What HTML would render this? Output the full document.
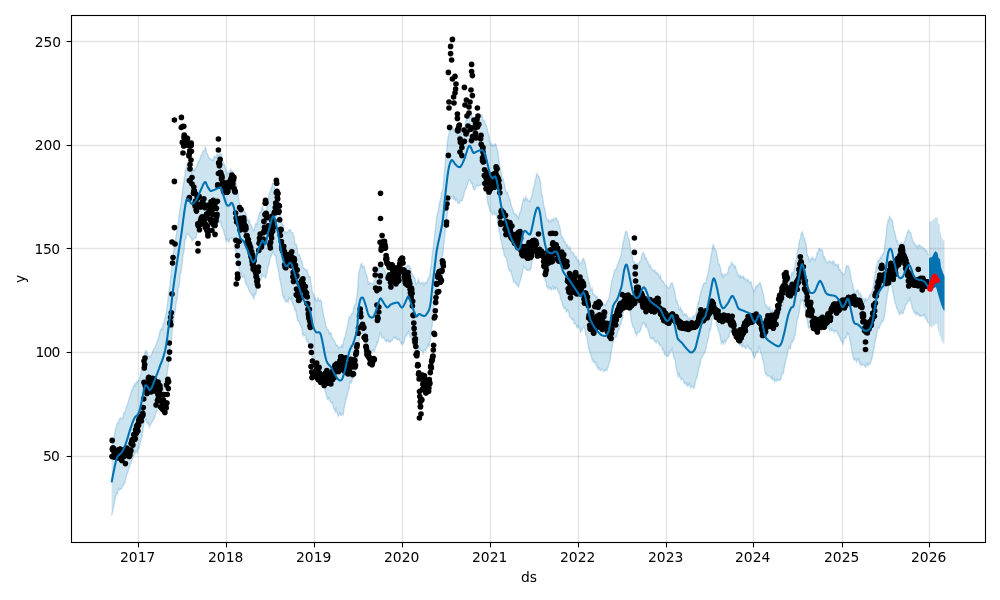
<!DOCTYPE html>
<html><head><meta charset="utf-8"><title>forecast</title>
<style>
html,body{margin:0;padding:0;background:#fff;}
svg{display:block;}
text{font-family:"DejaVu Sans","Liberation Sans",sans-serif;font-size:13.89px;fill:#000;}
</style></head><body>
<svg width="1000" height="600" viewBox="0 0 1000 600">
<rect width="1000" height="600" fill="#fff"/>
<defs><clipPath id="c"><rect x="71.5" y="15.5" width="914.0" height="527.0"/></clipPath></defs>
<g clip-path="url(#c)">
<g stroke="#808080" stroke-opacity="0.2" stroke-width="1.39"><line x1="138.5" x2="138.5" y1="15.5" y2="542.5"/><line x1="226.5" x2="226.5" y1="15.5" y2="542.5"/><line x1="314.5" x2="314.5" y1="15.5" y2="542.5"/><line x1="402.5" x2="402.5" y1="15.5" y2="542.5"/><line x1="490.5" x2="490.5" y1="15.5" y2="542.5"/><line x1="578.5" x2="578.5" y1="15.5" y2="542.5"/><line x1="666.5" x2="666.5" y1="15.5" y2="542.5"/><line x1="753.5" x2="753.5" y1="15.5" y2="542.5"/><line x1="842.5" x2="842.5" y1="15.5" y2="542.5"/><line x1="929.5" x2="929.5" y1="15.5" y2="542.5"/><line x1="71.5" x2="985.5" y1="456.5" y2="456.5"/><line x1="71.5" x2="985.5" y1="352.5" y2="352.5"/><line x1="71.5" x2="985.5" y1="248.5" y2="248.5"/><line x1="71.5" x2="985.5" y1="145.5" y2="145.5"/><line x1="71.5" x2="985.5" y1="41.5" y2="41.5"/></g>
<polygon points="111.6,449.9 112.1,446.3 112.6,443.6 113.1,440.7 113.6,438.6 114.1,437.9 114.6,434.8 115.1,430.9 115.6,429.3 116.1,428.1 116.6,425.8 117.1,423.6 117.6,422.5 118.1,423.1 118.6,421.4 119.1,420.2 119.6,419.1 120.1,418.2 120.6,418.1 121.1,418.3 121.6,418.4 122.1,418.1 122.6,418.4 123.1,417.3 123.6,414 124.1,412.4 124.6,413.1 125.1,412.4 125.6,409.9 126.1,407.9 126.6,406.7 127.1,404.7 127.6,404.5 128.1,402.6 128.6,400 129.1,399.5 129.6,397.5 130.1,395.2 130.6,394.3 131.1,393 131.6,390.6 132.1,389.3 132.6,389.9 133.1,387.5 133.6,385.7 134.1,386 134.6,383.7 135.1,384.7 135.6,385.4 136.1,382.5 136.6,381.7 137.1,382.7 137.6,381.9 138.1,381.2 138.6,380.5 139.1,379.6 139.6,379.7 140.1,376.8 140.6,374.2 141.1,372 141.6,369.6 142.1,366.6 142.6,363.4 143.1,361.4 143.6,359.6 144.1,358.1 144.6,354.4 145.1,351.5 145.6,352.3 146.1,351.4 146.6,350.7 147.1,352.5 147.6,354.5 148.1,356 148.6,355.9 149.1,355.8 149.6,356.6 150.1,357.5 150.6,356.7 151.1,354.4 151.6,354.5 152.1,353.5 152.6,351.8 153.1,350.2 153.6,349 154.1,348.5 154.6,348.1 155.1,347.6 155.6,345.4 156.1,344.5 156.6,342.8 157.1,341.6 157.6,340.5 158.1,339.1 158.6,336.8 159.1,335.2 159.6,333.5 160.1,330.2 160.6,329.9 161.1,329.4 161.6,328.5 162.1,329.4 162.6,327.6 163.1,324 163.6,323.1 164.1,322.2 164.6,320.2 165.1,317.4 165.6,315.8 166.1,313.8 166.6,309.7 167.1,305.9 167.6,302.8 168.1,298.2 168.6,294.1 169.1,290.2 169.6,286.8 170.1,283.5 170.6,278.6 171.1,273.8 171.6,269.4 172.1,263.5 172.6,257.7 173.1,255.8 173.6,251.6 174.1,248.3 174.6,245.3 175.1,241.8 175.6,239.1 176.1,236 176.6,233.3 177.1,227.9 177.6,225.5 178.1,224.4 178.6,220.3 179.1,215.5 179.6,211.9 180.1,208 180.6,205.6 181.1,202.7 181.6,198.2 182.1,194.3 182.6,189.9 183.1,185.7 183.6,183.3 184.1,180.6 184.6,176.8 185.1,174.2 185.6,170.1 186.1,167.6 186.6,166 187.1,165.6 187.6,165.8 188.1,165.7 188.6,165.4 189.1,165.9 189.6,169 190.1,169.9 190.6,169 191.1,170.3 191.6,173 192.1,172 192.6,170.6 193.1,170.6 193.6,169.1 194.1,169.5 194.6,170.6 195.1,169.4 195.6,168.2 196.1,167.7 196.6,166.8 197.1,165.3 197.6,163.7 198.1,161.5 198.6,162.1 199.1,161.5 199.6,159.4 200.1,158.7 200.6,156.9 201.1,155.1 201.6,155 202.1,154 202.6,152.2 203.1,151.1 203.6,151.2 204.1,150.8 204.6,149.7 205.1,148.4 205.6,147.4 206.1,149.7 206.6,152.9 207.1,153.5 207.6,154.1 208.1,155.8 208.6,156.9 209.1,158.1 209.6,158 210.1,159.2 210.6,159.2 211.1,158.9 211.6,160 212.1,159.8 212.6,160.6 213.1,160.9 213.6,158.5 214.1,155.6 214.6,157.1 215.1,157.3 215.6,156.5 216.1,157.7 216.6,156 217.1,153.6 217.6,154.8 218.1,156.1 218.6,155.3 219.1,155.1 219.6,154.6 220.1,153.3 220.6,153.8 221.1,154.6 221.6,154.6 222.1,157.5 222.6,160.8 223.1,162 223.6,162.9 224.1,163.8 224.6,165.4 225.1,166.9 225.6,169.1 226.1,170.3 226.6,171.5 227.1,173.2 227.6,174.7 228.1,173 228.6,172.1 229.1,173.1 229.6,172 230.1,170.4 230.6,169.4 231.1,170.6 231.6,170.7 232.1,170.7 232.6,171.3 233.1,173.2 233.6,175.2 234.1,174.6 234.6,176 235.1,178.5 235.6,178.8 236.1,182.1 236.6,188.3 237.1,191.2 237.6,191.7 238.1,193.6 238.6,198.2 239.1,201.9 239.6,203.3 240.1,204.7 240.6,205.8 241.1,207.5 241.6,208.4 242.1,208.3 242.6,207.4 243.1,208.1 243.6,209.3 244.1,210.7 244.6,211.7 245.1,211.5 245.6,213.6 246.1,213.6 246.6,216.4 247.1,219.6 247.6,219 248.1,219.7 248.6,221.7 249.1,220 249.6,220.8 250.1,223.8 250.6,224.6 251.1,225.1 251.6,225.9 252.1,227.7 252.6,229.5 253.1,230.3 253.6,229.5 254.1,230.1 254.6,228.4 255.1,225.9 255.6,223.5 256.1,223.8 256.6,224.3 257.1,222.1 257.6,220.1 258.1,218.1 258.6,216.3 259.1,214.7 259.6,213.1 260.1,212 260.6,212.2 261.1,211.5 261.6,209.3 262.1,207.2 262.6,206.7 263.1,209 263.6,210.8 264.1,210.5 264.6,210.9 265.1,210.6 265.6,210.4 266.1,210.5 266.6,208 267.1,204.2 267.6,201.7 268.1,200 268.6,196.6 269.1,194.1 269.6,193.1 270.1,192.1 270.6,190.1 271.1,187.9 271.6,188.2 272.1,186 272.6,183.1 273.1,182.6 273.6,183.4 274.1,183.2 274.6,184.9 275.1,189.2 275.6,190.7 276.1,191.4 276.6,193.2 277.1,196 277.6,198 278.1,199.3 278.6,203.8 279.1,206.9 279.6,209.5 280.1,214.7 280.6,217.1 281.1,218.8 281.6,222.5 282.1,224.2 282.6,223.9 283.1,224.6 283.6,226.8 284.1,230.7 284.6,233 285.1,232.1 285.6,231.5 286.1,231.8 286.6,232.6 287.1,232.6 287.6,232 288.1,231.9 288.6,230.8 289.1,230 289.6,230 290.1,229.6 290.6,229.9 291.1,231.8 291.6,232.7 292.1,232.8 292.6,232.6 293.1,234.5 293.6,235.9 294.1,236.2 294.6,240.5 295.1,243.9 295.6,244.8 296.1,244.3 296.6,245.6 297.1,248.1 297.6,250.3 298.1,253.9 298.6,255.1 299.1,254.6 299.6,255 300.1,256.8 300.6,258.9 301.1,259.3 301.6,260.6 302.1,262.2 302.6,264.4 303.1,267.3 303.6,268.5 304.1,268.4 304.6,268.6 305.1,269.5 305.6,269.5 306.1,270.1 306.6,270.1 307.1,270 307.6,272.7 308.1,274.6 308.6,275.1 309.1,277.3 309.6,276.7 310.1,276.6 310.6,280.5 311.1,284.1 311.6,287 312.1,290.4 312.6,293.3 313.1,293.3 313.6,293.8 314.1,296.5 314.6,298.7 315.1,297.2 315.6,298.6 316.1,301 316.6,301 317.1,300.2 317.6,298.6 318.1,297.8 318.6,300 319.1,301 319.6,300.5 320.1,300.5 320.6,300 321.1,301.1 321.6,302.6 322.1,307.2 322.6,309.1 323.1,311.8 323.6,315.6 324.1,317 324.6,319.1 325.1,321.9 325.6,324.4 326.1,326.5 326.6,327.6 327.1,329.1 327.6,329.9 328.1,329.7 328.6,330.9 329.1,333.5 329.6,332.9 330.1,332.2 330.6,333.2 331.1,333.1 331.6,335.5 332.1,336.7 332.6,338.2 333.1,338.9 333.6,339.4 334.1,340.7 334.6,340.9 335.1,342.3 335.6,343.7 336.1,344.8 336.6,345.7 337.1,345 337.6,345.4 338.1,346.7 338.6,348.1 339.1,347.8 339.6,347.1 340.1,346.5 340.6,346.9 341.1,347.2 341.6,344.9 342.1,345 342.6,346.4 343.1,343.9 343.6,340.5 344.1,339.4 344.6,337.5 345.1,336.2 345.6,334.2 346.1,331.3 346.6,330.2 347.1,327.6 347.6,325.2 348.1,322.7 348.6,319.3 349.1,317.1 349.6,317.9 350.1,318 350.6,315.5 351.1,314.8 351.6,313.9 352.1,313.2 352.6,313.5 353.1,312.2 353.6,308 354.1,306.7 354.6,305.1 355.1,304.5 355.6,304.5 356.1,301.1 356.6,297.1 357.1,294.5 357.6,290.8 358.1,281.1 358.6,274.3 359.1,271.9 359.6,269.9 360.1,267.8 360.6,265.3 361.1,264.1 361.6,263.4 362.1,265.7 362.6,267.5 363.1,266.3 363.6,266 364.1,266.2 364.6,268 365.1,270.8 365.6,272.3 366.1,273.9 366.6,274.6 367.1,276.5 367.6,278.9 368.1,281.6 368.6,284.2 369.1,284.2 369.6,282.5 370.1,282.9 370.6,283.2 371.1,282.9 371.6,283.7 372.1,283.5 372.6,283.8 373.1,284.2 373.6,283.3 374.1,282.1 374.6,280.4 375.1,278.6 375.6,277.7 376.1,276.5 376.6,275.4 377.1,274.1 377.6,271.2 378.1,269.6 378.6,268.2 379.1,266.1 379.6,265.8 380.1,263.8 380.6,263.4 381.1,265.4 381.6,265.8 382.1,266.5 382.6,267.3 383.1,267.8 383.6,268.4 384.1,269.5 384.6,270.6 385.1,271.3 385.6,272 386.1,273.7 386.6,274 387.1,273.8 387.6,274.4 388.1,273.1 388.6,272.7 389.1,274 389.6,273.3 390.1,273 390.6,271.8 391.1,270.5 391.6,271.5 392.1,271.8 392.6,271.2 393.1,269.7 393.6,269.9 394.1,271.7 394.6,272.2 395.1,271.4 395.6,269.6 396.1,270.1 396.6,271 397.1,268.2 397.6,268.4 398.1,269.3 398.6,268.5 399.1,269.8 399.6,272.5 400.1,273.6 400.6,273.4 401.1,275.5 401.6,276.7 402.1,275.1 402.6,273.8 403.1,272.1 403.6,270.9 404.1,271.3 404.6,271.2 405.1,270.2 405.6,269.6 406.1,267.9 406.6,265.9 407.1,266.1 407.6,265.4 408.1,265.2 408.6,265.4 409.1,265.5 409.6,267 410.1,268.1 410.6,268 411.1,270.3 411.6,273.2 412.1,274.3 412.6,274.3 413.1,275 413.6,277.3 414.1,277.9 414.6,277.5 415.1,279 415.6,282.7 416.1,284.4 416.6,283.5 417.1,283.2 417.6,283.3 418.1,280.4 418.6,279.2 419.1,281.6 419.6,282.2 420.1,283.5 420.6,284.2 421.1,283.4 421.6,282.8 422.1,283.2 422.6,282.8 423.1,282.2 423.6,283.6 424.1,285.2 424.6,284.2 425.1,282.4 425.6,282.3 426.1,283 426.6,282.3 427.1,282 427.6,280.3 428.1,278.1 428.6,277.7 429.1,277.2 429.6,276.6 430.1,272.4 430.6,268.1 431.1,265.9 431.6,260.8 432.1,254.6 432.6,251.7 433.1,248.9 433.6,244.5 434.1,239.4 434.6,235.8 435.1,231.7 435.6,227.4 436.1,222.7 436.6,217.3 437.1,215.2 437.6,212.9 438.1,210.7 438.6,209 439.1,205.1 439.6,202.7 440.1,200.7 440.6,198.8 441.1,196.3 441.6,192.8 442.1,191.6 442.6,190.7 443.1,187.5 443.6,181.2 444.1,174.4 444.6,170 445.1,165.1 445.6,158.4 446.1,154.3 446.6,151.1 447.1,146 447.6,140.5 448.1,136.7 448.6,135.7 449.1,133.8 449.6,131.2 450.1,130.4 450.6,130.1 451.1,128.4 451.6,127.6 452.1,127.2 452.6,127.1 453.1,127.7 453.6,129.5 454.1,131.3 454.6,130.5 455.1,131 455.6,132.1 456.1,133.4 456.6,132.3 457.1,131.4 457.6,132.9 458.1,135.9 458.6,136.9 459.1,134.7 459.6,134.5 460.1,135.6 460.6,134.5 461.1,132 461.6,132.8 462.1,132.8 462.6,131.4 463.1,129.3 463.6,128.7 464.1,129.4 464.6,127.2 465.1,125.2 465.6,121.7 466.1,120.2 466.6,119.9 467.1,118.1 467.6,117.1 468.1,114.9 468.6,111.9 469.1,111.7 469.6,112.9 470.1,113 470.6,114 471.1,114.8 471.6,114.6 472.1,117 472.6,120.2 473.1,120.9 473.6,122.6 474.1,121.8 474.6,118.8 475.1,118 475.6,117.9 476.1,117.8 476.6,118.4 477.1,117.2 477.6,117.1 478.1,117.4 478.6,117.1 479.1,117.9 479.6,117.3 480.1,117.1 480.6,116.7 481.1,116.2 481.6,115.1 482.1,115.4 482.6,118.5 483.1,120.5 483.6,120.8 484.1,120.9 484.6,120.5 485.1,122.7 485.6,124.5 486.1,125 486.6,126.4 487.1,128.5 487.6,130.8 488.1,133 488.6,134.7 489.1,136.6 489.6,141.3 490.1,143.1 490.6,142.4 491.1,143.7 491.6,145.4 492.1,145.1 492.6,144.7 493.1,146.1 493.6,145.9 494.1,144.3 494.6,144.9 495.1,144.3 495.6,143.8 496.1,145.2 496.6,148.3 497.1,149.5 497.6,150.2 498.1,153.7 498.6,157.7 499.1,161.2 499.6,164.8 500.1,166.7 500.6,169.4 501.1,173.3 501.6,174.3 502.1,177.2 502.6,179 503.1,178.8 503.6,180.9 504.1,182.9 504.6,184.2 505.1,187.3 505.6,189.7 506.1,192.1 506.6,193 507.1,191.8 507.6,192.9 508.1,194.7 508.6,195.8 509.1,198.3 509.6,200 510.1,199.7 510.6,202.2 511.1,205 511.6,206 512.1,207.5 512.6,208.7 513.1,210.1 513.6,211.7 514.1,213.3 514.6,213.6 515.1,214.4 515.6,213.9 516.1,214.1 516.6,215.6 517.1,216.6 517.6,215.8 518.1,216.8 518.6,218.1 519.1,215.2 519.6,212.9 520.1,212.1 520.6,211.5 521.1,209.2 521.6,207 522.1,204.3 522.6,202.2 523.1,200.2 523.6,198.5 524.1,199.1 524.6,200.7 525.1,199 525.6,196.9 526.1,197.8 526.6,199.5 527.1,199.8 527.6,199.3 528.1,200.9 528.6,200.9 529.1,200.6 529.6,201.3 530.1,200.3 530.6,198.8 531.1,198.5 531.6,197.2 532.1,195.3 532.6,191.4 533.1,188.5 533.6,188 534.1,186.2 534.6,183.4 535.1,180.2 535.6,178.7 536.1,177.4 536.6,174.3 537.1,173.5 537.6,175.4 538.1,175.8 538.6,176.1 539.1,176.7 539.6,178.4 540.1,180.6 540.6,182.7 541.1,189 541.6,193.5 542.1,194.7 542.6,197.1 543.1,200.9 543.6,205 544.1,207.4 544.6,207.7 545.1,210.4 545.6,213.8 546.1,216.3 546.6,218.6 547.1,219.4 547.6,220.3 548.1,219.4 548.6,219.8 549.1,222.4 549.6,222.3 550.1,220.8 550.6,220.3 551.1,221.4 551.6,220.6 552.1,219.1 552.6,220 553.1,220.7 553.6,219.4 554.1,218.6 554.6,218.5 555.1,218.1 555.6,218.5 556.1,217.9 556.6,218.4 557.1,220.5 557.6,220.7 558.1,220.8 558.6,223.9 559.1,225 559.6,226.3 560.1,228.3 560.6,230.7 561.1,235.1 561.6,237.4 562.1,236.9 562.6,237.3 563.1,239.1 563.6,239.6 564.1,241.7 564.6,241.3 565.1,241.8 565.6,243.8 566.1,244.6 566.6,245.5 567.1,244.5 567.6,245.1 568.1,247 568.6,247.5 569.1,248.2 569.6,248.6 570.1,247.1 570.6,249.2 571.1,252 571.6,251.9 572.1,251.8 572.6,253.2 573.1,253.6 573.6,253 574.1,254 574.6,256.4 575.1,255.9 575.6,256.8 576.1,258.2 576.6,256.9 577.1,259.3 577.6,261 578.1,259.9 578.6,260.3 579.1,262.8 579.6,264.5 580.1,264.1 580.6,263.4 581.1,263.6 581.6,261.6 582.1,260.6 582.6,260.1 583.1,258.7 583.6,258.3 584.1,259.9 584.6,261.5 585.1,262.6 585.6,264.3 586.1,267.7 586.6,270.3 587.1,272.3 587.6,275.7 588.1,277.9 588.6,281.6 589.1,282.8 589.6,283.8 590.1,285.9 590.6,288.5 591.1,291.3 591.6,289.4 592.1,288.2 592.6,291.2 593.1,293.7 593.6,294.4 594.1,294.3 594.6,294.8 595.1,295.9 595.6,296.1 596.1,297.2 596.6,296 597.1,296.6 597.6,298.1 598.1,298.7 598.6,300.1 599.1,299.2 599.6,300.5 600.1,301 600.6,300.3 601.1,300.4 601.6,301.3 602.1,302.9 602.6,304.2 603.1,303.8 603.6,304.2 604.1,304.6 604.6,304 605.1,304.4 605.6,305.1 606.1,303.7 606.6,302.1 607.1,301.6 607.6,301.3 608.1,299.9 608.6,299 609.1,297.7 609.6,294.9 610.1,292 610.6,288.5 611.1,286 611.6,282 612.1,280.3 612.6,278.3 613.1,276 613.6,274.8 614.1,271.9 614.6,270.3 615.1,270.3 615.6,270 616.1,269 616.6,268.1 617.1,265.9 617.6,264.6 618.1,262.9 618.6,261.7 619.1,261.2 619.6,259 620.1,257.8 620.6,256.9 621.1,254.7 621.6,251.2 622.1,248.8 622.6,245.4 623.1,241.8 623.6,241.3 624.1,238.3 624.6,235.4 625.1,233.4 625.6,231.7 626.1,231.7 626.6,231.3 627.1,232.4 627.6,235.5 628.1,237.2 628.6,238.4 629.1,240.1 629.6,243.1 630.1,246.4 630.6,249.1 631.1,252.1 631.6,255.3 632.1,256 632.6,256.4 633.1,260.7 633.6,261.9 634.1,261.8 634.6,262.8 635.1,262.9 635.6,263.7 636.1,267.1 636.6,268.1 637.1,265 637.6,263 638.1,263.2 638.6,264.5 639.1,263.3 639.6,261.6 640.1,261.8 640.6,261.8 641.1,259.1 641.6,256.4 642.1,254.2 642.6,253.6 643.1,252.3 643.6,253.2 644.1,254.5 644.6,254.8 645.1,257.6 645.6,258.9 646.1,257.7 646.6,258.5 647.1,261.5 647.6,261.8 648.1,262 648.6,264.3 649.1,265.1 649.6,267.2 650.1,267.2 650.6,265.5 651.1,267.7 651.6,268.7 652.1,269.3 652.6,270.2 653.1,270.5 653.6,271.3 654.1,270.2 654.6,269.8 655.1,271.5 655.6,272.1 656.1,273.2 656.6,272.5 657.1,272.1 657.6,273.9 658.1,275.2 658.6,274.3 659.1,276.1 659.6,279 660.1,276.3 660.6,275.1 661.1,279.2 661.6,280.7 662.1,280.2 662.6,280.8 663.1,281.1 663.6,281.9 664.1,282.8 664.6,284.4 665.1,285.3 665.6,285.2 666.1,285.4 666.6,286.4 667.1,286.8 667.6,286.9 668.1,288 668.6,288.3 669.1,287.7 669.6,287.2 670.1,285.7 670.6,284.4 671.1,283.3 671.6,283.3 672.1,282.7 672.6,284.1 673.1,286.5 673.6,286.6 674.1,288.7 674.6,291 675.1,293.9 675.6,296.3 676.1,299.8 676.6,301.8 677.1,301.2 677.6,303.2 678.1,304.5 678.6,305.9 679.1,308.7 679.6,309.7 680.1,308.1 680.6,307.2 681.1,310.2 681.6,311.6 682.1,310.6 682.6,311.6 683.1,314.4 683.6,315.3 684.1,314.1 684.6,313.7 685.1,314.8 685.6,314.8 686.1,314 686.6,315.2 687.1,316 687.6,316.5 688.1,317.8 688.6,319.9 689.1,319.3 689.6,317.6 690.1,318.4 690.6,319.3 691.1,320.3 691.6,319.3 692.1,317.7 692.6,316.5 693.1,315.9 693.6,317 694.1,317.7 694.6,316.2 695.1,314.9 695.6,314.3 696.1,313.2 696.6,310.4 697.1,307.7 697.6,304.7 698.1,302.1 698.6,302.9 699.1,300 699.6,296.3 700.1,295.8 700.6,293.6 701.1,290.9 701.6,289.4 702.1,288 702.6,286.8 703.1,284.5 703.6,283.8 704.1,283.8 704.6,282.8 705.1,283.1 705.6,283.2 706.1,282.1 706.6,279.2 707.1,276.9 707.6,275.7 708.1,273.5 708.6,271.2 709.1,267.7 709.6,263.8 710.1,262.1 710.6,258.6 711.1,255.3 711.6,253.1 712.1,250.2 712.6,246.8 713.1,244.7 713.6,245.3 714.1,247.1 714.6,248.6 715.1,249.2 715.6,249.8 716.1,251.1 716.6,253.2 717.1,255.9 717.6,258.2 718.1,262.2 718.6,264.1 719.1,263.8 719.6,265.2 720.1,267 720.6,268.5 721.1,272.2 721.6,274.7 722.1,273.5 722.6,274.6 723.1,277.1 723.6,276.5 724.1,274.5 724.6,274.1 725.1,274.5 725.6,274.7 726.1,274.8 726.6,274.5 727.1,273.5 727.6,272.9 728.1,271.4 728.6,268.2 729.1,266.7 729.6,266.8 730.1,265.5 730.6,265.1 731.1,264 731.6,262.2 732.1,262.9 732.6,264.4 733.1,264.2 733.6,265.2 734.1,267 734.6,267.7 735.1,265.6 735.6,266.3 736.1,269.2 736.6,270.3 737.1,272.5 737.6,275.1 738.1,275.9 738.6,274.7 739.1,276.7 739.6,277.5 740.1,275.2 740.6,275.7 741.1,277.3 741.6,276.5 742.1,277.1 742.6,277.5 743.1,276.1 743.6,277.1 744.1,278.6 744.6,278.3 745.1,278.3 745.6,278.9 746.1,281 746.6,280.8 747.1,279.7 747.6,280.6 748.1,279.8 748.6,280.9 749.1,282.2 749.6,282.8 750.1,282.6 750.6,281.7 751.1,282 751.6,284.3 752.1,286.8 752.6,288.7 753.1,289.6 753.6,290.3 754.1,291.8 754.6,291.1 755.1,288.6 755.6,286.8 756.1,286.1 756.6,287.3 757.1,286.7 757.6,285.3 758.1,285 758.6,284.3 759.1,284 759.6,282.6 760.1,282.4 760.6,283.9 761.1,285.5 761.6,286.9 762.1,288.3 762.6,292 763.1,293.3 763.6,294.6 764.1,298.1 764.6,300.4 765.1,304 765.6,305.2 766.1,306 766.6,305.4 767.1,306.6 767.6,307.7 768.1,308.1 768.6,309.2 769.1,307.1 769.6,306.8 770.1,309 770.6,310.9 771.1,311.5 771.6,310.8 772.1,309.6 772.6,310.8 773.1,313.5 773.6,312.6 774.1,310.9 774.6,309.6 775.1,310.7 775.6,314.4 776.1,314.7 776.6,314 777.1,313.9 777.6,312 778.1,312.9 778.6,312.5 779.1,311 779.6,312.1 780.1,312.7 780.6,312.4 781.1,310.9 781.6,308.7 782.1,306.2 782.6,305 783.1,303.3 783.6,300.5 784.1,298.1 784.6,296.8 785.1,294 785.6,291.1 786.1,288.8 786.6,287.6 787.1,287 787.6,286.4 788.1,282.8 788.6,279.2 789.1,279.9 789.6,279.1 790.1,276.8 790.6,277.3 791.1,276.1 791.6,272.9 792.1,272.3 792.6,273.4 793.1,274.4 793.6,271.9 794.1,268.5 794.6,267.3 795.1,266 795.6,262 796.1,259.4 796.6,257.9 797.1,253.5 797.6,250.3 798.1,249.4 798.6,246.9 799.1,242.1 799.6,239.7 800.1,239.4 800.6,238.4 801.1,233.6 801.6,233.1 802.1,233.1 802.6,232.1 803.1,235.3 803.6,237 804.1,238.1 804.6,238.4 805.1,241 805.6,243.9 806.1,243.9 806.6,249 807.1,254.1 807.6,255.3 808.1,256 808.6,257.2 809.1,260.5 809.6,261.5 810.1,260.7 810.6,258.9 811.1,259.4 811.6,258.2 812.1,257 812.6,259 813.1,259.2 813.6,258.6 814.1,259.2 814.6,260.2 815.1,260.8 815.6,258.2 816.1,257 816.6,255.2 817.1,252.5 817.6,253.1 818.1,251.4 818.6,249.4 819.1,248.5 819.6,248.4 820.1,250.4 820.6,250 821.1,249.3 821.6,250.1 822.1,250 822.6,250.7 823.1,253.7 823.6,257.6 824.1,258.2 824.6,257.1 825.1,258.5 825.6,260 826.1,260.7 826.6,262.2 827.1,262.4 827.6,263 828.1,262.5 828.6,261.5 829.1,260.8 829.6,261 830.1,261.5 830.6,261.6 831.1,262.3 831.6,262.3 832.1,263.6 832.6,261.7 833.1,260.7 833.6,261 834.1,262.5 834.6,265.1 835.1,265.3 835.6,264 836.1,264.7 836.6,264.5 837.1,265 837.6,266.4 838.1,263.5 838.6,266.9 839.1,270.8 839.6,269 840.1,269.1 840.6,271 841.1,272.4 841.6,272.4 842.1,272.4 842.6,274.2 843.1,274.5 843.6,274.7 844.1,273.9 844.6,274 845.1,272.5 845.6,269.4 846.1,267.2 846.6,264.9 847.1,266.6 847.6,266.3 848.1,265.7 848.6,267.1 849.1,267.9 849.6,269.6 850.1,272.6 850.6,274.7 851.1,278.2 851.6,281.6 852.1,282.8 852.6,283.6 853.1,286.4 853.6,288.9 854.1,290.7 854.6,293.6 855.1,293.8 855.6,292 856.1,291.1 856.6,290.6 857.1,290.1 857.6,290 858.1,291 858.6,292.1 859.1,293.7 859.6,294.1 860.1,293.6 860.6,293.4 861.1,295.3 861.6,297.1 862.1,297.8 862.6,298.5 863.1,298.9 863.6,298.6 864.1,298.4 864.6,301 865.1,299.5 865.6,298.3 866.1,300.7 866.6,300.3 867.1,299.4 867.6,299.8 868.1,298.5 868.6,297.4 869.1,296.6 869.6,295 870.1,294.3 870.6,294 871.1,293.6 871.6,293 872.1,290.2 872.6,289.3 873.1,288.6 873.6,284.5 874.1,280 874.6,276.2 875.1,274.1 875.6,271.5 876.1,266.9 876.6,264.6 877.1,266.4 877.6,262.7 878.1,260.2 878.6,261.3 879.1,259.7 879.6,259.8 880.1,258.2 880.6,256.9 881.1,258.1 881.6,257 882.1,254.6 882.6,254.2 883.1,253.6 883.6,253.9 884.1,251.4 884.6,247.1 885.1,242.8 885.6,238.6 886.1,235.6 886.6,228.8 887.1,225.3 887.6,223.2 888.1,219.9 888.6,220.5 889.1,218.7 889.6,215.6 890.1,217.5 890.6,218.6 891.1,218.9 891.6,220 892.1,219.9 892.6,221.9 893.1,226.1 893.6,229.1 894.1,230.4 894.6,231.6 895.1,233.6 895.6,235.3 896.1,238.7 896.6,241 897.1,240.1 897.6,240.9 898.1,243 898.6,244.8 899.1,244.6 899.6,243.9 900.1,244.2 900.6,243.6 901.1,242.5 901.6,244.3 902.1,244.9 902.6,243.9 903.1,244.4 903.6,243.6 904.1,241.7 904.6,241.3 905.1,240.6 905.6,237.5 906.1,236.4 906.6,236 907.1,233.4 907.6,231.9 908.1,231.7 908.6,230 909.1,230.2 909.6,232 910.1,232.8 910.6,232.8 911.1,234.2 911.6,236.8 912.1,238.7 912.6,239.5 913.1,241.6 913.6,242.8 914.1,242.8 914.6,245.4 915.1,245.4 915.6,244.5 916.1,246.1 916.6,246.8 917.1,245.7 917.6,246.2 918.1,247.7 918.6,245.9 919.1,244.6 919.6,245.6 920.1,245.5 920.6,245.8 921.1,246.1 921.6,247.4 922.1,247.4 922.6,247.3 923.1,248.6 923.6,248.4 924.1,248.3 924.6,250.6 925.1,251 925.6,249.8 926.1,250.1 926.6,250.6 927.1,251.7 927.6,254.1 928.1,254.6 928.6,254.7 928.6,323.3 928.1,322.9 927.6,321.6 927.1,320.6 926.6,319.6 926.1,318.5 925.6,318.6 925.1,317 924.6,314.8 924.1,315.6 923.6,315.9 923.1,315.2 922.6,315.6 922.1,316.1 921.6,315.9 921.1,315.8 920.6,316.3 920.1,315.5 919.6,315.1 919.1,316.1 918.6,315.3 918.1,313.9 917.6,314.2 917.1,312.8 916.6,312.5 916.1,314.9 915.6,314.3 915.1,312.2 914.6,312.8 914.1,312.5 913.6,310.3 913.1,309.6 912.6,309.2 912.1,307.3 911.6,304.7 911.1,302.5 910.6,300.8 910.1,298 909.6,298.7 909.1,301.3 908.6,301.1 908.1,300.7 907.6,301.9 907.1,303.6 906.6,304.2 906.1,304.2 905.6,305.1 905.1,307.5 904.6,309.9 904.1,309.9 903.6,309.8 903.1,313.5 902.6,313.8 902.1,312.8 901.6,312.8 901.1,311.9 900.6,312.8 900.1,314.6 899.6,314.6 899.1,313.9 898.6,312.3 898.1,310.7 897.6,309.8 897.1,308.3 896.6,308.6 896.1,306.1 895.6,303.5 895.1,303.3 894.6,301.7 894.1,297.5 893.6,295.1 893.1,294.1 892.6,290 892.1,287.5 891.6,286.1 891.1,283.7 890.6,280.1 890.1,281.1 889.6,284.4 889.1,285.3 888.6,288.6 888.1,291.7 887.6,293.4 887.1,296.6 886.6,299.7 886.1,303.5 885.6,308.3 885.1,312.8 884.6,315.7 884.1,317.5 883.6,320.5 883.1,321.3 882.6,321.3 882.1,322.1 881.6,321.4 881.1,323.2 880.6,324.8 880.1,325.3 879.6,327.1 879.1,328.5 878.6,328.5 878.1,327.6 877.6,329.1 877.1,331.3 876.6,335.3 876.1,337.6 875.6,338.8 875.1,342.6 874.6,345.3 874.1,348 873.6,350.7 873.1,351.2 872.6,355.4 872.1,358.6 871.6,358.9 871.1,361.6 870.6,362.1 870.1,363.8 869.6,364.4 869.1,363.7 868.6,365.3 868.1,365.8 867.6,365.3 867.1,363.2 866.6,363.4 866.1,367.1 865.6,367.3 865.1,366.3 864.6,365.8 864.1,364.3 863.6,364.5 863.1,365.1 862.6,365.1 862.1,365.4 861.6,365.5 861.1,363.3 860.6,362.8 860.1,364.7 859.6,363 859.1,359.9 858.6,360.5 858.1,360.7 857.6,357.9 857.1,359.8 856.6,361.9 856.1,360.7 855.6,359.6 855.1,358.9 854.6,360.1 854.1,359.9 853.6,358.9 853.1,356.8 852.6,355.1 852.1,352.1 851.6,349.5 851.1,345.9 850.6,343.3 850.1,342.1 849.6,338.4 849.1,336 848.6,333.9 848.1,333.4 847.6,334.8 847.1,333.5 846.6,335.3 846.1,338.3 845.6,337.8 845.1,338.1 844.6,338.5 844.1,339.4 843.6,341.3 843.1,344.1 842.6,343.5 842.1,341.7 841.6,340.9 841.1,340.9 840.6,340.2 840.1,338.5 839.6,336.8 839.1,335.9 838.6,336 838.1,333.8 837.6,333 837.1,333.1 836.6,330.7 836.1,330.7 835.6,331.1 835.1,330.8 834.6,331.5 834.1,332.4 833.6,331.4 833.1,330.8 832.6,330.3 832.1,329.6 831.6,330.7 831.1,330.3 830.6,328.5 830.1,329.9 829.6,331 829.1,328.7 828.6,326.3 828.1,327.3 827.6,327.9 827.1,328.2 826.6,328.4 826.1,326.3 825.6,325.1 825.1,325.3 824.6,325.6 824.1,322.8 823.6,319.9 823.1,319.4 822.6,318.8 822.1,318.3 821.6,317.8 821.1,315.3 820.6,314.8 820.1,316.5 819.6,317.6 819.1,317.9 818.6,316.9 818.1,315.9 817.6,318.9 817.1,320.6 816.6,321.2 816.1,324.4 815.6,326.1 815.1,325.8 814.6,325.5 814.1,325.5 813.6,325.2 813.1,326.2 812.6,326.4 812.1,327.1 811.6,327.6 811.1,328.1 810.6,329.4 810.1,328.5 809.6,327.2 809.1,327 808.6,327.9 808.1,325.6 807.6,322.3 807.1,319.4 806.6,317.4 806.1,315.9 805.6,311.8 805.1,307.9 804.6,307.5 804.1,307.4 803.6,303.3 803.1,300 802.6,299.9 802.1,301.2 801.6,301 801.1,300.2 800.6,303.1 800.1,306.3 799.6,309.1 799.1,312.7 798.6,315.3 798.1,318 797.6,319.3 797.1,320.6 796.6,324.2 796.1,327.2 795.6,331.3 795.1,335.7 794.6,336.4 794.1,338.1 793.6,340.3 793.1,339.8 792.6,342 792.1,342.6 791.6,341.6 791.1,343.6 790.6,347.7 790.1,349.4 789.6,347 789.1,346.6 788.6,348.4 788.1,350.5 787.6,352.7 787.1,355.7 786.6,357.1 786.1,359.3 785.6,361.4 785.1,363.7 784.6,366.5 784.1,368.5 783.6,372.3 783.1,373.6 782.6,372.9 782.1,373.7 781.6,376.1 781.1,378.8 780.6,380.1 780.1,380.4 779.6,380 779.1,380 778.6,380.2 778.1,380.1 777.6,380.8 777.1,380 776.6,379.3 776.1,381.2 775.6,380.6 775.1,380.2 774.6,381.7 774.1,379.7 773.6,377.7 773.1,379.9 772.6,379.6 772.1,376.7 771.6,378 771.1,378.9 770.6,377.6 770.1,377.5 769.6,376.5 769.1,375.6 768.6,375.7 768.1,375.7 767.6,376.2 767.1,375.2 766.6,373.8 766.1,374.6 765.6,374.3 765.1,372 764.6,370.3 764.1,366 763.6,362.7 763.1,361.4 762.6,359.6 762.1,357 761.6,354.1 761.1,353.1 760.6,353 760.1,350.3 759.6,347.7 759.1,346.9 758.6,349.1 758.1,351.8 757.6,351.8 757.1,352.5 756.6,352 756.1,352.7 755.6,354.9 755.1,356.2 754.6,358 754.1,357.4 753.6,355.5 753.1,355.5 752.6,353.1 752.1,351.7 751.6,351 751.1,349 750.6,349.8 750.1,349.5 749.6,348.1 749.1,348.4 748.6,347.2 748.1,346.5 747.6,345.4 747.1,346.1 746.6,347.5 746.1,348.7 745.6,348.4 745.1,346.9 744.6,347.1 744.1,347.4 743.6,345.3 743.1,344 742.6,346.5 742.1,347.1 741.6,345.4 741.1,344.2 740.6,344.5 740.1,344.8 739.6,345.3 739.1,343.6 738.6,341.4 738.1,342.9 737.6,342.7 737.1,341.9 736.6,341.6 736.1,338.2 735.6,336.5 735.1,336.5 734.6,334.5 734.1,331.3 733.6,330.4 733.1,330.5 732.6,329.6 732.1,330.8 731.6,330.5 731.1,328.4 730.6,329.6 730.1,332.2 729.6,333.5 729.1,336.3 728.6,337.6 728.1,337.9 727.6,339 727.1,339.1 726.6,339.3 726.1,340.8 725.6,342.6 725.1,340.7 724.6,340.4 724.1,342.4 723.6,344 723.1,343.1 722.6,341.7 722.1,343.2 721.6,344 721.1,342.3 720.6,340 720.1,336.9 719.6,333.5 719.1,332.6 718.6,332.1 718.1,329.8 717.6,327.6 717.1,326.9 716.6,322.7 716.1,317.9 715.6,316.7 715.1,316.2 714.6,314.1 714.1,314.4 713.6,315.5 713.1,314.7 712.6,315 712.1,318.3 711.6,323 711.1,326 710.6,329.1 710.1,330.7 709.6,329.8 709.1,333.4 708.6,338.2 708.1,339.3 707.6,341.4 707.1,343.2 706.6,344.6 706.1,348.1 705.6,349.6 705.1,351.1 704.6,353.5 704.1,353.6 703.6,354.3 703.1,355.3 702.6,356.2 702.1,356.6 701.6,358.1 701.1,359.7 700.6,360.7 700.1,364.2 699.6,365.9 699.1,366.8 698.6,370 698.1,372.3 697.6,374.4 697.1,377.2 696.6,378.4 696.1,379.4 695.6,381.3 695.1,383.2 694.6,386.2 694.1,388.1 693.6,388.3 693.1,386.1 692.6,385.6 692.1,386.7 691.6,387.2 691.1,387 690.6,388.1 690.1,386.6 689.6,384.1 689.1,385.6 688.6,385.6 688.1,384.3 687.6,386.3 687.1,386.1 686.6,383.4 686.1,384.1 685.6,383.7 685.1,382.8 684.6,383.9 684.1,383.1 683.6,381.5 683.1,380 682.6,379.1 682.1,378.4 681.6,378.7 681.1,380 680.6,377.5 680.1,377.6 679.6,376.7 679.1,374.2 678.6,375.7 678.1,376.8 677.6,374.3 677.1,371.6 676.6,370 676.1,367.5 675.6,364.5 675.1,360.2 674.6,358.4 674.1,358.2 673.6,356.8 673.1,354.1 672.6,350.7 672.1,348.6 671.6,349.4 671.1,351.6 670.6,351.3 670.1,351 669.6,353.6 669.1,354.7 668.6,355.5 668.1,356.6 667.6,356.4 667.1,355.7 666.6,355.9 666.1,354.8 665.6,354.7 665.1,355.3 664.6,354 664.1,352.7 663.6,350 663.1,349.2 662.6,350.2 662.1,348.9 661.6,346.7 661.1,345.6 660.6,344.9 660.1,344.6 659.6,345.6 659.1,344.1 658.6,342.9 658.1,342 657.6,341.4 657.1,341.1 656.6,341.7 656.1,342.8 655.6,341.9 655.1,341.2 654.6,341.5 654.1,340.1 653.6,338.1 653.1,339.2 652.6,338.8 652.1,338.1 651.6,338.9 651.1,339 650.6,338.4 650.1,337.8 649.6,336.1 649.1,334.3 648.6,331.9 648.1,330.5 647.6,328.6 647.1,328 646.6,327.4 646.1,325.2 645.6,326.5 645.1,325.5 644.6,323.2 644.1,323.6 643.6,322.5 643.1,322.7 642.6,324.2 642.1,324.9 641.6,326.1 641.1,328.2 640.6,330.4 640.1,330.5 639.6,331.5 639.1,332.5 638.6,332 638.1,332.3 637.6,333.1 637.1,334.6 636.6,335.6 636.1,333.4 635.6,333.3 635.1,333 634.6,329.9 634.1,328.4 633.6,327.6 633.1,327.3 632.6,325.5 632.1,323.8 631.6,322.4 631.1,318.8 630.6,314.8 630.1,312.2 629.6,309.5 629.1,308.1 628.6,308.2 628.1,305.9 627.6,302.2 627.1,300.2 626.6,299.2 626.1,299.4 625.6,300.6 625.1,302.3 624.6,303.1 624.1,304.9 623.6,309.2 623.1,313.6 622.6,317.9 622.1,319.6 621.6,320.9 621.1,323.2 620.6,324.7 620.1,325.3 619.6,327.7 619.1,329.4 618.6,330.2 618.1,330.8 617.6,331.7 617.1,334.5 616.6,336.6 616.1,337 615.6,336.3 615.1,337.2 614.6,338.3 614.1,338.8 613.6,340.8 613.1,342.7 612.6,344.1 612.1,347.5 611.6,350.6 611.1,353.3 610.6,357.2 610.1,359.8 609.6,361.9 609.1,363.3 608.6,365.4 608.1,367.3 607.6,368.4 607.1,369.9 606.6,370.7 606.1,370.6 605.6,369.7 605.1,370.5 604.6,370.7 604.1,371.2 603.6,371.5 603.1,370.6 602.6,369.6 602.1,369 601.6,369.7 601.1,369.6 600.6,370.5 600.1,370.4 599.6,369.3 599.1,367.6 598.6,367.6 598.1,369.3 597.6,367.9 597.1,366.1 596.6,365.7 596.1,365.5 595.6,363.6 595.1,362 594.6,361.7 594.1,362.7 593.6,362.3 593.1,360.1 592.6,360.8 592.1,360.3 591.6,357.1 591.1,355.9 590.6,355 590.1,352.6 589.6,350.7 589.1,350.2 588.6,347.8 588.1,344.7 587.6,341.6 587.1,338.3 586.6,335.6 586.1,335.5 585.6,333.7 585.1,330.2 584.6,328.3 584.1,326.5 583.6,327 583.1,327.6 582.6,327.9 582.1,330.2 581.6,329.7 581.1,330.3 580.6,333.1 580.1,330.5 579.6,327.5 579.1,327.7 578.6,326.3 578.1,325.4 577.6,326.9 577.1,327.8 576.6,327.1 576.1,325.1 575.6,324.3 575.1,323.5 574.6,323.9 574.1,323.5 573.6,319.7 573.1,319.1 572.6,320.3 572.1,319.5 571.6,319.1 571.1,318.7 570.6,317.3 570.1,316.7 569.6,316.8 569.1,314.8 568.6,311.6 568.1,310.2 567.6,309.7 567.1,311.3 566.6,312.3 566.1,311.5 565.6,309.3 565.1,307.5 564.6,308.3 564.1,308.4 563.6,306.7 563.1,306.3 562.6,304.9 562.1,301.9 561.6,301.1 561.1,300 560.6,298.7 560.1,296.1 559.6,293.9 559.1,292.6 558.6,292.7 558.1,291.9 557.6,289.8 557.1,288.4 556.6,288.2 556.1,287.4 555.6,288.3 555.1,289.2 554.6,287.8 554.1,289.2 553.6,289.4 553.1,287 552.6,286.4 552.1,288.7 551.6,289.9 551.1,288.8 550.6,288.7 550.1,287.7 549.6,287.9 549.1,289.1 548.6,287.9 548.1,286.2 547.6,286.3 547.1,287.7 546.6,286.1 546.1,281.7 545.6,281.5 545.1,280.2 544.6,275.3 544.1,273.5 543.6,272.6 543.1,270 542.6,266.1 542.1,263.1 541.6,258.9 541.1,253.8 540.6,249.1 540.1,245.7 539.6,245.9 539.1,245.5 538.6,244.1 538.1,244.1 537.6,241.9 537.1,242 536.6,243.9 536.1,246 535.6,248.6 535.1,249.3 534.6,251 534.1,252.9 533.6,256.1 533.1,257.9 532.6,259.3 532.1,260.8 531.6,264.6 531.1,268.5 530.6,269 530.1,269.8 529.6,269.7 529.1,270.6 528.6,269.5 528.1,269.5 527.6,270.4 527.1,270.5 526.6,270.2 526.1,268.8 525.6,268.6 525.1,267.6 524.6,267.7 524.1,266.9 523.6,266.1 523.1,269.3 522.6,271.5 522.1,274.2 521.6,275.8 521.1,278 520.6,280.1 520.1,281.2 519.6,282.6 519.1,284.6 518.6,287.1 518.1,286.4 517.6,285.7 517.1,285.2 516.6,283.1 516.1,282.9 515.6,283.6 515.1,281.9 514.6,281.5 514.1,282.2 513.6,282.1 513.1,279.7 512.6,277.8 512.1,276.4 511.6,274.3 511.1,272.8 510.6,270.7 510.1,271.2 509.6,271.1 509.1,268.9 508.6,268.8 508.1,267 507.6,263.6 507.1,262 506.6,259 506.1,257.1 505.6,257.3 505.1,256.3 504.6,256.1 504.1,255.3 503.6,250.9 503.1,249.4 502.6,248.9 502.1,245.7 501.6,242.9 501.1,240.5 500.6,239.4 500.1,235.3 499.6,232.6 499.1,231.8 498.6,227.3 498.1,224.1 497.6,220.9 497.1,218 496.6,215.6 496.1,213 495.6,213.2 495.1,214.8 494.6,214.5 494.1,211.4 493.6,211.8 493.1,214.3 492.6,214.8 492.1,214.3 491.6,212.7 491.1,211.7 490.6,211.8 490.1,210.9 489.6,209.2 489.1,207.5 488.6,205.8 488.1,204.5 487.6,201.5 487.1,196.8 486.6,194.4 486.1,193.4 485.6,190.9 485.1,190.9 484.6,189.9 484.1,186.5 483.6,186 483.1,185.8 482.6,184.1 482.1,182.9 481.6,183.8 481.1,184.6 480.6,184.9 480.1,185.3 479.6,185.4 479.1,185.3 478.6,185.7 478.1,186.4 477.6,185.9 477.1,185.2 476.6,185.2 476.1,186.2 475.6,187.9 475.1,189.4 474.6,189.9 474.1,189.6 473.6,189 473.1,188.1 472.6,185.6 472.1,183.5 471.6,183.7 471.1,183.5 470.6,181.7 470.1,180.3 469.6,180.3 469.1,179.9 468.6,180.8 468.1,182.6 467.6,184.5 467.1,185.8 466.6,187.2 466.1,188.7 465.6,188.8 465.1,190.4 464.6,192.3 464.1,193.6 463.6,196.7 463.1,197.4 462.6,198.3 462.1,200.6 461.6,200.9 461.1,200.5 460.6,201 460.1,201.3 459.6,202.3 459.1,203.2 458.6,203.2 458.1,203.5 457.6,202.7 457.1,200.4 456.6,198.8 456.1,199.6 455.6,200.7 455.1,200.1 454.6,197.8 454.1,199.4 453.6,199.5 453.1,196.4 452.6,196.6 452.1,197.3 451.6,196.8 451.1,197.3 450.6,198.8 450.1,199.1 449.6,200.1 449.1,201.9 448.6,202.8 448.1,206.2 447.6,211.5 447.1,216.4 446.6,219.2 446.1,222.1 445.6,227 445.1,232.7 444.6,238 444.1,242 443.6,246.5 443.1,252 442.6,255.7 442.1,256.6 441.6,259.1 441.1,263.9 440.6,267.6 440.1,267.6 439.6,269.2 439.1,273.9 438.6,277.5 438.1,279.6 437.6,281.2 437.1,283.8 436.6,286.5 436.1,290.5 435.6,295.5 435.1,299.8 434.6,302.7 434.1,307.4 433.6,312.4 433.1,316 432.6,322.1 432.1,326.6 431.6,327.8 431.1,333.5 430.6,338.5 430.1,341 429.6,343.5 429.1,346.5 428.6,346.2 428.1,344.6 427.6,345.8 427.1,347.8 426.6,348.3 426.1,349.1 425.6,351.1 425.1,349.7 424.6,350 424.1,350.2 423.6,351.4 423.1,353.2 422.6,351.4 422.1,351 421.6,350.7 421.1,350.4 420.6,350.5 420.1,348.8 419.6,349 419.1,348.7 418.6,347.5 418.1,350.6 417.6,351.9 417.1,350.8 416.6,351.9 416.1,351.8 415.6,351 415.1,349 414.6,346.6 414.1,345.3 413.6,344.9 413.1,344.5 412.6,345.1 412.1,342.8 411.6,339.8 411.1,337.7 410.6,336.5 410.1,336.8 409.6,335.7 409.1,333.9 408.6,331.3 408.1,332.4 407.6,332.9 407.1,334.2 406.6,336.1 406.1,335.3 405.6,336.2 405.1,337.5 404.6,340 404.1,341.6 403.6,343.1 403.1,344.1 402.6,342.6 402.1,342.4 401.6,344.3 401.1,343.7 400.6,341.6 400.1,341.4 399.6,340.5 399.1,339.2 398.6,339.6 398.1,339.7 397.6,339.5 397.1,339.9 396.6,338.5 396.1,337.3 395.6,338.5 395.1,338.7 394.6,337.7 394.1,337 393.6,338.1 393.1,339 392.6,339.2 392.1,340.6 391.6,340.4 391.1,340.5 390.6,342.2 390.1,342 389.6,341.1 389.1,342.2 388.6,342 388.1,340.2 387.6,340.7 387.1,340.9 386.6,340.3 386.1,342 385.6,341.2 385.1,339.8 384.6,339.7 384.1,337.8 383.6,337.4 383.1,337.9 382.6,337.6 382.1,338 381.6,337.3 381.1,335.1 380.6,332.8 380.1,332.9 379.6,335 379.1,337.6 378.6,339.5 378.1,342 377.6,343.3 377.1,342.6 376.6,344.8 376.1,346.7 375.6,346.8 375.1,348.7 374.6,350.9 374.1,351.6 373.6,350.7 373.1,350 372.6,350.6 372.1,351.3 371.6,352.7 371.1,352.8 370.6,350.9 370.1,350.2 369.6,352.1 369.1,352.9 368.6,351 368.1,348 367.6,347.9 367.1,345.3 366.6,342.8 366.1,342.7 365.6,340.5 365.1,338.4 364.6,336.6 364.1,336.4 363.6,333.5 363.1,331.1 362.6,333.5 362.1,333.9 361.6,334 361.1,333.2 360.6,332.4 360.1,334.6 359.6,337.6 359.1,341.8 358.6,345.2 358.1,350.7 357.6,357 357.1,363.1 356.6,365.4 356.1,366.6 355.6,370.4 355.1,371.7 354.6,372.7 354.1,374.6 353.6,377.4 353.1,378.7 352.6,378.8 352.1,379.8 351.6,382 351.1,383.2 350.6,382.8 350.1,381.9 349.6,383.7 349.1,388.9 348.6,390.3 348.1,391.7 347.6,394.6 347.1,396.5 346.6,397.6 346.1,399.2 345.6,401.9 345.1,404.1 344.6,405.4 344.1,408.5 343.6,412.3 343.1,414.7 342.6,414 342.1,413.7 341.6,415.6 341.1,415.4 340.6,415.4 340.1,414.1 339.6,413 339.1,414.6 338.6,416.1 338.1,416.2 337.6,414.1 337.1,413.4 336.6,411.7 336.1,409.2 335.6,410.6 335.1,411.9 334.6,409 334.1,409.1 333.6,408.6 333.1,405.7 332.6,404.4 332.1,402.7 331.6,403.1 331.1,402.2 330.6,401.4 330.1,401.9 329.6,399.2 329.1,397.8 328.6,399.3 328.1,398.5 327.6,399 327.1,398.7 326.6,395.2 326.1,394.5 325.6,393 325.1,390.7 324.6,387.8 324.1,384.8 323.6,382.3 323.1,380.3 322.6,377.6 322.1,374.3 321.6,372.8 321.1,371.6 320.6,370.1 320.1,368.4 319.6,369.4 319.1,370.3 318.6,369.6 318.1,369 317.6,367.4 317.1,366.4 316.6,367.6 316.1,368.6 315.6,368.8 315.1,368 314.6,365.9 314.1,365.2 313.6,363.1 313.1,361.7 312.6,360.1 312.1,355.9 311.6,354.5 311.1,352.1 310.6,348.3 310.1,345.6 309.6,344.9 309.1,344.9 308.6,344.5 308.1,343 307.6,340.1 307.1,339.5 306.6,340.8 306.1,338 305.6,335.7 305.1,335.4 304.6,335.5 304.1,335 303.6,334.2 303.1,335.8 302.6,334.1 302.1,330.9 301.6,327.5 301.1,326.1 300.6,325.8 300.1,324.2 299.6,322.9 299.1,321.7 298.6,320.9 298.1,321 297.6,320.8 297.1,318.4 296.6,315.2 296.1,312 295.6,310 295.1,310.7 294.6,309.3 294.1,307.7 293.6,305.2 293.1,303.6 292.6,304.2 292.1,300.6 291.6,298.8 291.1,300.4 290.6,299.3 290.1,298.9 289.6,298.9 289.1,298 288.6,300.6 288.1,302.6 287.6,301.8 287.1,300.5 286.6,300.9 286.1,302.2 285.6,301.6 285.1,301.5 284.6,298.4 284.1,296.8 283.6,298.1 283.1,296.4 282.6,294.9 282.1,292.6 281.6,288.8 281.1,286.1 280.6,283.3 280.1,280.7 279.6,278.3 279.1,275.5 278.6,271.8 278.1,268.8 277.6,267.1 277.1,264.3 276.6,263.1 276.1,260.1 275.6,255.7 275.1,255.4 274.6,255.6 274.1,254.6 273.6,252.7 273.1,251.5 272.6,252.4 272.1,254 271.6,255.7 271.1,255.7 270.6,257.5 270.1,258.6 269.6,261.4 269.1,264.5 268.6,265.2 268.1,266.9 267.6,269.2 267.1,272.5 266.6,274 266.1,276.2 265.6,277.9 265.1,277.6 264.6,276.9 264.1,276.3 263.6,276.3 263.1,276.1 262.6,274.8 262.1,274.7 261.6,277.5 261.1,278.9 260.6,279.6 260.1,280.3 259.6,281 259.1,282.6 258.6,286.5 258.1,287.5 257.6,286.8 257.1,288.8 256.6,290.3 256.1,292.8 255.6,294.4 255.1,293.8 254.6,294.8 254.1,298.2 253.6,298.7 253.1,295.1 252.6,295.7 252.1,296 251.6,294.1 251.1,293.6 250.6,292.6 250.1,292.5 249.6,291.7 249.1,290.6 248.6,289.3 248.1,287.6 247.6,286.3 247.1,285.8 246.6,285.1 246.1,283.8 245.6,283 245.1,280.8 244.6,277.3 244.1,276.3 243.6,276.5 243.1,277.5 242.6,277.3 242.1,276.7 241.6,275.9 241.1,273.6 240.6,272.4 240.1,272.3 239.6,271.1 239.1,268.1 238.6,266.3 238.1,264.3 237.6,261.6 237.1,258.4 236.6,254.8 236.1,252.7 235.6,250.9 235.1,248.4 234.6,244 234.1,241.2 233.6,241.3 233.1,241.2 232.6,239.7 232.1,237.8 231.6,237.8 231.1,238.6 230.6,238.2 230.1,238.1 229.6,240.2 229.1,241.8 228.6,242.3 228.1,240.7 227.6,239.1 227.1,238.8 226.6,240 226.1,241.1 225.6,239.3 225.1,236.3 224.6,234.7 224.1,233.9 223.6,230.7 223.1,229.2 222.6,228.7 222.1,227 221.6,226.4 221.1,224.6 220.6,221.5 220.1,222.2 219.6,222.4 219.1,221.6 218.6,222.5 218.1,223.5 217.6,224.9 217.1,223 216.6,222.9 216.1,224.6 215.6,223.3 215.1,223.4 214.6,224.9 214.1,226.6 213.6,228 213.1,226.4 212.6,225.5 212.1,225.8 211.6,225 211.1,225.1 210.6,226 210.1,224.9 209.6,223.9 209.1,223.1 208.6,222.5 208.1,223 207.6,222 207.1,220.3 206.6,217.9 206.1,215.8 205.6,215.1 205.1,215.1 204.6,216.7 204.1,218.2 203.6,220.2 203.1,220.3 202.6,221.7 202.1,222.1 201.6,222.9 201.1,225.9 200.6,226.2 200.1,225.2 199.6,224.5 199.1,227.2 198.6,230 198.1,231.9 197.6,232.2 197.1,232.6 196.6,235.3 196.1,237.7 195.6,238 195.1,238 194.6,238.6 194.1,238.8 193.6,239 193.1,239.3 192.6,241 192.1,240.8 191.6,239.3 191.1,238.3 190.6,237.8 190.1,237.4 189.6,235.9 189.1,235.2 188.6,234.9 188.1,234.5 187.6,234.4 187.1,233.4 186.6,233.5 186.1,237.9 185.6,239.6 185.1,239.2 184.6,244.4 184.1,250.7 183.6,253 183.1,255.1 182.6,259.2 182.1,264.4 181.6,268 181.1,271.7 180.6,273.6 180.1,275.4 179.6,281.9 179.1,286.2 178.6,287.2 178.1,288.9 177.6,294.5 177.1,299.1 176.6,300.9 176.1,303.1 175.6,307.5 175.1,312.2 174.6,313.1 174.1,317.6 173.6,322.4 173.1,324.4 172.6,327.8 172.1,331.8 171.6,338.4 171.1,343.1 170.6,345.3 170.1,350 169.6,354.9 169.1,360.1 168.6,364 168.1,366.4 167.6,370.4 167.1,374.1 166.6,378.2 166.1,381.2 165.6,383.6 165.1,386 164.6,386.2 164.1,388.1 163.6,391.4 163.1,392.5 162.6,395.3 162.1,396.3 161.6,395.4 161.1,396.7 160.6,399.8 160.1,401.7 159.6,402.6 159.1,403.3 158.6,405.1 158.1,408.1 157.6,408.9 157.1,409.8 156.6,411.6 156.1,412.5 155.6,414.1 155.1,416 154.6,417.4 154.1,418.8 153.6,419.5 153.1,420.1 152.6,421.2 152.1,422.2 151.6,422.4 151.1,424.1 150.6,424.5 150.1,425.6 149.6,426.9 149.1,425.6 148.6,424 148.1,422.8 147.6,423.1 147.1,424 146.6,421.2 146.1,419.3 145.6,419.8 145.1,420.3 144.6,421.8 144.1,422.8 143.6,425.6 143.1,429.7 142.6,433 142.1,436.2 141.6,438.1 141.1,439.8 140.6,442.2 140.1,443.6 139.6,445 139.1,448 138.6,449 138.1,448.5 137.6,451.3 137.1,453.1 136.6,451.6 136.1,450.9 135.6,452.2 135.1,453.4 134.6,452.4 134.1,455 133.6,456.6 133.1,456 132.6,458.5 132.1,460 131.6,460.5 131.1,463.3 130.6,463.3 130.1,464 129.6,467.2 129.1,467.6 128.6,468.7 128.1,471.6 127.6,472.9 127.1,473.8 126.6,475.4 126.1,477.5 125.6,480.1 125.1,481.3 124.6,483.5 124.1,484.4 123.6,484.6 123.1,485.9 122.6,486.2 122.1,486.6 121.6,488.6 121.1,489.2 120.6,488.9 120.1,489.4 119.6,489.7 119.1,490 118.6,488.9 118.1,491.1 117.6,493.5 117.1,492.4 116.6,492.9 116.1,495 115.6,496.5 115.1,498.2 114.6,502.4 114.1,505.3 113.6,505.9 113.1,508.6 112.6,512.2 112.1,513.5 111.6,515.6" fill="#0072B2" fill-opacity="0.2"/>
<polyline points="111.6,449.9 112.1,446.3 112.6,443.6 113.1,440.7 113.6,438.6 114.1,437.9 114.6,434.8 115.1,430.9 115.6,429.3 116.1,428.1 116.6,425.8 117.1,423.6 117.6,422.5 118.1,423.1 118.6,421.4 119.1,420.2 119.6,419.1 120.1,418.2 120.6,418.1 121.1,418.3 121.6,418.4 122.1,418.1 122.6,418.4 123.1,417.3 123.6,414 124.1,412.4 124.6,413.1 125.1,412.4 125.6,409.9 126.1,407.9 126.6,406.7 127.1,404.7 127.6,404.5 128.1,402.6 128.6,400 129.1,399.5 129.6,397.5 130.1,395.2 130.6,394.3 131.1,393 131.6,390.6 132.1,389.3 132.6,389.9 133.1,387.5 133.6,385.7 134.1,386 134.6,383.7 135.1,384.7 135.6,385.4 136.1,382.5 136.6,381.7 137.1,382.7 137.6,381.9 138.1,381.2 138.6,380.5 139.1,379.6 139.6,379.7 140.1,376.8 140.6,374.2 141.1,372 141.6,369.6 142.1,366.6 142.6,363.4 143.1,361.4 143.6,359.6 144.1,358.1 144.6,354.4 145.1,351.5 145.6,352.3 146.1,351.4 146.6,350.7 147.1,352.5 147.6,354.5 148.1,356 148.6,355.9 149.1,355.8 149.6,356.6 150.1,357.5 150.6,356.7 151.1,354.4 151.6,354.5 152.1,353.5 152.6,351.8 153.1,350.2 153.6,349 154.1,348.5 154.6,348.1 155.1,347.6 155.6,345.4 156.1,344.5 156.6,342.8 157.1,341.6 157.6,340.5 158.1,339.1 158.6,336.8 159.1,335.2 159.6,333.5 160.1,330.2 160.6,329.9 161.1,329.4 161.6,328.5 162.1,329.4 162.6,327.6 163.1,324 163.6,323.1 164.1,322.2 164.6,320.2 165.1,317.4 165.6,315.8 166.1,313.8 166.6,309.7 167.1,305.9 167.6,302.8 168.1,298.2 168.6,294.1 169.1,290.2 169.6,286.8 170.1,283.5 170.6,278.6 171.1,273.8 171.6,269.4 172.1,263.5 172.6,257.7 173.1,255.8 173.6,251.6 174.1,248.3 174.6,245.3 175.1,241.8 175.6,239.1 176.1,236 176.6,233.3 177.1,227.9 177.6,225.5 178.1,224.4 178.6,220.3 179.1,215.5 179.6,211.9 180.1,208 180.6,205.6 181.1,202.7 181.6,198.2 182.1,194.3 182.6,189.9 183.1,185.7 183.6,183.3 184.1,180.6 184.6,176.8 185.1,174.2 185.6,170.1 186.1,167.6 186.6,166 187.1,165.6 187.6,165.8 188.1,165.7 188.6,165.4 189.1,165.9 189.6,169 190.1,169.9 190.6,169 191.1,170.3 191.6,173 192.1,172 192.6,170.6 193.1,170.6 193.6,169.1 194.1,169.5 194.6,170.6 195.1,169.4 195.6,168.2 196.1,167.7 196.6,166.8 197.1,165.3 197.6,163.7 198.1,161.5 198.6,162.1 199.1,161.5 199.6,159.4 200.1,158.7 200.6,156.9 201.1,155.1 201.6,155 202.1,154 202.6,152.2 203.1,151.1 203.6,151.2 204.1,150.8 204.6,149.7 205.1,148.4 205.6,147.4 206.1,149.7 206.6,152.9 207.1,153.5 207.6,154.1 208.1,155.8 208.6,156.9 209.1,158.1 209.6,158 210.1,159.2 210.6,159.2 211.1,158.9 211.6,160 212.1,159.8 212.6,160.6 213.1,160.9 213.6,158.5 214.1,155.6 214.6,157.1 215.1,157.3 215.6,156.5 216.1,157.7 216.6,156 217.1,153.6 217.6,154.8 218.1,156.1 218.6,155.3 219.1,155.1 219.6,154.6 220.1,153.3 220.6,153.8 221.1,154.6 221.6,154.6 222.1,157.5 222.6,160.8 223.1,162 223.6,162.9 224.1,163.8 224.6,165.4 225.1,166.9 225.6,169.1 226.1,170.3 226.6,171.5 227.1,173.2 227.6,174.7 228.1,173 228.6,172.1 229.1,173.1 229.6,172 230.1,170.4 230.6,169.4 231.1,170.6 231.6,170.7 232.1,170.7 232.6,171.3 233.1,173.2 233.6,175.2 234.1,174.6 234.6,176 235.1,178.5 235.6,178.8 236.1,182.1 236.6,188.3 237.1,191.2 237.6,191.7 238.1,193.6 238.6,198.2 239.1,201.9 239.6,203.3 240.1,204.7 240.6,205.8 241.1,207.5 241.6,208.4 242.1,208.3 242.6,207.4 243.1,208.1 243.6,209.3 244.1,210.7 244.6,211.7 245.1,211.5 245.6,213.6 246.1,213.6 246.6,216.4 247.1,219.6 247.6,219 248.1,219.7 248.6,221.7 249.1,220 249.6,220.8 250.1,223.8 250.6,224.6 251.1,225.1 251.6,225.9 252.1,227.7 252.6,229.5 253.1,230.3 253.6,229.5 254.1,230.1 254.6,228.4 255.1,225.9 255.6,223.5 256.1,223.8 256.6,224.3 257.1,222.1 257.6,220.1 258.1,218.1 258.6,216.3 259.1,214.7 259.6,213.1 260.1,212 260.6,212.2 261.1,211.5 261.6,209.3 262.1,207.2 262.6,206.7 263.1,209 263.6,210.8 264.1,210.5 264.6,210.9 265.1,210.6 265.6,210.4 266.1,210.5 266.6,208 267.1,204.2 267.6,201.7 268.1,200 268.6,196.6 269.1,194.1 269.6,193.1 270.1,192.1 270.6,190.1 271.1,187.9 271.6,188.2 272.1,186 272.6,183.1 273.1,182.6 273.6,183.4 274.1,183.2 274.6,184.9 275.1,189.2 275.6,190.7 276.1,191.4 276.6,193.2 277.1,196 277.6,198 278.1,199.3 278.6,203.8 279.1,206.9 279.6,209.5 280.1,214.7 280.6,217.1 281.1,218.8 281.6,222.5 282.1,224.2 282.6,223.9 283.1,224.6 283.6,226.8 284.1,230.7 284.6,233 285.1,232.1 285.6,231.5 286.1,231.8 286.6,232.6 287.1,232.6 287.6,232 288.1,231.9 288.6,230.8 289.1,230 289.6,230 290.1,229.6 290.6,229.9 291.1,231.8 291.6,232.7 292.1,232.8 292.6,232.6 293.1,234.5 293.6,235.9 294.1,236.2 294.6,240.5 295.1,243.9 295.6,244.8 296.1,244.3 296.6,245.6 297.1,248.1 297.6,250.3 298.1,253.9 298.6,255.1 299.1,254.6 299.6,255 300.1,256.8 300.6,258.9 301.1,259.3 301.6,260.6 302.1,262.2 302.6,264.4 303.1,267.3 303.6,268.5 304.1,268.4 304.6,268.6 305.1,269.5 305.6,269.5 306.1,270.1 306.6,270.1 307.1,270 307.6,272.7 308.1,274.6 308.6,275.1 309.1,277.3 309.6,276.7 310.1,276.6 310.6,280.5 311.1,284.1 311.6,287 312.1,290.4 312.6,293.3 313.1,293.3 313.6,293.8 314.1,296.5 314.6,298.7 315.1,297.2 315.6,298.6 316.1,301 316.6,301 317.1,300.2 317.6,298.6 318.1,297.8 318.6,300 319.1,301 319.6,300.5 320.1,300.5 320.6,300 321.1,301.1 321.6,302.6 322.1,307.2 322.6,309.1 323.1,311.8 323.6,315.6 324.1,317 324.6,319.1 325.1,321.9 325.6,324.4 326.1,326.5 326.6,327.6 327.1,329.1 327.6,329.9 328.1,329.7 328.6,330.9 329.1,333.5 329.6,332.9 330.1,332.2 330.6,333.2 331.1,333.1 331.6,335.5 332.1,336.7 332.6,338.2 333.1,338.9 333.6,339.4 334.1,340.7 334.6,340.9 335.1,342.3 335.6,343.7 336.1,344.8 336.6,345.7 337.1,345 337.6,345.4 338.1,346.7 338.6,348.1 339.1,347.8 339.6,347.1 340.1,346.5 340.6,346.9 341.1,347.2 341.6,344.9 342.1,345 342.6,346.4 343.1,343.9 343.6,340.5 344.1,339.4 344.6,337.5 345.1,336.2 345.6,334.2 346.1,331.3 346.6,330.2 347.1,327.6 347.6,325.2 348.1,322.7 348.6,319.3 349.1,317.1 349.6,317.9 350.1,318 350.6,315.5 351.1,314.8 351.6,313.9 352.1,313.2 352.6,313.5 353.1,312.2 353.6,308 354.1,306.7 354.6,305.1 355.1,304.5 355.6,304.5 356.1,301.1 356.6,297.1 357.1,294.5 357.6,290.8 358.1,281.1 358.6,274.3 359.1,271.9 359.6,269.9 360.1,267.8 360.6,265.3 361.1,264.1 361.6,263.4 362.1,265.7 362.6,267.5 363.1,266.3 363.6,266 364.1,266.2 364.6,268 365.1,270.8 365.6,272.3 366.1,273.9 366.6,274.6 367.1,276.5 367.6,278.9 368.1,281.6 368.6,284.2 369.1,284.2 369.6,282.5 370.1,282.9 370.6,283.2 371.1,282.9 371.6,283.7 372.1,283.5 372.6,283.8 373.1,284.2 373.6,283.3 374.1,282.1 374.6,280.4 375.1,278.6 375.6,277.7 376.1,276.5 376.6,275.4 377.1,274.1 377.6,271.2 378.1,269.6 378.6,268.2 379.1,266.1 379.6,265.8 380.1,263.8 380.6,263.4 381.1,265.4 381.6,265.8 382.1,266.5 382.6,267.3 383.1,267.8 383.6,268.4 384.1,269.5 384.6,270.6 385.1,271.3 385.6,272 386.1,273.7 386.6,274 387.1,273.8 387.6,274.4 388.1,273.1 388.6,272.7 389.1,274 389.6,273.3 390.1,273 390.6,271.8 391.1,270.5 391.6,271.5 392.1,271.8 392.6,271.2 393.1,269.7 393.6,269.9 394.1,271.7 394.6,272.2 395.1,271.4 395.6,269.6 396.1,270.1 396.6,271 397.1,268.2 397.6,268.4 398.1,269.3 398.6,268.5 399.1,269.8 399.6,272.5 400.1,273.6 400.6,273.4 401.1,275.5 401.6,276.7 402.1,275.1 402.6,273.8 403.1,272.1 403.6,270.9 404.1,271.3 404.6,271.2 405.1,270.2 405.6,269.6 406.1,267.9 406.6,265.9 407.1,266.1 407.6,265.4 408.1,265.2 408.6,265.4 409.1,265.5 409.6,267 410.1,268.1 410.6,268 411.1,270.3 411.6,273.2 412.1,274.3 412.6,274.3 413.1,275 413.6,277.3 414.1,277.9 414.6,277.5 415.1,279 415.6,282.7 416.1,284.4 416.6,283.5 417.1,283.2 417.6,283.3 418.1,280.4 418.6,279.2 419.1,281.6 419.6,282.2 420.1,283.5 420.6,284.2 421.1,283.4 421.6,282.8 422.1,283.2 422.6,282.8 423.1,282.2 423.6,283.6 424.1,285.2 424.6,284.2 425.1,282.4 425.6,282.3 426.1,283 426.6,282.3 427.1,282 427.6,280.3 428.1,278.1 428.6,277.7 429.1,277.2 429.6,276.6 430.1,272.4 430.6,268.1 431.1,265.9 431.6,260.8 432.1,254.6 432.6,251.7 433.1,248.9 433.6,244.5 434.1,239.4 434.6,235.8 435.1,231.7 435.6,227.4 436.1,222.7 436.6,217.3 437.1,215.2 437.6,212.9 438.1,210.7 438.6,209 439.1,205.1 439.6,202.7 440.1,200.7 440.6,198.8 441.1,196.3 441.6,192.8 442.1,191.6 442.6,190.7 443.1,187.5 443.6,181.2 444.1,174.4 444.6,170 445.1,165.1 445.6,158.4 446.1,154.3 446.6,151.1 447.1,146 447.6,140.5 448.1,136.7 448.6,135.7 449.1,133.8 449.6,131.2 450.1,130.4 450.6,130.1 451.1,128.4 451.6,127.6 452.1,127.2 452.6,127.1 453.1,127.7 453.6,129.5 454.1,131.3 454.6,130.5 455.1,131 455.6,132.1 456.1,133.4 456.6,132.3 457.1,131.4 457.6,132.9 458.1,135.9 458.6,136.9 459.1,134.7 459.6,134.5 460.1,135.6 460.6,134.5 461.1,132 461.6,132.8 462.1,132.8 462.6,131.4 463.1,129.3 463.6,128.7 464.1,129.4 464.6,127.2 465.1,125.2 465.6,121.7 466.1,120.2 466.6,119.9 467.1,118.1 467.6,117.1 468.1,114.9 468.6,111.9 469.1,111.7 469.6,112.9 470.1,113 470.6,114 471.1,114.8 471.6,114.6 472.1,117 472.6,120.2 473.1,120.9 473.6,122.6 474.1,121.8 474.6,118.8 475.1,118 475.6,117.9 476.1,117.8 476.6,118.4 477.1,117.2 477.6,117.1 478.1,117.4 478.6,117.1 479.1,117.9 479.6,117.3 480.1,117.1 480.6,116.7 481.1,116.2 481.6,115.1 482.1,115.4 482.6,118.5 483.1,120.5 483.6,120.8 484.1,120.9 484.6,120.5 485.1,122.7 485.6,124.5 486.1,125 486.6,126.4 487.1,128.5 487.6,130.8 488.1,133 488.6,134.7 489.1,136.6 489.6,141.3 490.1,143.1 490.6,142.4 491.1,143.7 491.6,145.4 492.1,145.1 492.6,144.7 493.1,146.1 493.6,145.9 494.1,144.3 494.6,144.9 495.1,144.3 495.6,143.8 496.1,145.2 496.6,148.3 497.1,149.5 497.6,150.2 498.1,153.7 498.6,157.7 499.1,161.2 499.6,164.8 500.1,166.7 500.6,169.4 501.1,173.3 501.6,174.3 502.1,177.2 502.6,179 503.1,178.8 503.6,180.9 504.1,182.9 504.6,184.2 505.1,187.3 505.6,189.7 506.1,192.1 506.6,193 507.1,191.8 507.6,192.9 508.1,194.7 508.6,195.8 509.1,198.3 509.6,200 510.1,199.7 510.6,202.2 511.1,205 511.6,206 512.1,207.5 512.6,208.7 513.1,210.1 513.6,211.7 514.1,213.3 514.6,213.6 515.1,214.4 515.6,213.9 516.1,214.1 516.6,215.6 517.1,216.6 517.6,215.8 518.1,216.8 518.6,218.1 519.1,215.2 519.6,212.9 520.1,212.1 520.6,211.5 521.1,209.2 521.6,207 522.1,204.3 522.6,202.2 523.1,200.2 523.6,198.5 524.1,199.1 524.6,200.7 525.1,199 525.6,196.9 526.1,197.8 526.6,199.5 527.1,199.8 527.6,199.3 528.1,200.9 528.6,200.9 529.1,200.6 529.6,201.3 530.1,200.3 530.6,198.8 531.1,198.5 531.6,197.2 532.1,195.3 532.6,191.4 533.1,188.5 533.6,188 534.1,186.2 534.6,183.4 535.1,180.2 535.6,178.7 536.1,177.4 536.6,174.3 537.1,173.5 537.6,175.4 538.1,175.8 538.6,176.1 539.1,176.7 539.6,178.4 540.1,180.6 540.6,182.7 541.1,189 541.6,193.5 542.1,194.7 542.6,197.1 543.1,200.9 543.6,205 544.1,207.4 544.6,207.7 545.1,210.4 545.6,213.8 546.1,216.3 546.6,218.6 547.1,219.4 547.6,220.3 548.1,219.4 548.6,219.8 549.1,222.4 549.6,222.3 550.1,220.8 550.6,220.3 551.1,221.4 551.6,220.6 552.1,219.1 552.6,220 553.1,220.7 553.6,219.4 554.1,218.6 554.6,218.5 555.1,218.1 555.6,218.5 556.1,217.9 556.6,218.4 557.1,220.5 557.6,220.7 558.1,220.8 558.6,223.9 559.1,225 559.6,226.3 560.1,228.3 560.6,230.7 561.1,235.1 561.6,237.4 562.1,236.9 562.6,237.3 563.1,239.1 563.6,239.6 564.1,241.7 564.6,241.3 565.1,241.8 565.6,243.8 566.1,244.6 566.6,245.5 567.1,244.5 567.6,245.1 568.1,247 568.6,247.5 569.1,248.2 569.6,248.6 570.1,247.1 570.6,249.2 571.1,252 571.6,251.9 572.1,251.8 572.6,253.2 573.1,253.6 573.6,253 574.1,254 574.6,256.4 575.1,255.9 575.6,256.8 576.1,258.2 576.6,256.9 577.1,259.3 577.6,261 578.1,259.9 578.6,260.3 579.1,262.8 579.6,264.5 580.1,264.1 580.6,263.4 581.1,263.6 581.6,261.6 582.1,260.6 582.6,260.1 583.1,258.7 583.6,258.3 584.1,259.9 584.6,261.5 585.1,262.6 585.6,264.3 586.1,267.7 586.6,270.3 587.1,272.3 587.6,275.7 588.1,277.9 588.6,281.6 589.1,282.8 589.6,283.8 590.1,285.9 590.6,288.5 591.1,291.3 591.6,289.4 592.1,288.2 592.6,291.2 593.1,293.7 593.6,294.4 594.1,294.3 594.6,294.8 595.1,295.9 595.6,296.1 596.1,297.2 596.6,296 597.1,296.6 597.6,298.1 598.1,298.7 598.6,300.1 599.1,299.2 599.6,300.5 600.1,301 600.6,300.3 601.1,300.4 601.6,301.3 602.1,302.9 602.6,304.2 603.1,303.8 603.6,304.2 604.1,304.6 604.6,304 605.1,304.4 605.6,305.1 606.1,303.7 606.6,302.1 607.1,301.6 607.6,301.3 608.1,299.9 608.6,299 609.1,297.7 609.6,294.9 610.1,292 610.6,288.5 611.1,286 611.6,282 612.1,280.3 612.6,278.3 613.1,276 613.6,274.8 614.1,271.9 614.6,270.3 615.1,270.3 615.6,270 616.1,269 616.6,268.1 617.1,265.9 617.6,264.6 618.1,262.9 618.6,261.7 619.1,261.2 619.6,259 620.1,257.8 620.6,256.9 621.1,254.7 621.6,251.2 622.1,248.8 622.6,245.4 623.1,241.8 623.6,241.3 624.1,238.3 624.6,235.4 625.1,233.4 625.6,231.7 626.1,231.7 626.6,231.3 627.1,232.4 627.6,235.5 628.1,237.2 628.6,238.4 629.1,240.1 629.6,243.1 630.1,246.4 630.6,249.1 631.1,252.1 631.6,255.3 632.1,256 632.6,256.4 633.1,260.7 633.6,261.9 634.1,261.8 634.6,262.8 635.1,262.9 635.6,263.7 636.1,267.1 636.6,268.1 637.1,265 637.6,263 638.1,263.2 638.6,264.5 639.1,263.3 639.6,261.6 640.1,261.8 640.6,261.8 641.1,259.1 641.6,256.4 642.1,254.2 642.6,253.6 643.1,252.3 643.6,253.2 644.1,254.5 644.6,254.8 645.1,257.6 645.6,258.9 646.1,257.7 646.6,258.5 647.1,261.5 647.6,261.8 648.1,262 648.6,264.3 649.1,265.1 649.6,267.2 650.1,267.2 650.6,265.5 651.1,267.7 651.6,268.7 652.1,269.3 652.6,270.2 653.1,270.5 653.6,271.3 654.1,270.2 654.6,269.8 655.1,271.5 655.6,272.1 656.1,273.2 656.6,272.5 657.1,272.1 657.6,273.9 658.1,275.2 658.6,274.3 659.1,276.1 659.6,279 660.1,276.3 660.6,275.1 661.1,279.2 661.6,280.7 662.1,280.2 662.6,280.8 663.1,281.1 663.6,281.9 664.1,282.8 664.6,284.4 665.1,285.3 665.6,285.2 666.1,285.4 666.6,286.4 667.1,286.8 667.6,286.9 668.1,288 668.6,288.3 669.1,287.7 669.6,287.2 670.1,285.7 670.6,284.4 671.1,283.3 671.6,283.3 672.1,282.7 672.6,284.1 673.1,286.5 673.6,286.6 674.1,288.7 674.6,291 675.1,293.9 675.6,296.3 676.1,299.8 676.6,301.8 677.1,301.2 677.6,303.2 678.1,304.5 678.6,305.9 679.1,308.7 679.6,309.7 680.1,308.1 680.6,307.2 681.1,310.2 681.6,311.6 682.1,310.6 682.6,311.6 683.1,314.4 683.6,315.3 684.1,314.1 684.6,313.7 685.1,314.8 685.6,314.8 686.1,314 686.6,315.2 687.1,316 687.6,316.5 688.1,317.8 688.6,319.9 689.1,319.3 689.6,317.6 690.1,318.4 690.6,319.3 691.1,320.3 691.6,319.3 692.1,317.7 692.6,316.5 693.1,315.9 693.6,317 694.1,317.7 694.6,316.2 695.1,314.9 695.6,314.3 696.1,313.2 696.6,310.4 697.1,307.7 697.6,304.7 698.1,302.1 698.6,302.9 699.1,300 699.6,296.3 700.1,295.8 700.6,293.6 701.1,290.9 701.6,289.4 702.1,288 702.6,286.8 703.1,284.5 703.6,283.8 704.1,283.8 704.6,282.8 705.1,283.1 705.6,283.2 706.1,282.1 706.6,279.2 707.1,276.9 707.6,275.7 708.1,273.5 708.6,271.2 709.1,267.7 709.6,263.8 710.1,262.1 710.6,258.6 711.1,255.3 711.6,253.1 712.1,250.2 712.6,246.8 713.1,244.7 713.6,245.3 714.1,247.1 714.6,248.6 715.1,249.2 715.6,249.8 716.1,251.1 716.6,253.2 717.1,255.9 717.6,258.2 718.1,262.2 718.6,264.1 719.1,263.8 719.6,265.2 720.1,267 720.6,268.5 721.1,272.2 721.6,274.7 722.1,273.5 722.6,274.6 723.1,277.1 723.6,276.5 724.1,274.5 724.6,274.1 725.1,274.5 725.6,274.7 726.1,274.8 726.6,274.5 727.1,273.5 727.6,272.9 728.1,271.4 728.6,268.2 729.1,266.7 729.6,266.8 730.1,265.5 730.6,265.1 731.1,264 731.6,262.2 732.1,262.9 732.6,264.4 733.1,264.2 733.6,265.2 734.1,267 734.6,267.7 735.1,265.6 735.6,266.3 736.1,269.2 736.6,270.3 737.1,272.5 737.6,275.1 738.1,275.9 738.6,274.7 739.1,276.7 739.6,277.5 740.1,275.2 740.6,275.7 741.1,277.3 741.6,276.5 742.1,277.1 742.6,277.5 743.1,276.1 743.6,277.1 744.1,278.6 744.6,278.3 745.1,278.3 745.6,278.9 746.1,281 746.6,280.8 747.1,279.7 747.6,280.6 748.1,279.8 748.6,280.9 749.1,282.2 749.6,282.8 750.1,282.6 750.6,281.7 751.1,282 751.6,284.3 752.1,286.8 752.6,288.7 753.1,289.6 753.6,290.3 754.1,291.8 754.6,291.1 755.1,288.6 755.6,286.8 756.1,286.1 756.6,287.3 757.1,286.7 757.6,285.3 758.1,285 758.6,284.3 759.1,284 759.6,282.6 760.1,282.4 760.6,283.9 761.1,285.5 761.6,286.9 762.1,288.3 762.6,292 763.1,293.3 763.6,294.6 764.1,298.1 764.6,300.4 765.1,304 765.6,305.2 766.1,306 766.6,305.4 767.1,306.6 767.6,307.7 768.1,308.1 768.6,309.2 769.1,307.1 769.6,306.8 770.1,309 770.6,310.9 771.1,311.5 771.6,310.8 772.1,309.6 772.6,310.8 773.1,313.5 773.6,312.6 774.1,310.9 774.6,309.6 775.1,310.7 775.6,314.4 776.1,314.7 776.6,314 777.1,313.9 777.6,312 778.1,312.9 778.6,312.5 779.1,311 779.6,312.1 780.1,312.7 780.6,312.4 781.1,310.9 781.6,308.7 782.1,306.2 782.6,305 783.1,303.3 783.6,300.5 784.1,298.1 784.6,296.8 785.1,294 785.6,291.1 786.1,288.8 786.6,287.6 787.1,287 787.6,286.4 788.1,282.8 788.6,279.2 789.1,279.9 789.6,279.1 790.1,276.8 790.6,277.3 791.1,276.1 791.6,272.9 792.1,272.3 792.6,273.4 793.1,274.4 793.6,271.9 794.1,268.5 794.6,267.3 795.1,266 795.6,262 796.1,259.4 796.6,257.9 797.1,253.5 797.6,250.3 798.1,249.4 798.6,246.9 799.1,242.1 799.6,239.7 800.1,239.4 800.6,238.4 801.1,233.6 801.6,233.1 802.1,233.1 802.6,232.1 803.1,235.3 803.6,237 804.1,238.1 804.6,238.4 805.1,241 805.6,243.9 806.1,243.9 806.6,249 807.1,254.1 807.6,255.3 808.1,256 808.6,257.2 809.1,260.5 809.6,261.5 810.1,260.7 810.6,258.9 811.1,259.4 811.6,258.2 812.1,257 812.6,259 813.1,259.2 813.6,258.6 814.1,259.2 814.6,260.2 815.1,260.8 815.6,258.2 816.1,257 816.6,255.2 817.1,252.5 817.6,253.1 818.1,251.4 818.6,249.4 819.1,248.5 819.6,248.4 820.1,250.4 820.6,250 821.1,249.3 821.6,250.1 822.1,250 822.6,250.7 823.1,253.7 823.6,257.6 824.1,258.2 824.6,257.1 825.1,258.5 825.6,260 826.1,260.7 826.6,262.2 827.1,262.4 827.6,263 828.1,262.5 828.6,261.5 829.1,260.8 829.6,261 830.1,261.5 830.6,261.6 831.1,262.3 831.6,262.3 832.1,263.6 832.6,261.7 833.1,260.7 833.6,261 834.1,262.5 834.6,265.1 835.1,265.3 835.6,264 836.1,264.7 836.6,264.5 837.1,265 837.6,266.4 838.1,263.5 838.6,266.9 839.1,270.8 839.6,269 840.1,269.1 840.6,271 841.1,272.4 841.6,272.4 842.1,272.4 842.6,274.2 843.1,274.5 843.6,274.7 844.1,273.9 844.6,274 845.1,272.5 845.6,269.4 846.1,267.2 846.6,264.9 847.1,266.6 847.6,266.3 848.1,265.7 848.6,267.1 849.1,267.9 849.6,269.6 850.1,272.6 850.6,274.7 851.1,278.2 851.6,281.6 852.1,282.8 852.6,283.6 853.1,286.4 853.6,288.9 854.1,290.7 854.6,293.6 855.1,293.8 855.6,292 856.1,291.1 856.6,290.6 857.1,290.1 857.6,290 858.1,291 858.6,292.1 859.1,293.7 859.6,294.1 860.1,293.6 860.6,293.4 861.1,295.3 861.6,297.1 862.1,297.8 862.6,298.5 863.1,298.9 863.6,298.6 864.1,298.4 864.6,301 865.1,299.5 865.6,298.3 866.1,300.7 866.6,300.3 867.1,299.4 867.6,299.8 868.1,298.5 868.6,297.4 869.1,296.6 869.6,295 870.1,294.3 870.6,294 871.1,293.6 871.6,293 872.1,290.2 872.6,289.3 873.1,288.6 873.6,284.5 874.1,280 874.6,276.2 875.1,274.1 875.6,271.5 876.1,266.9 876.6,264.6 877.1,266.4 877.6,262.7 878.1,260.2 878.6,261.3 879.1,259.7 879.6,259.8 880.1,258.2 880.6,256.9 881.1,258.1 881.6,257 882.1,254.6 882.6,254.2 883.1,253.6 883.6,253.9 884.1,251.4 884.6,247.1 885.1,242.8 885.6,238.6 886.1,235.6 886.6,228.8 887.1,225.3 887.6,223.2 888.1,219.9 888.6,220.5 889.1,218.7 889.6,215.6 890.1,217.5 890.6,218.6 891.1,218.9 891.6,220 892.1,219.9 892.6,221.9 893.1,226.1 893.6,229.1 894.1,230.4 894.6,231.6 895.1,233.6 895.6,235.3 896.1,238.7 896.6,241 897.1,240.1 897.6,240.9 898.1,243 898.6,244.8 899.1,244.6 899.6,243.9 900.1,244.2 900.6,243.6 901.1,242.5 901.6,244.3 902.1,244.9 902.6,243.9 903.1,244.4 903.6,243.6 904.1,241.7 904.6,241.3 905.1,240.6 905.6,237.5 906.1,236.4 906.6,236 907.1,233.4 907.6,231.9 908.1,231.7 908.6,230 909.1,230.2 909.6,232 910.1,232.8 910.6,232.8 911.1,234.2 911.6,236.8 912.1,238.7 912.6,239.5 913.1,241.6 913.6,242.8 914.1,242.8 914.6,245.4 915.1,245.4 915.6,244.5 916.1,246.1 916.6,246.8 917.1,245.7 917.6,246.2 918.1,247.7 918.6,245.9 919.1,244.6 919.6,245.6 920.1,245.5 920.6,245.8 921.1,246.1 921.6,247.4 922.1,247.4 922.6,247.3 923.1,248.6 923.6,248.4 924.1,248.3 924.6,250.6 925.1,251 925.6,249.8 926.1,250.1 926.6,250.6 927.1,251.7 927.6,254.1 928.1,254.6 928.6,254.7" fill="none" stroke="#0072B2" stroke-opacity="0.2" stroke-width="1.39"/>
<polyline points="111.6,515.6 112.1,513.5 112.6,512.2 113.1,508.6 113.6,505.9 114.1,505.3 114.6,502.4 115.1,498.2 115.6,496.5 116.1,495 116.6,492.9 117.1,492.4 117.6,493.5 118.1,491.1 118.6,488.9 119.1,490 119.6,489.7 120.1,489.4 120.6,488.9 121.1,489.2 121.6,488.6 122.1,486.6 122.6,486.2 123.1,485.9 123.6,484.6 124.1,484.4 124.6,483.5 125.1,481.3 125.6,480.1 126.1,477.5 126.6,475.4 127.1,473.8 127.6,472.9 128.1,471.6 128.6,468.7 129.1,467.6 129.6,467.2 130.1,464 130.6,463.3 131.1,463.3 131.6,460.5 132.1,460 132.6,458.5 133.1,456 133.6,456.6 134.1,455 134.6,452.4 135.1,453.4 135.6,452.2 136.1,450.9 136.6,451.6 137.1,453.1 137.6,451.3 138.1,448.5 138.6,449 139.1,448 139.6,445 140.1,443.6 140.6,442.2 141.1,439.8 141.6,438.1 142.1,436.2 142.6,433 143.1,429.7 143.6,425.6 144.1,422.8 144.6,421.8 145.1,420.3 145.6,419.8 146.1,419.3 146.6,421.2 147.1,424 147.6,423.1 148.1,422.8 148.6,424 149.1,425.6 149.6,426.9 150.1,425.6 150.6,424.5 151.1,424.1 151.6,422.4 152.1,422.2 152.6,421.2 153.1,420.1 153.6,419.5 154.1,418.8 154.6,417.4 155.1,416 155.6,414.1 156.1,412.5 156.6,411.6 157.1,409.8 157.6,408.9 158.1,408.1 158.6,405.1 159.1,403.3 159.6,402.6 160.1,401.7 160.6,399.8 161.1,396.7 161.6,395.4 162.1,396.3 162.6,395.3 163.1,392.5 163.6,391.4 164.1,388.1 164.6,386.2 165.1,386 165.6,383.6 166.1,381.2 166.6,378.2 167.1,374.1 167.6,370.4 168.1,366.4 168.6,364 169.1,360.1 169.6,354.9 170.1,350 170.6,345.3 171.1,343.1 171.6,338.4 172.1,331.8 172.6,327.8 173.1,324.4 173.6,322.4 174.1,317.6 174.6,313.1 175.1,312.2 175.6,307.5 176.1,303.1 176.6,300.9 177.1,299.1 177.6,294.5 178.1,288.9 178.6,287.2 179.1,286.2 179.6,281.9 180.1,275.4 180.6,273.6 181.1,271.7 181.6,268 182.1,264.4 182.6,259.2 183.1,255.1 183.6,253 184.1,250.7 184.6,244.4 185.1,239.2 185.6,239.6 186.1,237.9 186.6,233.5 187.1,233.4 187.6,234.4 188.1,234.5 188.6,234.9 189.1,235.2 189.6,235.9 190.1,237.4 190.6,237.8 191.1,238.3 191.6,239.3 192.1,240.8 192.6,241 193.1,239.3 193.6,239 194.1,238.8 194.6,238.6 195.1,238 195.6,238 196.1,237.7 196.6,235.3 197.1,232.6 197.6,232.2 198.1,231.9 198.6,230 199.1,227.2 199.6,224.5 200.1,225.2 200.6,226.2 201.1,225.9 201.6,222.9 202.1,222.1 202.6,221.7 203.1,220.3 203.6,220.2 204.1,218.2 204.6,216.7 205.1,215.1 205.6,215.1 206.1,215.8 206.6,217.9 207.1,220.3 207.6,222 208.1,223 208.6,222.5 209.1,223.1 209.6,223.9 210.1,224.9 210.6,226 211.1,225.1 211.6,225 212.1,225.8 212.6,225.5 213.1,226.4 213.6,228 214.1,226.6 214.6,224.9 215.1,223.4 215.6,223.3 216.1,224.6 216.6,222.9 217.1,223 217.6,224.9 218.1,223.5 218.6,222.5 219.1,221.6 219.6,222.4 220.1,222.2 220.6,221.5 221.1,224.6 221.6,226.4 222.1,227 222.6,228.7 223.1,229.2 223.6,230.7 224.1,233.9 224.6,234.7 225.1,236.3 225.6,239.3 226.1,241.1 226.6,240 227.1,238.8 227.6,239.1 228.1,240.7 228.6,242.3 229.1,241.8 229.6,240.2 230.1,238.1 230.6,238.2 231.1,238.6 231.6,237.8 232.1,237.8 232.6,239.7 233.1,241.2 233.6,241.3 234.1,241.2 234.6,244 235.1,248.4 235.6,250.9 236.1,252.7 236.6,254.8 237.1,258.4 237.6,261.6 238.1,264.3 238.6,266.3 239.1,268.1 239.6,271.1 240.1,272.3 240.6,272.4 241.1,273.6 241.6,275.9 242.1,276.7 242.6,277.3 243.1,277.5 243.6,276.5 244.1,276.3 244.6,277.3 245.1,280.8 245.6,283 246.1,283.8 246.6,285.1 247.1,285.8 247.6,286.3 248.1,287.6 248.6,289.3 249.1,290.6 249.6,291.7 250.1,292.5 250.6,292.6 251.1,293.6 251.6,294.1 252.1,296 252.6,295.7 253.1,295.1 253.6,298.7 254.1,298.2 254.6,294.8 255.1,293.8 255.6,294.4 256.1,292.8 256.6,290.3 257.1,288.8 257.6,286.8 258.1,287.5 258.6,286.5 259.1,282.6 259.6,281 260.1,280.3 260.6,279.6 261.1,278.9 261.6,277.5 262.1,274.7 262.6,274.8 263.1,276.1 263.6,276.3 264.1,276.3 264.6,276.9 265.1,277.6 265.6,277.9 266.1,276.2 266.6,274 267.1,272.5 267.6,269.2 268.1,266.9 268.6,265.2 269.1,264.5 269.6,261.4 270.1,258.6 270.6,257.5 271.1,255.7 271.6,255.7 272.1,254 272.6,252.4 273.1,251.5 273.6,252.7 274.1,254.6 274.6,255.6 275.1,255.4 275.6,255.7 276.1,260.1 276.6,263.1 277.1,264.3 277.6,267.1 278.1,268.8 278.6,271.8 279.1,275.5 279.6,278.3 280.1,280.7 280.6,283.3 281.1,286.1 281.6,288.8 282.1,292.6 282.6,294.9 283.1,296.4 283.6,298.1 284.1,296.8 284.6,298.4 285.1,301.5 285.6,301.6 286.1,302.2 286.6,300.9 287.1,300.5 287.6,301.8 288.1,302.6 288.6,300.6 289.1,298 289.6,298.9 290.1,298.9 290.6,299.3 291.1,300.4 291.6,298.8 292.1,300.6 292.6,304.2 293.1,303.6 293.6,305.2 294.1,307.7 294.6,309.3 295.1,310.7 295.6,310 296.1,312 296.6,315.2 297.1,318.4 297.6,320.8 298.1,321 298.6,320.9 299.1,321.7 299.6,322.9 300.1,324.2 300.6,325.8 301.1,326.1 301.6,327.5 302.1,330.9 302.6,334.1 303.1,335.8 303.6,334.2 304.1,335 304.6,335.5 305.1,335.4 305.6,335.7 306.1,338 306.6,340.8 307.1,339.5 307.6,340.1 308.1,343 308.6,344.5 309.1,344.9 309.6,344.9 310.1,345.6 310.6,348.3 311.1,352.1 311.6,354.5 312.1,355.9 312.6,360.1 313.1,361.7 313.6,363.1 314.1,365.2 314.6,365.9 315.1,368 315.6,368.8 316.1,368.6 316.6,367.6 317.1,366.4 317.6,367.4 318.1,369 318.6,369.6 319.1,370.3 319.6,369.4 320.1,368.4 320.6,370.1 321.1,371.6 321.6,372.8 322.1,374.3 322.6,377.6 323.1,380.3 323.6,382.3 324.1,384.8 324.6,387.8 325.1,390.7 325.6,393 326.1,394.5 326.6,395.2 327.1,398.7 327.6,399 328.1,398.5 328.6,399.3 329.1,397.8 329.6,399.2 330.1,401.9 330.6,401.4 331.1,402.2 331.6,403.1 332.1,402.7 332.6,404.4 333.1,405.7 333.6,408.6 334.1,409.1 334.6,409 335.1,411.9 335.6,410.6 336.1,409.2 336.6,411.7 337.1,413.4 337.6,414.1 338.1,416.2 338.6,416.1 339.1,414.6 339.6,413 340.1,414.1 340.6,415.4 341.1,415.4 341.6,415.6 342.1,413.7 342.6,414 343.1,414.7 343.6,412.3 344.1,408.5 344.6,405.4 345.1,404.1 345.6,401.9 346.1,399.2 346.6,397.6 347.1,396.5 347.6,394.6 348.1,391.7 348.6,390.3 349.1,388.9 349.6,383.7 350.1,381.9 350.6,382.8 351.1,383.2 351.6,382 352.1,379.8 352.6,378.8 353.1,378.7 353.6,377.4 354.1,374.6 354.6,372.7 355.1,371.7 355.6,370.4 356.1,366.6 356.6,365.4 357.1,363.1 357.6,357 358.1,350.7 358.6,345.2 359.1,341.8 359.6,337.6 360.1,334.6 360.6,332.4 361.1,333.2 361.6,334 362.1,333.9 362.6,333.5 363.1,331.1 363.6,333.5 364.1,336.4 364.6,336.6 365.1,338.4 365.6,340.5 366.1,342.7 366.6,342.8 367.1,345.3 367.6,347.9 368.1,348 368.6,351 369.1,352.9 369.6,352.1 370.1,350.2 370.6,350.9 371.1,352.8 371.6,352.7 372.1,351.3 372.6,350.6 373.1,350 373.6,350.7 374.1,351.6 374.6,350.9 375.1,348.7 375.6,346.8 376.1,346.7 376.6,344.8 377.1,342.6 377.6,343.3 378.1,342 378.6,339.5 379.1,337.6 379.6,335 380.1,332.9 380.6,332.8 381.1,335.1 381.6,337.3 382.1,338 382.6,337.6 383.1,337.9 383.6,337.4 384.1,337.8 384.6,339.7 385.1,339.8 385.6,341.2 386.1,342 386.6,340.3 387.1,340.9 387.6,340.7 388.1,340.2 388.6,342 389.1,342.2 389.6,341.1 390.1,342 390.6,342.2 391.1,340.5 391.6,340.4 392.1,340.6 392.6,339.2 393.1,339 393.6,338.1 394.1,337 394.6,337.7 395.1,338.7 395.6,338.5 396.1,337.3 396.6,338.5 397.1,339.9 397.6,339.5 398.1,339.7 398.6,339.6 399.1,339.2 399.6,340.5 400.1,341.4 400.6,341.6 401.1,343.7 401.6,344.3 402.1,342.4 402.6,342.6 403.1,344.1 403.6,343.1 404.1,341.6 404.6,340 405.1,337.5 405.6,336.2 406.1,335.3 406.6,336.1 407.1,334.2 407.6,332.9 408.1,332.4 408.6,331.3 409.1,333.9 409.6,335.7 410.1,336.8 410.6,336.5 411.1,337.7 411.6,339.8 412.1,342.8 412.6,345.1 413.1,344.5 413.6,344.9 414.1,345.3 414.6,346.6 415.1,349 415.6,351 416.1,351.8 416.6,351.9 417.1,350.8 417.6,351.9 418.1,350.6 418.6,347.5 419.1,348.7 419.6,349 420.1,348.8 420.6,350.5 421.1,350.4 421.6,350.7 422.1,351 422.6,351.4 423.1,353.2 423.6,351.4 424.1,350.2 424.6,350 425.1,349.7 425.6,351.1 426.1,349.1 426.6,348.3 427.1,347.8 427.6,345.8 428.1,344.6 428.6,346.2 429.1,346.5 429.6,343.5 430.1,341 430.6,338.5 431.1,333.5 431.6,327.8 432.1,326.6 432.6,322.1 433.1,316 433.6,312.4 434.1,307.4 434.6,302.7 435.1,299.8 435.6,295.5 436.1,290.5 436.6,286.5 437.1,283.8 437.6,281.2 438.1,279.6 438.6,277.5 439.1,273.9 439.6,269.2 440.1,267.6 440.6,267.6 441.1,263.9 441.6,259.1 442.1,256.6 442.6,255.7 443.1,252 443.6,246.5 444.1,242 444.6,238 445.1,232.7 445.6,227 446.1,222.1 446.6,219.2 447.1,216.4 447.6,211.5 448.1,206.2 448.6,202.8 449.1,201.9 449.6,200.1 450.1,199.1 450.6,198.8 451.1,197.3 451.6,196.8 452.1,197.3 452.6,196.6 453.1,196.4 453.6,199.5 454.1,199.4 454.6,197.8 455.1,200.1 455.6,200.7 456.1,199.6 456.6,198.8 457.1,200.4 457.6,202.7 458.1,203.5 458.6,203.2 459.1,203.2 459.6,202.3 460.1,201.3 460.6,201 461.1,200.5 461.6,200.9 462.1,200.6 462.6,198.3 463.1,197.4 463.6,196.7 464.1,193.6 464.6,192.3 465.1,190.4 465.6,188.8 466.1,188.7 466.6,187.2 467.1,185.8 467.6,184.5 468.1,182.6 468.6,180.8 469.1,179.9 469.6,180.3 470.1,180.3 470.6,181.7 471.1,183.5 471.6,183.7 472.1,183.5 472.6,185.6 473.1,188.1 473.6,189 474.1,189.6 474.6,189.9 475.1,189.4 475.6,187.9 476.1,186.2 476.6,185.2 477.1,185.2 477.6,185.9 478.1,186.4 478.6,185.7 479.1,185.3 479.6,185.4 480.1,185.3 480.6,184.9 481.1,184.6 481.6,183.8 482.1,182.9 482.6,184.1 483.1,185.8 483.6,186 484.1,186.5 484.6,189.9 485.1,190.9 485.6,190.9 486.1,193.4 486.6,194.4 487.1,196.8 487.6,201.5 488.1,204.5 488.6,205.8 489.1,207.5 489.6,209.2 490.1,210.9 490.6,211.8 491.1,211.7 491.6,212.7 492.1,214.3 492.6,214.8 493.1,214.3 493.6,211.8 494.1,211.4 494.6,214.5 495.1,214.8 495.6,213.2 496.1,213 496.6,215.6 497.1,218 497.6,220.9 498.1,224.1 498.6,227.3 499.1,231.8 499.6,232.6 500.1,235.3 500.6,239.4 501.1,240.5 501.6,242.9 502.1,245.7 502.6,248.9 503.1,249.4 503.6,250.9 504.1,255.3 504.6,256.1 505.1,256.3 505.6,257.3 506.1,257.1 506.6,259 507.1,262 507.6,263.6 508.1,267 508.6,268.8 509.1,268.9 509.6,271.1 510.1,271.2 510.6,270.7 511.1,272.8 511.6,274.3 512.1,276.4 512.6,277.8 513.1,279.7 513.6,282.1 514.1,282.2 514.6,281.5 515.1,281.9 515.6,283.6 516.1,282.9 516.6,283.1 517.1,285.2 517.6,285.7 518.1,286.4 518.6,287.1 519.1,284.6 519.6,282.6 520.1,281.2 520.6,280.1 521.1,278 521.6,275.8 522.1,274.2 522.6,271.5 523.1,269.3 523.6,266.1 524.1,266.9 524.6,267.7 525.1,267.6 525.6,268.6 526.1,268.8 526.6,270.2 527.1,270.5 527.6,270.4 528.1,269.5 528.6,269.5 529.1,270.6 529.6,269.7 530.1,269.8 530.6,269 531.1,268.5 531.6,264.6 532.1,260.8 532.6,259.3 533.1,257.9 533.6,256.1 534.1,252.9 534.6,251 535.1,249.3 535.6,248.6 536.1,246 536.6,243.9 537.1,242 537.6,241.9 538.1,244.1 538.6,244.1 539.1,245.5 539.6,245.9 540.1,245.7 540.6,249.1 541.1,253.8 541.6,258.9 542.1,263.1 542.6,266.1 543.1,270 543.6,272.6 544.1,273.5 544.6,275.3 545.1,280.2 545.6,281.5 546.1,281.7 546.6,286.1 547.1,287.7 547.6,286.3 548.1,286.2 548.6,287.9 549.1,289.1 549.6,287.9 550.1,287.7 550.6,288.7 551.1,288.8 551.6,289.9 552.1,288.7 552.6,286.4 553.1,287 553.6,289.4 554.1,289.2 554.6,287.8 555.1,289.2 555.6,288.3 556.1,287.4 556.6,288.2 557.1,288.4 557.6,289.8 558.1,291.9 558.6,292.7 559.1,292.6 559.6,293.9 560.1,296.1 560.6,298.7 561.1,300 561.6,301.1 562.1,301.9 562.6,304.9 563.1,306.3 563.6,306.7 564.1,308.4 564.6,308.3 565.1,307.5 565.6,309.3 566.1,311.5 566.6,312.3 567.1,311.3 567.6,309.7 568.1,310.2 568.6,311.6 569.1,314.8 569.6,316.8 570.1,316.7 570.6,317.3 571.1,318.7 571.6,319.1 572.1,319.5 572.6,320.3 573.1,319.1 573.6,319.7 574.1,323.5 574.6,323.9 575.1,323.5 575.6,324.3 576.1,325.1 576.6,327.1 577.1,327.8 577.6,326.9 578.1,325.4 578.6,326.3 579.1,327.7 579.6,327.5 580.1,330.5 580.6,333.1 581.1,330.3 581.6,329.7 582.1,330.2 582.6,327.9 583.1,327.6 583.6,327 584.1,326.5 584.6,328.3 585.1,330.2 585.6,333.7 586.1,335.5 586.6,335.6 587.1,338.3 587.6,341.6 588.1,344.7 588.6,347.8 589.1,350.2 589.6,350.7 590.1,352.6 590.6,355 591.1,355.9 591.6,357.1 592.1,360.3 592.6,360.8 593.1,360.1 593.6,362.3 594.1,362.7 594.6,361.7 595.1,362 595.6,363.6 596.1,365.5 596.6,365.7 597.1,366.1 597.6,367.9 598.1,369.3 598.6,367.6 599.1,367.6 599.6,369.3 600.1,370.4 600.6,370.5 601.1,369.6 601.6,369.7 602.1,369 602.6,369.6 603.1,370.6 603.6,371.5 604.1,371.2 604.6,370.7 605.1,370.5 605.6,369.7 606.1,370.6 606.6,370.7 607.1,369.9 607.6,368.4 608.1,367.3 608.6,365.4 609.1,363.3 609.6,361.9 610.1,359.8 610.6,357.2 611.1,353.3 611.6,350.6 612.1,347.5 612.6,344.1 613.1,342.7 613.6,340.8 614.1,338.8 614.6,338.3 615.1,337.2 615.6,336.3 616.1,337 616.6,336.6 617.1,334.5 617.6,331.7 618.1,330.8 618.6,330.2 619.1,329.4 619.6,327.7 620.1,325.3 620.6,324.7 621.1,323.2 621.6,320.9 622.1,319.6 622.6,317.9 623.1,313.6 623.6,309.2 624.1,304.9 624.6,303.1 625.1,302.3 625.6,300.6 626.1,299.4 626.6,299.2 627.1,300.2 627.6,302.2 628.1,305.9 628.6,308.2 629.1,308.1 629.6,309.5 630.1,312.2 630.6,314.8 631.1,318.8 631.6,322.4 632.1,323.8 632.6,325.5 633.1,327.3 633.6,327.6 634.1,328.4 634.6,329.9 635.1,333 635.6,333.3 636.1,333.4 636.6,335.6 637.1,334.6 637.6,333.1 638.1,332.3 638.6,332 639.1,332.5 639.6,331.5 640.1,330.5 640.6,330.4 641.1,328.2 641.6,326.1 642.1,324.9 642.6,324.2 643.1,322.7 643.6,322.5 644.1,323.6 644.6,323.2 645.1,325.5 645.6,326.5 646.1,325.2 646.6,327.4 647.1,328 647.6,328.6 648.1,330.5 648.6,331.9 649.1,334.3 649.6,336.1 650.1,337.8 650.6,338.4 651.1,339 651.6,338.9 652.1,338.1 652.6,338.8 653.1,339.2 653.6,338.1 654.1,340.1 654.6,341.5 655.1,341.2 655.6,341.9 656.1,342.8 656.6,341.7 657.1,341.1 657.6,341.4 658.1,342 658.6,342.9 659.1,344.1 659.6,345.6 660.1,344.6 660.6,344.9 661.1,345.6 661.6,346.7 662.1,348.9 662.6,350.2 663.1,349.2 663.6,350 664.1,352.7 664.6,354 665.1,355.3 665.6,354.7 666.1,354.8 666.6,355.9 667.1,355.7 667.6,356.4 668.1,356.6 668.6,355.5 669.1,354.7 669.6,353.6 670.1,351 670.6,351.3 671.1,351.6 671.6,349.4 672.1,348.6 672.6,350.7 673.1,354.1 673.6,356.8 674.1,358.2 674.6,358.4 675.1,360.2 675.6,364.5 676.1,367.5 676.6,370 677.1,371.6 677.6,374.3 678.1,376.8 678.6,375.7 679.1,374.2 679.6,376.7 680.1,377.6 680.6,377.5 681.1,380 681.6,378.7 682.1,378.4 682.6,379.1 683.1,380 683.6,381.5 684.1,383.1 684.6,383.9 685.1,382.8 685.6,383.7 686.1,384.1 686.6,383.4 687.1,386.1 687.6,386.3 688.1,384.3 688.6,385.6 689.1,385.6 689.6,384.1 690.1,386.6 690.6,388.1 691.1,387 691.6,387.2 692.1,386.7 692.6,385.6 693.1,386.1 693.6,388.3 694.1,388.1 694.6,386.2 695.1,383.2 695.6,381.3 696.1,379.4 696.6,378.4 697.1,377.2 697.6,374.4 698.1,372.3 698.6,370 699.1,366.8 699.6,365.9 700.1,364.2 700.6,360.7 701.1,359.7 701.6,358.1 702.1,356.6 702.6,356.2 703.1,355.3 703.6,354.3 704.1,353.6 704.6,353.5 705.1,351.1 705.6,349.6 706.1,348.1 706.6,344.6 707.1,343.2 707.6,341.4 708.1,339.3 708.6,338.2 709.1,333.4 709.6,329.8 710.1,330.7 710.6,329.1 711.1,326 711.6,323 712.1,318.3 712.6,315 713.1,314.7 713.6,315.5 714.1,314.4 714.6,314.1 715.1,316.2 715.6,316.7 716.1,317.9 716.6,322.7 717.1,326.9 717.6,327.6 718.1,329.8 718.6,332.1 719.1,332.6 719.6,333.5 720.1,336.9 720.6,340 721.1,342.3 721.6,344 722.1,343.2 722.6,341.7 723.1,343.1 723.6,344 724.1,342.4 724.6,340.4 725.1,340.7 725.6,342.6 726.1,340.8 726.6,339.3 727.1,339.1 727.6,339 728.1,337.9 728.6,337.6 729.1,336.3 729.6,333.5 730.1,332.2 730.6,329.6 731.1,328.4 731.6,330.5 732.1,330.8 732.6,329.6 733.1,330.5 733.6,330.4 734.1,331.3 734.6,334.5 735.1,336.5 735.6,336.5 736.1,338.2 736.6,341.6 737.1,341.9 737.6,342.7 738.1,342.9 738.6,341.4 739.1,343.6 739.6,345.3 740.1,344.8 740.6,344.5 741.1,344.2 741.6,345.4 742.1,347.1 742.6,346.5 743.1,344 743.6,345.3 744.1,347.4 744.6,347.1 745.1,346.9 745.6,348.4 746.1,348.7 746.6,347.5 747.1,346.1 747.6,345.4 748.1,346.5 748.6,347.2 749.1,348.4 749.6,348.1 750.1,349.5 750.6,349.8 751.1,349 751.6,351 752.1,351.7 752.6,353.1 753.1,355.5 753.6,355.5 754.1,357.4 754.6,358 755.1,356.2 755.6,354.9 756.1,352.7 756.6,352 757.1,352.5 757.6,351.8 758.1,351.8 758.6,349.1 759.1,346.9 759.6,347.7 760.1,350.3 760.6,353 761.1,353.1 761.6,354.1 762.1,357 762.6,359.6 763.1,361.4 763.6,362.7 764.1,366 764.6,370.3 765.1,372 765.6,374.3 766.1,374.6 766.6,373.8 767.1,375.2 767.6,376.2 768.1,375.7 768.6,375.7 769.1,375.6 769.6,376.5 770.1,377.5 770.6,377.6 771.1,378.9 771.6,378 772.1,376.7 772.6,379.6 773.1,379.9 773.6,377.7 774.1,379.7 774.6,381.7 775.1,380.2 775.6,380.6 776.1,381.2 776.6,379.3 777.1,380 777.6,380.8 778.1,380.1 778.6,380.2 779.1,380 779.6,380 780.1,380.4 780.6,380.1 781.1,378.8 781.6,376.1 782.1,373.7 782.6,372.9 783.1,373.6 783.6,372.3 784.1,368.5 784.6,366.5 785.1,363.7 785.6,361.4 786.1,359.3 786.6,357.1 787.1,355.7 787.6,352.7 788.1,350.5 788.6,348.4 789.1,346.6 789.6,347 790.1,349.4 790.6,347.7 791.1,343.6 791.6,341.6 792.1,342.6 792.6,342 793.1,339.8 793.6,340.3 794.1,338.1 794.6,336.4 795.1,335.7 795.6,331.3 796.1,327.2 796.6,324.2 797.1,320.6 797.6,319.3 798.1,318 798.6,315.3 799.1,312.7 799.6,309.1 800.1,306.3 800.6,303.1 801.1,300.2 801.6,301 802.1,301.2 802.6,299.9 803.1,300 803.6,303.3 804.1,307.4 804.6,307.5 805.1,307.9 805.6,311.8 806.1,315.9 806.6,317.4 807.1,319.4 807.6,322.3 808.1,325.6 808.6,327.9 809.1,327 809.6,327.2 810.1,328.5 810.6,329.4 811.1,328.1 811.6,327.6 812.1,327.1 812.6,326.4 813.1,326.2 813.6,325.2 814.1,325.5 814.6,325.5 815.1,325.8 815.6,326.1 816.1,324.4 816.6,321.2 817.1,320.6 817.6,318.9 818.1,315.9 818.6,316.9 819.1,317.9 819.6,317.6 820.1,316.5 820.6,314.8 821.1,315.3 821.6,317.8 822.1,318.3 822.6,318.8 823.1,319.4 823.6,319.9 824.1,322.8 824.6,325.6 825.1,325.3 825.6,325.1 826.1,326.3 826.6,328.4 827.1,328.2 827.6,327.9 828.1,327.3 828.6,326.3 829.1,328.7 829.6,331 830.1,329.9 830.6,328.5 831.1,330.3 831.6,330.7 832.1,329.6 832.6,330.3 833.1,330.8 833.6,331.4 834.1,332.4 834.6,331.5 835.1,330.8 835.6,331.1 836.1,330.7 836.6,330.7 837.1,333.1 837.6,333 838.1,333.8 838.6,336 839.1,335.9 839.6,336.8 840.1,338.5 840.6,340.2 841.1,340.9 841.6,340.9 842.1,341.7 842.6,343.5 843.1,344.1 843.6,341.3 844.1,339.4 844.6,338.5 845.1,338.1 845.6,337.8 846.1,338.3 846.6,335.3 847.1,333.5 847.6,334.8 848.1,333.4 848.6,333.9 849.1,336 849.6,338.4 850.1,342.1 850.6,343.3 851.1,345.9 851.6,349.5 852.1,352.1 852.6,355.1 853.1,356.8 853.6,358.9 854.1,359.9 854.6,360.1 855.1,358.9 855.6,359.6 856.1,360.7 856.6,361.9 857.1,359.8 857.6,357.9 858.1,360.7 858.6,360.5 859.1,359.9 859.6,363 860.1,364.7 860.6,362.8 861.1,363.3 861.6,365.5 862.1,365.4 862.6,365.1 863.1,365.1 863.6,364.5 864.1,364.3 864.6,365.8 865.1,366.3 865.6,367.3 866.1,367.1 866.6,363.4 867.1,363.2 867.6,365.3 868.1,365.8 868.6,365.3 869.1,363.7 869.6,364.4 870.1,363.8 870.6,362.1 871.1,361.6 871.6,358.9 872.1,358.6 872.6,355.4 873.1,351.2 873.6,350.7 874.1,348 874.6,345.3 875.1,342.6 875.6,338.8 876.1,337.6 876.6,335.3 877.1,331.3 877.6,329.1 878.1,327.6 878.6,328.5 879.1,328.5 879.6,327.1 880.1,325.3 880.6,324.8 881.1,323.2 881.6,321.4 882.1,322.1 882.6,321.3 883.1,321.3 883.6,320.5 884.1,317.5 884.6,315.7 885.1,312.8 885.6,308.3 886.1,303.5 886.6,299.7 887.1,296.6 887.6,293.4 888.1,291.7 888.6,288.6 889.1,285.3 889.6,284.4 890.1,281.1 890.6,280.1 891.1,283.7 891.6,286.1 892.1,287.5 892.6,290 893.1,294.1 893.6,295.1 894.1,297.5 894.6,301.7 895.1,303.3 895.6,303.5 896.1,306.1 896.6,308.6 897.1,308.3 897.6,309.8 898.1,310.7 898.6,312.3 899.1,313.9 899.6,314.6 900.1,314.6 900.6,312.8 901.1,311.9 901.6,312.8 902.1,312.8 902.6,313.8 903.1,313.5 903.6,309.8 904.1,309.9 904.6,309.9 905.1,307.5 905.6,305.1 906.1,304.2 906.6,304.2 907.1,303.6 907.6,301.9 908.1,300.7 908.6,301.1 909.1,301.3 909.6,298.7 910.1,298 910.6,300.8 911.1,302.5 911.6,304.7 912.1,307.3 912.6,309.2 913.1,309.6 913.6,310.3 914.1,312.5 914.6,312.8 915.1,312.2 915.6,314.3 916.1,314.9 916.6,312.5 917.1,312.8 917.6,314.2 918.1,313.9 918.6,315.3 919.1,316.1 919.6,315.1 920.1,315.5 920.6,316.3 921.1,315.8 921.6,315.9 922.1,316.1 922.6,315.6 923.1,315.2 923.6,315.9 924.1,315.6 924.6,314.8 925.1,317 925.6,318.6 926.1,318.5 926.6,319.6 927.1,320.6 927.6,321.6 928.1,322.9 928.6,323.3" fill="none" stroke="#0072B2" stroke-opacity="0.2" stroke-width="1.39"/>
<polygon points="929,222 933,219.5 935.5,217 937.5,217 938.5,224 940,224 940.5,233.5 942,237 943,240 944.5,240 944.5,342 943.2,344.5 941,339 939,334 937,324 935,325 932,327.5 929,326" fill="#0072B2" fill-opacity="0.14"/>
<g stroke="#0072B2" stroke-opacity="0.14" stroke-width="0.9"><line x1="930.2" x2="930.2" y1="222.2" y2="325.6"/><line x1="931.9" x2="931.9" y1="221.2" y2="326.5"/><line x1="933.6" x2="933.6" y1="219.9" y2="325.2"/><line x1="935.3" x2="935.3" y1="218.2" y2="323.8"/><line x1="937" x2="937" y1="218" y2="323"/><line x1="938.7" x2="938.7" y1="225" y2="331.5"/><line x1="940.4" x2="940.4" y1="232.6" y2="336.5"/><line x1="942.1" x2="942.1" y1="238.3" y2="340.8"/><line x1="943.8" x2="943.8" y1="241" y2="342.3"/></g>
<g fill="#000"><circle cx="112" cy="456.6" r="2.8"/><circle cx="112.3" cy="449.1" r="2.8"/><circle cx="112.7" cy="449.7" r="2.8"/><circle cx="113" cy="447.7" r="2.8"/><circle cx="113.3" cy="449.8" r="2.8"/><circle cx="113.7" cy="448.7" r="2.8"/><circle cx="114" cy="452" r="2.8"/><circle cx="114.4" cy="456.6" r="2.8"/><circle cx="114.7" cy="457.2" r="2.8"/><circle cx="115" cy="456.5" r="2.8"/><circle cx="115.4" cy="455" r="2.8"/><circle cx="115.7" cy="454.2" r="2.8"/><circle cx="116" cy="454.1" r="2.8"/><circle cx="116.4" cy="455.5" r="2.8"/><circle cx="116.7" cy="454.4" r="2.8"/><circle cx="117.1" cy="455" r="2.8"/><circle cx="117.4" cy="450.2" r="2.8"/><circle cx="117.7" cy="453.8" r="2.8"/><circle cx="118.1" cy="457.9" r="2.8"/><circle cx="118.4" cy="456.5" r="2.8"/><circle cx="118.7" cy="450" r="2.8"/><circle cx="119.1" cy="456.7" r="2.8"/><circle cx="119.4" cy="454.6" r="2.8"/><circle cx="119.7" cy="449.6" r="2.8"/><circle cx="120.1" cy="449" r="2.8"/><circle cx="120.4" cy="453.9" r="2.8"/><circle cx="120.8" cy="455.1" r="2.8"/><circle cx="121.1" cy="457.8" r="2.8"/><circle cx="121.4" cy="457.6" r="2.8"/><circle cx="121.8" cy="460.4" r="2.8"/><circle cx="122.1" cy="450.7" r="2.8"/><circle cx="122.4" cy="450.2" r="2.8"/><circle cx="122.8" cy="452.1" r="2.8"/><circle cx="123.1" cy="456.1" r="2.8"/><circle cx="123.5" cy="451.8" r="2.8"/><circle cx="123.8" cy="452" r="2.8"/><circle cx="124.1" cy="456.5" r="2.8"/><circle cx="124.5" cy="449.8" r="2.8"/><circle cx="124.8" cy="450" r="2.8"/><circle cx="125.1" cy="450.6" r="2.8"/><circle cx="125.5" cy="453.2" r="2.8"/><circle cx="125.8" cy="452.5" r="2.8"/><circle cx="126.1" cy="449.2" r="2.8"/><circle cx="126.5" cy="449.5" r="2.8"/><circle cx="126.8" cy="448.1" r="2.8"/><circle cx="127.2" cy="453.5" r="2.8"/><circle cx="127.5" cy="452.7" r="2.8"/><circle cx="127.8" cy="454.1" r="2.8"/><circle cx="128.2" cy="455.5" r="2.8"/><circle cx="128.5" cy="451.3" r="2.8"/><circle cx="128.8" cy="455.3" r="2.8"/><circle cx="129.2" cy="456.4" r="2.8"/><circle cx="129.5" cy="454.2" r="2.8"/><circle cx="129.9" cy="455.1" r="2.8"/><circle cx="130.2" cy="450" r="2.8"/><circle cx="130.5" cy="451.2" r="2.8"/><circle cx="130.9" cy="450.4" r="2.8"/><circle cx="131.2" cy="443.6" r="2.8"/><circle cx="131.5" cy="443.1" r="2.8"/><circle cx="131.9" cy="441.3" r="2.8"/><circle cx="132.2" cy="439.8" r="2.8"/><circle cx="132.5" cy="441.3" r="2.8"/><circle cx="132.9" cy="445.1" r="2.8"/><circle cx="133.2" cy="440" r="2.8"/><circle cx="133.6" cy="439.2" r="2.8"/><circle cx="133.9" cy="434.5" r="2.8"/><circle cx="134.2" cy="435.3" r="2.8"/><circle cx="134.6" cy="439.5" r="2.8"/><circle cx="134.9" cy="439.1" r="2.8"/><circle cx="135.2" cy="438.3" r="2.8"/><circle cx="135.6" cy="430.1" r="2.8"/><circle cx="135.9" cy="429.8" r="2.8"/><circle cx="136.3" cy="433.2" r="2.8"/><circle cx="136.6" cy="426.8" r="2.8"/><circle cx="136.9" cy="425.8" r="2.8"/><circle cx="137.3" cy="428.4" r="2.8"/><circle cx="137.6" cy="425.2" r="2.8"/><circle cx="137.9" cy="431" r="2.8"/><circle cx="138.3" cy="423.3" r="2.8"/><circle cx="138.6" cy="425.3" r="2.8"/><circle cx="138.9" cy="420.3" r="2.8"/><circle cx="139.3" cy="418.9" r="2.8"/><circle cx="139.6" cy="419.1" r="2.8"/><circle cx="140" cy="419.9" r="2.8"/><circle cx="140.3" cy="418.6" r="2.8"/><circle cx="140.6" cy="416.5" r="2.8"/><circle cx="141" cy="417.2" r="2.8"/><circle cx="141.3" cy="421" r="2.8"/><circle cx="141.6" cy="416.3" r="2.8"/><circle cx="142" cy="416.7" r="2.8"/><circle cx="142.3" cy="414.7" r="2.8"/><circle cx="142.7" cy="413.1" r="2.8"/><circle cx="143" cy="415" r="2.8"/><circle cx="143.3" cy="407.6" r="2.8"/><circle cx="143.7" cy="399" r="2.8"/><circle cx="144" cy="382.4" r="2.8"/><circle cx="144.3" cy="367.9" r="2.8"/><circle cx="144.7" cy="364.6" r="2.8"/><circle cx="145" cy="383.7" r="2.8"/><circle cx="145.3" cy="386.1" r="2.8"/><circle cx="145.7" cy="389.2" r="2.8"/><circle cx="146" cy="388.2" r="2.8"/><circle cx="146.4" cy="387.6" r="2.8"/><circle cx="146.7" cy="388.5" r="2.8"/><circle cx="147" cy="393.4" r="2.8"/><circle cx="147.4" cy="390.5" r="2.8"/><circle cx="147.7" cy="388.5" r="2.8"/><circle cx="148" cy="390" r="2.8"/><circle cx="148.4" cy="378.7" r="2.8"/><circle cx="148.7" cy="377.2" r="2.8"/><circle cx="149.1" cy="383.6" r="2.8"/><circle cx="149.4" cy="388.8" r="2.8"/><circle cx="149.7" cy="381.1" r="2.8"/><circle cx="150.1" cy="381.7" r="2.8"/><circle cx="150.4" cy="383.1" r="2.8"/><circle cx="150.7" cy="384.2" r="2.8"/><circle cx="151.1" cy="392" r="2.8"/><circle cx="151.4" cy="391" r="2.8"/><circle cx="151.7" cy="391" r="2.8"/><circle cx="152.1" cy="379.9" r="2.8"/><circle cx="152.4" cy="378.3" r="2.8"/><circle cx="152.8" cy="385.1" r="2.8"/><circle cx="153.1" cy="378.8" r="2.8"/><circle cx="153.4" cy="384.2" r="2.8"/><circle cx="153.8" cy="382.3" r="2.8"/><circle cx="154.1" cy="379.8" r="2.8"/><circle cx="154.4" cy="391" r="2.8"/><circle cx="154.8" cy="384.5" r="2.8"/><circle cx="155.1" cy="381.1" r="2.8"/><circle cx="155.5" cy="382.2" r="2.8"/><circle cx="155.8" cy="387" r="2.8"/><circle cx="156.1" cy="404.9" r="2.8"/><circle cx="156.5" cy="384.4" r="2.8"/><circle cx="156.8" cy="388.5" r="2.8"/><circle cx="157.1" cy="390.1" r="2.8"/><circle cx="157.5" cy="400.3" r="2.8"/><circle cx="157.8" cy="394.1" r="2.8"/><circle cx="158.1" cy="382" r="2.8"/><circle cx="158.5" cy="396.9" r="2.8"/><circle cx="158.8" cy="387.4" r="2.8"/><circle cx="159.2" cy="391.4" r="2.8"/><circle cx="159.5" cy="385.6" r="2.8"/><circle cx="159.8" cy="385.9" r="2.8"/><circle cx="160.2" cy="388.7" r="2.8"/><circle cx="160.5" cy="400.7" r="2.8"/><circle cx="160.8" cy="407.1" r="2.8"/><circle cx="161.2" cy="394.2" r="2.8"/><circle cx="161.5" cy="408" r="2.8"/><circle cx="161.9" cy="400.1" r="2.8"/><circle cx="162.2" cy="402.4" r="2.8"/><circle cx="162.5" cy="404.6" r="2.8"/><circle cx="162.9" cy="409.7" r="2.8"/><circle cx="163.2" cy="400.1" r="2.8"/><circle cx="163.5" cy="400.3" r="2.8"/><circle cx="163.9" cy="403.5" r="2.8"/><circle cx="164.2" cy="403" r="2.8"/><circle cx="164.5" cy="394.6" r="2.8"/><circle cx="164.9" cy="412.4" r="2.8"/><circle cx="165.2" cy="402.6" r="2.8"/><circle cx="165.6" cy="406.6" r="2.8"/><circle cx="165.9" cy="403.8" r="2.8"/><circle cx="166.2" cy="408" r="2.8"/><circle cx="166.6" cy="385.1" r="2.8"/><circle cx="166.9" cy="403.1" r="2.8"/><circle cx="167.2" cy="394.5" r="2.8"/><circle cx="167.6" cy="382.1" r="2.8"/><circle cx="167.9" cy="379.2" r="2.8"/><circle cx="168.3" cy="388.6" r="2.8"/><circle cx="168.6" cy="381.7" r="2.8"/><circle cx="168.9" cy="359" r="2.8"/><circle cx="169.3" cy="343" r="2.8"/><circle cx="169.6" cy="352.1" r="2.8"/><circle cx="169.9" cy="323.4" r="2.8"/><circle cx="170.3" cy="322" r="2.8"/><circle cx="170.6" cy="317.3" r="2.8"/><circle cx="170.9" cy="324.8" r="2.8"/><circle cx="171.3" cy="312.7" r="2.8"/><circle cx="182.3" cy="142.4" r="2.8"/><circle cx="183.7" cy="145.9" r="2.8"/><circle cx="184" cy="143.1" r="2.8"/><circle cx="186.4" cy="140.3" r="2.8"/><circle cx="187.4" cy="143" r="2.8"/><circle cx="187.7" cy="143" r="2.8"/><circle cx="188.7" cy="145.4" r="2.8"/><circle cx="189.1" cy="143.9" r="2.8"/><circle cx="189.8" cy="150.9" r="2.8"/><circle cx="191.4" cy="151.3" r="2.8"/><circle cx="193.5" cy="193.3" r="2.8"/><circle cx="193.8" cy="191.1" r="2.8"/><circle cx="194.8" cy="203.9" r="2.8"/><circle cx="195.1" cy="206" r="2.8"/><circle cx="195.5" cy="201" r="2.8"/><circle cx="195.8" cy="205.1" r="2.8"/><circle cx="196.2" cy="209.8" r="2.8"/><circle cx="196.5" cy="211.1" r="2.8"/><circle cx="196.8" cy="203.7" r="2.8"/><circle cx="197.2" cy="196" r="2.8"/><circle cx="197.5" cy="197.9" r="2.8"/><circle cx="197.8" cy="223.9" r="2.8"/><circle cx="198.2" cy="225.7" r="2.8"/><circle cx="198.5" cy="197.4" r="2.8"/><circle cx="198.9" cy="205.2" r="2.8"/><circle cx="199.2" cy="196.6" r="2.8"/><circle cx="199.5" cy="229.7" r="2.8"/><circle cx="199.9" cy="224.8" r="2.8"/><circle cx="200.2" cy="206.7" r="2.8"/><circle cx="200.5" cy="220.9" r="2.8"/><circle cx="200.9" cy="207" r="2.8"/><circle cx="201.2" cy="218.8" r="2.8"/><circle cx="201.5" cy="217.9" r="2.8"/><circle cx="201.9" cy="203.3" r="2.8"/><circle cx="202.2" cy="216.9" r="2.8"/><circle cx="202.6" cy="201.6" r="2.8"/><circle cx="202.9" cy="223.3" r="2.8"/><circle cx="203.2" cy="219.3" r="2.8"/><circle cx="203.6" cy="204.3" r="2.8"/><circle cx="203.9" cy="198.8" r="2.8"/><circle cx="204.2" cy="220.8" r="2.8"/><circle cx="204.6" cy="224.5" r="2.8"/><circle cx="204.9" cy="207.6" r="2.8"/><circle cx="205.3" cy="227.4" r="2.8"/><circle cx="205.6" cy="224.4" r="2.8"/><circle cx="205.9" cy="216.5" r="2.8"/><circle cx="206.3" cy="217" r="2.8"/><circle cx="206.6" cy="214.1" r="2.8"/><circle cx="206.9" cy="230.4" r="2.8"/><circle cx="207.3" cy="226.2" r="2.8"/><circle cx="207.6" cy="205.3" r="2.8"/><circle cx="207.9" cy="234.1" r="2.8"/><circle cx="208.3" cy="230.6" r="2.8"/><circle cx="208.6" cy="213.6" r="2.8"/><circle cx="209" cy="211.2" r="2.8"/><circle cx="209.3" cy="205.3" r="2.8"/><circle cx="209.6" cy="210.6" r="2.8"/><circle cx="210" cy="219.2" r="2.8"/><circle cx="210.3" cy="219.2" r="2.8"/><circle cx="210.6" cy="208.7" r="2.8"/><circle cx="211" cy="201.7" r="2.8"/><circle cx="211.3" cy="222.4" r="2.8"/><circle cx="211.7" cy="212.2" r="2.8"/><circle cx="212" cy="230.5" r="2.8"/><circle cx="212.3" cy="209.6" r="2.8"/><circle cx="212.7" cy="220.8" r="2.8"/><circle cx="213" cy="214.7" r="2.8"/><circle cx="213.3" cy="200.4" r="2.8"/><circle cx="213.7" cy="224.9" r="2.8"/><circle cx="214" cy="220.6" r="2.8"/><circle cx="214.3" cy="203.4" r="2.8"/><circle cx="214.7" cy="205.9" r="2.8"/><circle cx="215" cy="225.4" r="2.8"/><circle cx="215.4" cy="202.6" r="2.8"/><circle cx="215.7" cy="221.3" r="2.8"/><circle cx="216" cy="219.7" r="2.8"/><circle cx="216.4" cy="208.2" r="2.8"/><circle cx="216.7" cy="216.4" r="2.8"/><circle cx="217" cy="214.3" r="2.8"/><circle cx="217.4" cy="201.2" r="2.8"/><circle cx="217.7" cy="184.9" r="2.8"/><circle cx="218.1" cy="186.3" r="2.8"/><circle cx="218.4" cy="173.5" r="2.8"/><circle cx="218.7" cy="162.9" r="2.8"/><circle cx="219.1" cy="162.8" r="2.8"/><circle cx="219.4" cy="165.7" r="2.8"/><circle cx="219.7" cy="164.6" r="2.8"/><circle cx="220.1" cy="159.4" r="2.8"/><circle cx="220.4" cy="172.2" r="2.8"/><circle cx="220.7" cy="173" r="2.8"/><circle cx="221.1" cy="174.7" r="2.8"/><circle cx="221.4" cy="179" r="2.8"/><circle cx="221.8" cy="175.7" r="2.8"/><circle cx="222.1" cy="177.8" r="2.8"/><circle cx="222.4" cy="182.9" r="2.8"/><circle cx="222.8" cy="183.8" r="2.8"/><circle cx="223.1" cy="183.7" r="2.8"/><circle cx="223.4" cy="190.3" r="2.8"/><circle cx="223.8" cy="188.1" r="2.8"/><circle cx="224.1" cy="192.3" r="2.8"/><circle cx="224.5" cy="182.9" r="2.8"/><circle cx="224.8" cy="187.7" r="2.8"/><circle cx="225.1" cy="184.8" r="2.8"/><circle cx="225.5" cy="186.7" r="2.8"/><circle cx="225.8" cy="185" r="2.8"/><circle cx="226.1" cy="191" r="2.8"/><circle cx="226.5" cy="190.2" r="2.8"/><circle cx="226.8" cy="191.2" r="2.8"/><circle cx="227.1" cy="192.2" r="2.8"/><circle cx="227.5" cy="191.2" r="2.8"/><circle cx="227.8" cy="191.6" r="2.8"/><circle cx="228.2" cy="187.9" r="2.8"/><circle cx="228.5" cy="182.4" r="2.8"/><circle cx="228.8" cy="184.1" r="2.8"/><circle cx="229.2" cy="183.2" r="2.8"/><circle cx="229.5" cy="182" r="2.8"/><circle cx="229.8" cy="181.7" r="2.8"/><circle cx="230.2" cy="182.1" r="2.8"/><circle cx="230.5" cy="186.4" r="2.8"/><circle cx="230.9" cy="179.6" r="2.8"/><circle cx="231.2" cy="178.1" r="2.8"/><circle cx="231.5" cy="182" r="2.8"/><circle cx="231.9" cy="175" r="2.8"/><circle cx="232.2" cy="182.3" r="2.8"/><circle cx="232.5" cy="186.7" r="2.8"/><circle cx="232.9" cy="184" r="2.8"/><circle cx="233.2" cy="177.1" r="2.8"/><circle cx="233.5" cy="179.8" r="2.8"/><circle cx="233.9" cy="177.4" r="2.8"/><circle cx="234.2" cy="188.6" r="2.8"/><circle cx="234.6" cy="190.6" r="2.8"/><circle cx="234.9" cy="191.2" r="2.8"/><circle cx="235.2" cy="191.9" r="2.8"/><circle cx="235.6" cy="213" r="2.8"/><circle cx="235.9" cy="240.2" r="2.8"/><circle cx="236.2" cy="217.9" r="2.8"/><circle cx="236.6" cy="222" r="2.8"/><circle cx="236.9" cy="219.5" r="2.8"/><circle cx="237.3" cy="246" r="2.8"/><circle cx="237.6" cy="255.6" r="2.8"/><circle cx="237.9" cy="277" r="2.8"/><circle cx="238.3" cy="263.3" r="2.8"/><circle cx="238.6" cy="241.6" r="2.8"/><circle cx="238.9" cy="224.8" r="2.8"/><circle cx="239.3" cy="241.3" r="2.8"/><circle cx="239.6" cy="207.6" r="2.8"/><circle cx="239.9" cy="229.4" r="2.8"/><circle cx="240.3" cy="230" r="2.8"/><circle cx="240.6" cy="218.3" r="2.8"/><circle cx="241" cy="209.6" r="2.8"/><circle cx="241.3" cy="223.8" r="2.8"/><circle cx="241.6" cy="227.6" r="2.8"/><circle cx="242" cy="221.3" r="2.8"/><circle cx="242.3" cy="225.3" r="2.8"/><circle cx="242.6" cy="227.5" r="2.8"/><circle cx="243" cy="224.4" r="2.8"/><circle cx="243.3" cy="222.8" r="2.8"/><circle cx="243.7" cy="217.7" r="2.8"/><circle cx="244" cy="220.9" r="2.8"/><circle cx="244.3" cy="224.5" r="2.8"/><circle cx="244.7" cy="225.3" r="2.8"/><circle cx="245" cy="230" r="2.8"/><circle cx="245.3" cy="226" r="2.8"/><circle cx="245.7" cy="226.5" r="2.8"/><circle cx="246" cy="228.7" r="2.8"/><circle cx="246.3" cy="235.8" r="2.8"/><circle cx="246.7" cy="236.1" r="2.8"/><circle cx="247" cy="235.6" r="2.8"/><circle cx="247.4" cy="241.1" r="2.8"/><circle cx="247.7" cy="245.3" r="2.8"/><circle cx="248" cy="241.3" r="2.8"/><circle cx="248.4" cy="239.6" r="2.8"/><circle cx="248.7" cy="244.9" r="2.8"/><circle cx="249" cy="247.1" r="2.8"/><circle cx="249.4" cy="243.9" r="2.8"/><circle cx="249.7" cy="245.6" r="2.8"/><circle cx="250.1" cy="247.9" r="2.8"/><circle cx="250.4" cy="253.2" r="2.8"/><circle cx="250.7" cy="247.9" r="2.8"/><circle cx="251.1" cy="256.2" r="2.8"/><circle cx="251.4" cy="257.7" r="2.8"/><circle cx="251.7" cy="251.8" r="2.8"/><circle cx="252.1" cy="261.3" r="2.8"/><circle cx="252.4" cy="264.6" r="2.8"/><circle cx="252.7" cy="255" r="2.8"/><circle cx="253.1" cy="268.9" r="2.8"/><circle cx="253.4" cy="262.8" r="2.8"/><circle cx="253.8" cy="258.6" r="2.8"/><circle cx="254.1" cy="260.8" r="2.8"/><circle cx="254.4" cy="267" r="2.8"/><circle cx="254.8" cy="269.9" r="2.8"/><circle cx="255.1" cy="269.3" r="2.8"/><circle cx="255.4" cy="271.9" r="2.8"/><circle cx="255.8" cy="273.3" r="2.8"/><circle cx="256.1" cy="276.8" r="2.8"/><circle cx="256.5" cy="277" r="2.8"/><circle cx="256.8" cy="281.3" r="2.8"/><circle cx="257.1" cy="269.2" r="2.8"/><circle cx="257.5" cy="271.8" r="2.8"/><circle cx="257.8" cy="271" r="2.8"/><circle cx="258.1" cy="271.5" r="2.8"/><circle cx="258.5" cy="267" r="2.8"/><circle cx="258.8" cy="250.4" r="2.8"/><circle cx="259.1" cy="243.2" r="2.8"/><circle cx="259.5" cy="238.1" r="2.8"/><circle cx="259.8" cy="241.3" r="2.8"/><circle cx="260.2" cy="234" r="2.8"/><circle cx="260.5" cy="243.6" r="2.8"/><circle cx="260.8" cy="244" r="2.8"/><circle cx="261.2" cy="244.2" r="2.8"/><circle cx="261.5" cy="246.9" r="2.8"/><circle cx="261.8" cy="241.1" r="2.8"/><circle cx="262.2" cy="240.1" r="2.8"/><circle cx="262.5" cy="242.7" r="2.8"/><circle cx="262.9" cy="242.7" r="2.8"/><circle cx="263.2" cy="239" r="2.8"/><circle cx="263.5" cy="232.6" r="2.8"/><circle cx="263.9" cy="221.4" r="2.8"/><circle cx="264.2" cy="230.8" r="2.8"/><circle cx="264.5" cy="227.2" r="2.8"/><circle cx="264.9" cy="214.6" r="2.8"/><circle cx="265.2" cy="203.3" r="2.8"/><circle cx="265.5" cy="200.3" r="2.8"/><circle cx="265.9" cy="202.8" r="2.8"/><circle cx="266.2" cy="213.4" r="2.8"/><circle cx="266.6" cy="216.8" r="2.8"/><circle cx="266.9" cy="215.2" r="2.8"/><circle cx="267.2" cy="217.7" r="2.8"/><circle cx="267.6" cy="230.1" r="2.8"/><circle cx="267.9" cy="231.7" r="2.8"/><circle cx="268.2" cy="225.9" r="2.8"/><circle cx="268.6" cy="227.8" r="2.8"/><circle cx="268.9" cy="226.9" r="2.8"/><circle cx="269.3" cy="226.8" r="2.8"/><circle cx="269.6" cy="230.4" r="2.8"/><circle cx="269.9" cy="244.9" r="2.8"/><circle cx="270.3" cy="248" r="2.8"/><circle cx="270.6" cy="242.3" r="2.8"/><circle cx="270.9" cy="235.1" r="2.8"/><circle cx="271.3" cy="233.3" r="2.8"/><circle cx="271.6" cy="238.1" r="2.8"/><circle cx="271.9" cy="220.8" r="2.8"/><circle cx="272.3" cy="216.1" r="2.8"/><circle cx="272.6" cy="231.3" r="2.8"/><circle cx="273" cy="226.4" r="2.8"/><circle cx="273.3" cy="227.8" r="2.8"/><circle cx="273.6" cy="222" r="2.8"/><circle cx="274" cy="221" r="2.8"/><circle cx="274.3" cy="212.6" r="2.8"/><circle cx="274.6" cy="212.1" r="2.8"/><circle cx="275" cy="213" r="2.8"/><circle cx="275.3" cy="207.5" r="2.8"/><circle cx="275.7" cy="203.1" r="2.8"/><circle cx="276" cy="207.1" r="2.8"/><circle cx="276.3" cy="192.8" r="2.8"/><circle cx="276.7" cy="183.3" r="2.8"/><circle cx="277" cy="191.3" r="2.8"/><circle cx="277.3" cy="197.3" r="2.8"/><circle cx="277.7" cy="199.1" r="2.8"/><circle cx="278" cy="193.6" r="2.8"/><circle cx="278.3" cy="205" r="2.8"/><circle cx="278.7" cy="212.2" r="2.8"/><circle cx="279" cy="211.3" r="2.8"/><circle cx="279.4" cy="205.9" r="2.8"/><circle cx="279.7" cy="219.8" r="2.8"/><circle cx="280" cy="230.6" r="2.8"/><circle cx="280.4" cy="235.5" r="2.8"/><circle cx="280.7" cy="229.4" r="2.8"/><circle cx="281" cy="229.8" r="2.8"/><circle cx="281.4" cy="241.6" r="2.8"/><circle cx="281.7" cy="245.9" r="2.8"/><circle cx="282.1" cy="249.4" r="2.8"/><circle cx="282.4" cy="248.5" r="2.8"/><circle cx="282.7" cy="250.9" r="2.8"/><circle cx="283.1" cy="246.5" r="2.8"/><circle cx="283.4" cy="248.7" r="2.8"/><circle cx="283.7" cy="246.2" r="2.8"/><circle cx="284.1" cy="253.4" r="2.8"/><circle cx="284.4" cy="251.6" r="2.8"/><circle cx="284.7" cy="264.5" r="2.8"/><circle cx="285.1" cy="267.1" r="2.8"/><circle cx="285.4" cy="255.9" r="2.8"/><circle cx="285.8" cy="267.8" r="2.8"/><circle cx="286.1" cy="256" r="2.8"/><circle cx="286.4" cy="260.3" r="2.8"/><circle cx="286.8" cy="262.6" r="2.8"/><circle cx="287.1" cy="262.9" r="2.8"/><circle cx="287.4" cy="255.7" r="2.8"/><circle cx="287.8" cy="258" r="2.8"/><circle cx="288.1" cy="259.4" r="2.8"/><circle cx="288.5" cy="261" r="2.8"/><circle cx="288.8" cy="255" r="2.8"/><circle cx="289.1" cy="254.2" r="2.8"/><circle cx="289.5" cy="255.2" r="2.8"/><circle cx="289.8" cy="256.4" r="2.8"/><circle cx="290.1" cy="262.4" r="2.8"/><circle cx="290.5" cy="257.9" r="2.8"/><circle cx="290.8" cy="263.9" r="2.8"/><circle cx="291.1" cy="265.8" r="2.8"/><circle cx="291.5" cy="256.5" r="2.8"/><circle cx="291.8" cy="251.7" r="2.8"/><circle cx="292.2" cy="257.6" r="2.8"/><circle cx="292.5" cy="263.4" r="2.8"/><circle cx="292.8" cy="276.8" r="2.8"/><circle cx="293.2" cy="272.4" r="2.8"/><circle cx="293.5" cy="281.4" r="2.8"/><circle cx="293.8" cy="262" r="2.8"/><circle cx="294.2" cy="258.5" r="2.8"/><circle cx="294.5" cy="260.1" r="2.8"/><circle cx="294.9" cy="270.7" r="2.8"/><circle cx="295.2" cy="269.5" r="2.8"/><circle cx="295.5" cy="265.4" r="2.8"/><circle cx="295.9" cy="277.1" r="2.8"/><circle cx="296.2" cy="294.7" r="2.8"/><circle cx="296.5" cy="289.1" r="2.8"/><circle cx="296.9" cy="275.9" r="2.8"/><circle cx="297.2" cy="269.9" r="2.8"/><circle cx="297.5" cy="296" r="2.8"/><circle cx="297.9" cy="290.1" r="2.8"/><circle cx="298.2" cy="293.9" r="2.8"/><circle cx="298.6" cy="300.5" r="2.8"/><circle cx="298.9" cy="300" r="2.8"/><circle cx="299.2" cy="283.4" r="2.8"/><circle cx="299.6" cy="294.9" r="2.8"/><circle cx="299.9" cy="297.9" r="2.8"/><circle cx="300.2" cy="296.7" r="2.8"/><circle cx="300.6" cy="297.6" r="2.8"/><circle cx="300.9" cy="285.7" r="2.8"/><circle cx="301.3" cy="282.7" r="2.8"/><circle cx="301.6" cy="280.8" r="2.8"/><circle cx="301.9" cy="290.5" r="2.8"/><circle cx="302.3" cy="282.7" r="2.8"/><circle cx="302.6" cy="288.5" r="2.8"/><circle cx="302.9" cy="278.9" r="2.8"/><circle cx="303.3" cy="283.8" r="2.8"/><circle cx="303.6" cy="285.4" r="2.8"/><circle cx="303.9" cy="287.1" r="2.8"/><circle cx="304.3" cy="290.5" r="2.8"/><circle cx="304.6" cy="291.2" r="2.8"/><circle cx="305" cy="291.1" r="2.8"/><circle cx="305.3" cy="286.6" r="2.8"/><circle cx="305.6" cy="295.6" r="2.8"/><circle cx="306" cy="292.9" r="2.8"/><circle cx="306.3" cy="295.4" r="2.8"/><circle cx="306.6" cy="293" r="2.8"/><circle cx="307" cy="303.6" r="2.8"/><circle cx="307.3" cy="297" r="2.8"/><circle cx="307.7" cy="303.9" r="2.8"/><circle cx="308" cy="309.3" r="2.8"/><circle cx="308.3" cy="313.9" r="2.8"/><circle cx="308.7" cy="316.9" r="2.8"/><circle cx="309" cy="318.5" r="2.8"/><circle cx="309.3" cy="309.3" r="2.8"/><circle cx="309.7" cy="320.9" r="2.8"/><circle cx="310" cy="325.3" r="2.8"/><circle cx="310.3" cy="327.5" r="2.8"/><circle cx="310.7" cy="346" r="2.8"/><circle cx="311" cy="366.6" r="2.8"/><circle cx="311.4" cy="352.5" r="2.8"/><circle cx="311.7" cy="372.1" r="2.8"/><circle cx="312" cy="377.6" r="2.8"/><circle cx="312.4" cy="361" r="2.8"/><circle cx="312.7" cy="373.3" r="2.8"/><circle cx="313" cy="372.5" r="2.8"/><circle cx="313.4" cy="375.1" r="2.8"/><circle cx="313.7" cy="373" r="2.8"/><circle cx="314.1" cy="375.8" r="2.8"/><circle cx="314.4" cy="376.1" r="2.8"/><circle cx="314.7" cy="376.3" r="2.8"/><circle cx="315.1" cy="365" r="2.8"/><circle cx="315.4" cy="373.5" r="2.8"/><circle cx="315.7" cy="370.6" r="2.8"/><circle cx="316.1" cy="365.2" r="2.8"/><circle cx="316.4" cy="371.4" r="2.8"/><circle cx="316.7" cy="363" r="2.8"/><circle cx="317.1" cy="371.9" r="2.8"/><circle cx="317.4" cy="378.2" r="2.8"/><circle cx="317.8" cy="371.6" r="2.8"/><circle cx="318.1" cy="377" r="2.8"/><circle cx="318.4" cy="379.7" r="2.8"/><circle cx="318.8" cy="377.4" r="2.8"/><circle cx="319.1" cy="367.4" r="2.8"/><circle cx="319.4" cy="373.1" r="2.8"/><circle cx="319.8" cy="374.6" r="2.8"/><circle cx="320.1" cy="378" r="2.8"/><circle cx="320.5" cy="375.6" r="2.8"/><circle cx="320.8" cy="382.5" r="2.8"/><circle cx="321.1" cy="380.6" r="2.8"/><circle cx="321.5" cy="380.1" r="2.8"/><circle cx="321.8" cy="382.3" r="2.8"/><circle cx="322.1" cy="380" r="2.8"/><circle cx="322.5" cy="381.2" r="2.8"/><circle cx="322.8" cy="382.2" r="2.8"/><circle cx="323.1" cy="380.9" r="2.8"/><circle cx="323.5" cy="374.8" r="2.8"/><circle cx="323.8" cy="380.1" r="2.8"/><circle cx="324.2" cy="385.4" r="2.8"/><circle cx="324.5" cy="380.7" r="2.8"/><circle cx="324.8" cy="380.7" r="2.8"/><circle cx="325.2" cy="381.4" r="2.8"/><circle cx="325.5" cy="373.1" r="2.8"/><circle cx="325.8" cy="377.2" r="2.8"/><circle cx="326.2" cy="382.3" r="2.8"/><circle cx="326.5" cy="377.4" r="2.8"/><circle cx="326.9" cy="370.6" r="2.8"/><circle cx="327.2" cy="374.8" r="2.8"/><circle cx="327.5" cy="373" r="2.8"/><circle cx="327.9" cy="383.3" r="2.8"/><circle cx="328.2" cy="381.7" r="2.8"/><circle cx="328.5" cy="380.5" r="2.8"/><circle cx="328.9" cy="376.2" r="2.8"/><circle cx="329.2" cy="378.8" r="2.8"/><circle cx="329.5" cy="376.4" r="2.8"/><circle cx="329.9" cy="376.1" r="2.8"/><circle cx="330.2" cy="377.4" r="2.8"/><circle cx="330.6" cy="375.7" r="2.8"/><circle cx="330.9" cy="384" r="2.8"/><circle cx="331.2" cy="377.6" r="2.8"/><circle cx="331.6" cy="377.7" r="2.8"/><circle cx="331.9" cy="374" r="2.8"/><circle cx="332.2" cy="372.1" r="2.8"/><circle cx="332.6" cy="379.4" r="2.8"/><circle cx="332.9" cy="370.7" r="2.8"/><circle cx="333.3" cy="376.8" r="2.8"/><circle cx="333.6" cy="370.3" r="2.8"/><circle cx="333.9" cy="371.4" r="2.8"/><circle cx="334.3" cy="377.5" r="2.8"/><circle cx="334.6" cy="368.1" r="2.8"/><circle cx="334.9" cy="365.4" r="2.8"/><circle cx="335.3" cy="371.6" r="2.8"/><circle cx="335.6" cy="371.4" r="2.8"/><circle cx="335.9" cy="368.1" r="2.8"/><circle cx="336.3" cy="368" r="2.8"/><circle cx="336.6" cy="363.7" r="2.8"/><circle cx="337" cy="367.1" r="2.8"/><circle cx="337.3" cy="371.5" r="2.8"/><circle cx="337.6" cy="366.8" r="2.8"/><circle cx="338" cy="366.4" r="2.8"/><circle cx="338.3" cy="369.8" r="2.8"/><circle cx="338.6" cy="371.4" r="2.8"/><circle cx="339" cy="367.4" r="2.8"/><circle cx="339.3" cy="368.9" r="2.8"/><circle cx="339.7" cy="363.5" r="2.8"/><circle cx="340" cy="360.8" r="2.8"/><circle cx="340.3" cy="360.9" r="2.8"/><circle cx="340.7" cy="356.7" r="2.8"/><circle cx="341" cy="357.4" r="2.8"/><circle cx="341.3" cy="356.7" r="2.8"/><circle cx="341.7" cy="357.2" r="2.8"/><circle cx="342" cy="360.7" r="2.8"/><circle cx="342.3" cy="368.2" r="2.8"/><circle cx="342.7" cy="363.2" r="2.8"/><circle cx="343" cy="363.1" r="2.8"/><circle cx="343.4" cy="366.3" r="2.8"/><circle cx="343.7" cy="370.4" r="2.8"/><circle cx="344" cy="364.1" r="2.8"/><circle cx="344.4" cy="363.8" r="2.8"/><circle cx="344.7" cy="370.2" r="2.8"/><circle cx="345" cy="367" r="2.8"/><circle cx="345.4" cy="363.7" r="2.8"/><circle cx="345.7" cy="357.7" r="2.8"/><circle cx="346.1" cy="362.8" r="2.8"/><circle cx="346.4" cy="363.5" r="2.8"/><circle cx="346.7" cy="372.5" r="2.8"/><circle cx="347.1" cy="368" r="2.8"/><circle cx="347.4" cy="371.1" r="2.8"/><circle cx="347.7" cy="373" r="2.8"/><circle cx="348.1" cy="374" r="2.8"/><circle cx="348.4" cy="365.4" r="2.8"/><circle cx="348.7" cy="372.4" r="2.8"/><circle cx="349.1" cy="371.8" r="2.8"/><circle cx="349.4" cy="369.3" r="2.8"/><circle cx="349.8" cy="366.9" r="2.8"/><circle cx="350.1" cy="365.2" r="2.8"/><circle cx="350.4" cy="364.1" r="2.8"/><circle cx="350.8" cy="359.2" r="2.8"/><circle cx="351.1" cy="363.6" r="2.8"/><circle cx="351.4" cy="366.3" r="2.8"/><circle cx="351.8" cy="360.4" r="2.8"/><circle cx="352.1" cy="364" r="2.8"/><circle cx="352.5" cy="374.6" r="2.8"/><circle cx="352.8" cy="373.6" r="2.8"/><circle cx="353.1" cy="366.8" r="2.8"/><circle cx="353.5" cy="374" r="2.8"/><circle cx="353.8" cy="366.1" r="2.8"/><circle cx="354.1" cy="364.1" r="2.8"/><circle cx="354.5" cy="359.9" r="2.8"/><circle cx="354.8" cy="360.8" r="2.8"/><circle cx="355.1" cy="367" r="2.8"/><circle cx="355.5" cy="365.2" r="2.8"/><circle cx="355.8" cy="354.5" r="2.8"/><circle cx="356.2" cy="353.2" r="2.8"/><circle cx="356.5" cy="351.7" r="2.8"/><circle cx="356.8" cy="347.1" r="2.8"/><circle cx="357.2" cy="344.8" r="2.8"/><circle cx="358.2" cy="333.2" r="2.8"/><circle cx="358.5" cy="328" r="2.8"/><circle cx="359.5" cy="315.7" r="2.8"/><circle cx="360.2" cy="309" r="2.8"/><circle cx="360.5" cy="313" r="2.8"/><circle cx="360.9" cy="316.6" r="2.8"/><circle cx="361.9" cy="325.7" r="2.8"/><circle cx="362.6" cy="324.3" r="2.8"/><circle cx="363.2" cy="328.1" r="2.8"/><circle cx="363.9" cy="327.6" r="2.8"/><circle cx="364.2" cy="337.4" r="2.8"/><circle cx="364.6" cy="337.6" r="2.8"/><circle cx="365.3" cy="336.2" r="2.8"/><circle cx="365.6" cy="339.8" r="2.8"/><circle cx="365.9" cy="346.4" r="2.8"/><circle cx="366.3" cy="347.2" r="2.8"/><circle cx="366.6" cy="349.9" r="2.8"/><circle cx="366.9" cy="353.5" r="2.8"/><circle cx="367.3" cy="355.3" r="2.8"/><circle cx="367.6" cy="354.7" r="2.8"/><circle cx="367.9" cy="354.4" r="2.8"/><circle cx="368.3" cy="355.1" r="2.8"/><circle cx="368.6" cy="352.7" r="2.8"/><circle cx="369" cy="357.4" r="2.8"/><circle cx="369.3" cy="357.5" r="2.8"/><circle cx="369.6" cy="358.3" r="2.8"/><circle cx="370" cy="363.5" r="2.8"/><circle cx="370.3" cy="359.6" r="2.8"/><circle cx="370.6" cy="359.8" r="2.8"/><circle cx="371" cy="358.6" r="2.8"/><circle cx="371.3" cy="360.3" r="2.8"/><circle cx="371.7" cy="364.2" r="2.8"/><circle cx="372" cy="364.7" r="2.8"/><circle cx="372.3" cy="363.3" r="2.8"/><circle cx="372.7" cy="361.1" r="2.8"/><circle cx="373" cy="359.3" r="2.8"/><circle cx="373.3" cy="359.6" r="2.8"/><circle cx="373.7" cy="358.6" r="2.8"/><circle cx="374" cy="360.1" r="2.8"/><circle cx="374.3" cy="359.3" r="2.8"/><circle cx="380.1" cy="242.2" r="2.8"/><circle cx="380.4" cy="275.9" r="2.8"/><circle cx="380.7" cy="264.4" r="2.8"/><circle cx="381.1" cy="250.1" r="2.8"/><circle cx="381.4" cy="247.7" r="2.8"/><circle cx="381.8" cy="246.7" r="2.8"/><circle cx="382.1" cy="235.6" r="2.8"/><circle cx="382.4" cy="243.3" r="2.8"/><circle cx="382.8" cy="241.9" r="2.8"/><circle cx="383.1" cy="247.1" r="2.8"/><circle cx="383.4" cy="248" r="2.8"/><circle cx="383.8" cy="244.7" r="2.8"/><circle cx="384.1" cy="242.7" r="2.8"/><circle cx="384.5" cy="241.4" r="2.8"/><circle cx="384.8" cy="248.3" r="2.8"/><circle cx="385.1" cy="245.1" r="2.8"/><circle cx="385.5" cy="247.8" r="2.8"/><circle cx="385.8" cy="259" r="2.8"/><circle cx="386.1" cy="255.6" r="2.8"/><circle cx="386.5" cy="260.9" r="2.8"/><circle cx="386.8" cy="258.5" r="2.8"/><circle cx="387.1" cy="263.3" r="2.8"/><circle cx="387.5" cy="264.1" r="2.8"/><circle cx="387.8" cy="263.2" r="2.8"/><circle cx="388.2" cy="278.2" r="2.8"/><circle cx="388.5" cy="276.8" r="2.8"/><circle cx="388.8" cy="264.4" r="2.8"/><circle cx="389.2" cy="267.4" r="2.8"/><circle cx="389.5" cy="274.8" r="2.8"/><circle cx="389.8" cy="266.9" r="2.8"/><circle cx="390.2" cy="277" r="2.8"/><circle cx="390.5" cy="282.4" r="2.8"/><circle cx="390.9" cy="286.9" r="2.8"/><circle cx="391.2" cy="275.8" r="2.8"/><circle cx="391.5" cy="280.7" r="2.8"/><circle cx="391.9" cy="264.8" r="2.8"/><circle cx="392.2" cy="265.3" r="2.8"/><circle cx="392.5" cy="269.7" r="2.8"/><circle cx="392.9" cy="275.4" r="2.8"/><circle cx="393.2" cy="273.5" r="2.8"/><circle cx="393.5" cy="271.1" r="2.8"/><circle cx="393.9" cy="268.8" r="2.8"/><circle cx="394.2" cy="268.1" r="2.8"/><circle cx="394.6" cy="274.5" r="2.8"/><circle cx="394.9" cy="280.4" r="2.8"/><circle cx="395.2" cy="281.5" r="2.8"/><circle cx="395.6" cy="283" r="2.8"/><circle cx="395.9" cy="284" r="2.8"/><circle cx="396.2" cy="268.3" r="2.8"/><circle cx="396.6" cy="268.6" r="2.8"/><circle cx="396.9" cy="271" r="2.8"/><circle cx="397.3" cy="267.9" r="2.8"/><circle cx="397.6" cy="278.6" r="2.8"/><circle cx="397.9" cy="281.3" r="2.8"/><circle cx="398.3" cy="278.1" r="2.8"/><circle cx="398.6" cy="274" r="2.8"/><circle cx="398.9" cy="280.2" r="2.8"/><circle cx="399.3" cy="271.3" r="2.8"/><circle cx="399.6" cy="264" r="2.8"/><circle cx="399.9" cy="267.5" r="2.8"/><circle cx="400.3" cy="261" r="2.8"/><circle cx="400.6" cy="259.7" r="2.8"/><circle cx="401" cy="260.9" r="2.8"/><circle cx="401.3" cy="262.9" r="2.8"/><circle cx="401.6" cy="260.5" r="2.8"/><circle cx="402" cy="258.1" r="2.8"/><circle cx="402.3" cy="261.9" r="2.8"/><circle cx="402.6" cy="258.5" r="2.8"/><circle cx="403" cy="263" r="2.8"/><circle cx="403.3" cy="272.1" r="2.8"/><circle cx="403.7" cy="269.8" r="2.8"/><circle cx="404" cy="270.5" r="2.8"/><circle cx="404.3" cy="276.9" r="2.8"/><circle cx="404.7" cy="276.3" r="2.8"/><circle cx="405" cy="280" r="2.8"/><circle cx="405.3" cy="282.7" r="2.8"/><circle cx="405.7" cy="283.1" r="2.8"/><circle cx="406" cy="284" r="2.8"/><circle cx="406.3" cy="283.8" r="2.8"/><circle cx="406.7" cy="280.6" r="2.8"/><circle cx="407" cy="281.4" r="2.8"/><circle cx="407.4" cy="280.5" r="2.8"/><circle cx="407.7" cy="285.3" r="2.8"/><circle cx="408" cy="272.6" r="2.8"/><circle cx="408.4" cy="276.6" r="2.8"/><circle cx="408.7" cy="285.5" r="2.8"/><circle cx="409" cy="280.3" r="2.8"/><circle cx="409.4" cy="284.2" r="2.8"/><circle cx="409.7" cy="283.4" r="2.8"/><circle cx="410.1" cy="289.2" r="2.8"/><circle cx="410.4" cy="292.8" r="2.8"/><circle cx="410.7" cy="297.1" r="2.8"/><circle cx="411.1" cy="297.4" r="2.8"/><circle cx="411.4" cy="288" r="2.8"/><circle cx="411.7" cy="289.6" r="2.8"/><circle cx="412.1" cy="293.3" r="2.8"/><circle cx="412.4" cy="306" r="2.8"/><circle cx="412.7" cy="301.3" r="2.8"/><circle cx="413.1" cy="315.1" r="2.8"/><circle cx="413.4" cy="315.6" r="2.8"/><circle cx="413.8" cy="323.1" r="2.8"/><circle cx="414.1" cy="328.4" r="2.8"/><circle cx="414.4" cy="333.7" r="2.8"/><circle cx="414.8" cy="339.7" r="2.8"/><circle cx="415.1" cy="342.3" r="2.8"/><circle cx="415.4" cy="338.9" r="2.8"/><circle cx="415.8" cy="346.5" r="2.8"/><circle cx="416.1" cy="354.6" r="2.8"/><circle cx="416.5" cy="355.1" r="2.8"/><circle cx="416.8" cy="355.8" r="2.8"/><circle cx="417.1" cy="352.9" r="2.8"/><circle cx="417.5" cy="365.8" r="2.8"/><circle cx="417.8" cy="364.6" r="2.8"/><circle cx="418.1" cy="365.5" r="2.8"/><circle cx="418.5" cy="374.2" r="2.8"/><circle cx="418.8" cy="372.9" r="2.8"/><circle cx="419.1" cy="379" r="2.8"/><circle cx="419.5" cy="391.6" r="2.8"/><circle cx="419.8" cy="396.5" r="2.8"/><circle cx="420.2" cy="401.7" r="2.8"/><circle cx="420.5" cy="406.3" r="2.8"/><circle cx="420.8" cy="400.7" r="2.8"/><circle cx="421.2" cy="399.6" r="2.8"/><circle cx="421.5" cy="399.8" r="2.8"/><circle cx="421.8" cy="399.9" r="2.8"/><circle cx="422.2" cy="389.6" r="2.8"/><circle cx="422.5" cy="375" r="2.8"/><circle cx="422.9" cy="384.5" r="2.8"/><circle cx="423.2" cy="382.7" r="2.8"/><circle cx="423.5" cy="377.4" r="2.8"/><circle cx="423.9" cy="384.9" r="2.8"/><circle cx="424.2" cy="381.3" r="2.8"/><circle cx="424.5" cy="375.9" r="2.8"/><circle cx="424.9" cy="379.5" r="2.8"/><circle cx="425.2" cy="383.3" r="2.8"/><circle cx="425.5" cy="390.1" r="2.8"/><circle cx="425.9" cy="393" r="2.8"/><circle cx="426.2" cy="392.4" r="2.8"/><circle cx="426.6" cy="386.6" r="2.8"/><circle cx="426.9" cy="382.8" r="2.8"/><circle cx="427.2" cy="380.5" r="2.8"/><circle cx="427.6" cy="382.2" r="2.8"/><circle cx="427.9" cy="386.6" r="2.8"/><circle cx="428.2" cy="388.8" r="2.8"/><circle cx="428.6" cy="391.3" r="2.8"/><circle cx="428.9" cy="388" r="2.8"/><circle cx="429.3" cy="379.6" r="2.8"/><circle cx="429.6" cy="384" r="2.8"/><circle cx="429.9" cy="383.1" r="2.8"/><circle cx="430.3" cy="372.6" r="2.8"/><circle cx="430.6" cy="366.7" r="2.8"/><circle cx="430.9" cy="366.1" r="2.8"/><circle cx="431.3" cy="368.1" r="2.8"/><circle cx="431.6" cy="361.6" r="2.8"/><circle cx="431.9" cy="360.5" r="2.8"/><circle cx="432.3" cy="359.4" r="2.8"/><circle cx="432.6" cy="356.9" r="2.8"/><circle cx="433" cy="356.1" r="2.8"/><circle cx="433.3" cy="350" r="2.8"/><circle cx="433.6" cy="345.3" r="2.8"/><circle cx="434" cy="333.3" r="2.8"/><circle cx="434.3" cy="318" r="2.8"/><circle cx="434.6" cy="334.5" r="2.8"/><circle cx="435" cy="316.6" r="2.8"/><circle cx="435.3" cy="310.8" r="2.8"/><circle cx="435.7" cy="302.4" r="2.8"/><circle cx="436" cy="297.6" r="2.8"/><circle cx="436.3" cy="283.5" r="2.8"/><circle cx="436.7" cy="284.3" r="2.8"/><circle cx="437" cy="283.7" r="2.8"/><circle cx="437.3" cy="292.2" r="2.8"/><circle cx="437.7" cy="277.1" r="2.8"/><circle cx="438" cy="274.7" r="2.8"/><circle cx="438.3" cy="275" r="2.8"/><circle cx="438.7" cy="291.6" r="2.8"/><circle cx="439" cy="272" r="2.8"/><circle cx="439.4" cy="276.8" r="2.8"/><circle cx="439.7" cy="271.2" r="2.8"/><circle cx="440" cy="277.2" r="2.8"/><circle cx="440.4" cy="282.3" r="2.8"/><circle cx="440.7" cy="280.6" r="2.8"/><circle cx="441" cy="281.3" r="2.8"/><circle cx="441.4" cy="280.2" r="2.8"/><circle cx="441.7" cy="271.4" r="2.8"/><circle cx="442.1" cy="270.5" r="2.8"/><circle cx="442.4" cy="260.7" r="2.8"/><circle cx="442.7" cy="263.2" r="2.8"/><circle cx="443.1" cy="262.5" r="2.8"/><circle cx="443.4" cy="266" r="2.8"/><circle cx="458.4" cy="128.2" r="2.8"/><circle cx="460.4" cy="142.3" r="2.8"/><circle cx="461.7" cy="143.6" r="2.8"/><circle cx="466.8" cy="132" r="2.8"/><circle cx="470.8" cy="129.3" r="2.8"/><circle cx="471.5" cy="140.6" r="2.8"/><circle cx="471.8" cy="127.9" r="2.8"/><circle cx="472.5" cy="136.5" r="2.8"/><circle cx="475.5" cy="133.3" r="2.8"/><circle cx="482.6" cy="147.1" r="2.8"/><circle cx="483" cy="148" r="2.8"/><circle cx="483.3" cy="161.9" r="2.8"/><circle cx="483.6" cy="155.8" r="2.8"/><circle cx="484" cy="161.3" r="2.8"/><circle cx="484.3" cy="175.6" r="2.8"/><circle cx="484.6" cy="169.7" r="2.8"/><circle cx="485" cy="183.5" r="2.8"/><circle cx="485.3" cy="183.7" r="2.8"/><circle cx="485.7" cy="176.4" r="2.8"/><circle cx="486" cy="188.7" r="2.8"/><circle cx="486.3" cy="178.9" r="2.8"/><circle cx="486.7" cy="172.5" r="2.8"/><circle cx="487" cy="173.9" r="2.8"/><circle cx="487.3" cy="174" r="2.8"/><circle cx="487.7" cy="176.8" r="2.8"/><circle cx="488" cy="181.6" r="2.8"/><circle cx="488.3" cy="174.9" r="2.8"/><circle cx="488.7" cy="179.6" r="2.8"/><circle cx="489" cy="191.9" r="2.8"/><circle cx="489.4" cy="183" r="2.8"/><circle cx="489.7" cy="181.8" r="2.8"/><circle cx="490" cy="186" r="2.8"/><circle cx="490.4" cy="189.2" r="2.8"/><circle cx="490.7" cy="182.5" r="2.8"/><circle cx="491" cy="177.7" r="2.8"/><circle cx="491.4" cy="176.9" r="2.8"/><circle cx="491.7" cy="184.9" r="2.8"/><circle cx="492.1" cy="187.4" r="2.8"/><circle cx="492.4" cy="175.6" r="2.8"/><circle cx="492.7" cy="174.6" r="2.8"/><circle cx="493.1" cy="174.9" r="2.8"/><circle cx="493.4" cy="174.4" r="2.8"/><circle cx="493.7" cy="179.9" r="2.8"/><circle cx="494.1" cy="180.4" r="2.8"/><circle cx="494.4" cy="187.2" r="2.8"/><circle cx="494.7" cy="185.6" r="2.8"/><circle cx="495.1" cy="181.7" r="2.8"/><circle cx="495.4" cy="181.7" r="2.8"/><circle cx="495.8" cy="172.9" r="2.8"/><circle cx="496.1" cy="166.8" r="2.8"/><circle cx="496.4" cy="168.5" r="2.8"/><circle cx="496.8" cy="175.7" r="2.8"/><circle cx="497.1" cy="168.8" r="2.8"/><circle cx="497.4" cy="177.3" r="2.8"/><circle cx="497.8" cy="183" r="2.8"/><circle cx="498.1" cy="178.3" r="2.8"/><circle cx="498.5" cy="181" r="2.8"/><circle cx="498.8" cy="180.4" r="2.8"/><circle cx="499.1" cy="185.4" r="2.8"/><circle cx="499.5" cy="187.8" r="2.8"/><circle cx="499.8" cy="192.8" r="2.8"/><circle cx="500.1" cy="217" r="2.8"/><circle cx="500.5" cy="222.5" r="2.8"/><circle cx="500.8" cy="224.3" r="2.8"/><circle cx="501.1" cy="211.7" r="2.8"/><circle cx="501.5" cy="210.6" r="2.8"/><circle cx="501.8" cy="215" r="2.8"/><circle cx="502.2" cy="215.1" r="2.8"/><circle cx="502.5" cy="214.4" r="2.8"/><circle cx="502.8" cy="214.1" r="2.8"/><circle cx="503.2" cy="212.2" r="2.8"/><circle cx="503.5" cy="214.9" r="2.8"/><circle cx="503.8" cy="214.3" r="2.8"/><circle cx="504.2" cy="215" r="2.8"/><circle cx="504.5" cy="223.8" r="2.8"/><circle cx="504.9" cy="215.5" r="2.8"/><circle cx="505.2" cy="229.2" r="2.8"/><circle cx="505.5" cy="215.2" r="2.8"/><circle cx="505.9" cy="234.6" r="2.8"/><circle cx="506.2" cy="221.2" r="2.8"/><circle cx="506.5" cy="225.1" r="2.8"/><circle cx="506.9" cy="233.6" r="2.8"/><circle cx="507.2" cy="230.3" r="2.8"/><circle cx="507.5" cy="233.2" r="2.8"/><circle cx="507.9" cy="229.4" r="2.8"/><circle cx="508.2" cy="222.6" r="2.8"/><circle cx="508.6" cy="224.7" r="2.8"/><circle cx="508.9" cy="234.2" r="2.8"/><circle cx="509.2" cy="228.3" r="2.8"/><circle cx="509.6" cy="222.6" r="2.8"/><circle cx="509.9" cy="223" r="2.8"/><circle cx="510.2" cy="229.9" r="2.8"/><circle cx="510.6" cy="232.1" r="2.8"/><circle cx="510.9" cy="237.6" r="2.8"/><circle cx="511.3" cy="236.5" r="2.8"/><circle cx="511.6" cy="237.3" r="2.8"/><circle cx="511.9" cy="226.1" r="2.8"/><circle cx="512.3" cy="239.3" r="2.8"/><circle cx="512.6" cy="236.3" r="2.8"/><circle cx="512.9" cy="238.4" r="2.8"/><circle cx="513.3" cy="234.9" r="2.8"/><circle cx="513.6" cy="234.7" r="2.8"/><circle cx="513.9" cy="234.5" r="2.8"/><circle cx="514.3" cy="242" r="2.8"/><circle cx="514.6" cy="243.3" r="2.8"/><circle cx="515" cy="241.4" r="2.8"/><circle cx="515.3" cy="242.9" r="2.8"/><circle cx="515.6" cy="243.4" r="2.8"/><circle cx="516" cy="241.5" r="2.8"/><circle cx="516.3" cy="237.1" r="2.8"/><circle cx="516.6" cy="243.2" r="2.8"/><circle cx="517" cy="245" r="2.8"/><circle cx="517.3" cy="243.8" r="2.8"/><circle cx="517.7" cy="247.4" r="2.8"/><circle cx="518" cy="232.9" r="2.8"/><circle cx="518.3" cy="245.7" r="2.8"/><circle cx="518.7" cy="245.4" r="2.8"/><circle cx="519" cy="241.6" r="2.8"/><circle cx="519.3" cy="232.1" r="2.8"/><circle cx="519.7" cy="234.2" r="2.8"/><circle cx="520" cy="231.6" r="2.8"/><circle cx="520.3" cy="235.5" r="2.8"/><circle cx="520.7" cy="238.3" r="2.8"/><circle cx="521" cy="250.3" r="2.8"/><circle cx="521.4" cy="246.2" r="2.8"/><circle cx="521.7" cy="251.3" r="2.8"/><circle cx="522" cy="254.2" r="2.8"/><circle cx="522.4" cy="254.7" r="2.8"/><circle cx="522.7" cy="253.4" r="2.8"/><circle cx="523" cy="255.7" r="2.8"/><circle cx="523.4" cy="247.1" r="2.8"/><circle cx="523.7" cy="247.1" r="2.8"/><circle cx="524.1" cy="249.9" r="2.8"/><circle cx="524.4" cy="250.3" r="2.8"/><circle cx="524.7" cy="248.1" r="2.8"/><circle cx="525.1" cy="248.9" r="2.8"/><circle cx="525.4" cy="252.5" r="2.8"/><circle cx="525.7" cy="249.9" r="2.8"/><circle cx="526.1" cy="250.8" r="2.8"/><circle cx="526.4" cy="246.3" r="2.8"/><circle cx="526.7" cy="255" r="2.8"/><circle cx="527.1" cy="257.8" r="2.8"/><circle cx="527.4" cy="256" r="2.8"/><circle cx="527.8" cy="252.4" r="2.8"/><circle cx="528.1" cy="258.2" r="2.8"/><circle cx="528.4" cy="256" r="2.8"/><circle cx="528.8" cy="249.4" r="2.8"/><circle cx="529.1" cy="242.5" r="2.8"/><circle cx="529.4" cy="242.7" r="2.8"/><circle cx="529.8" cy="256.3" r="2.8"/><circle cx="530.1" cy="250.3" r="2.8"/><circle cx="530.5" cy="257.5" r="2.8"/><circle cx="530.8" cy="256.4" r="2.8"/><circle cx="531.1" cy="246.9" r="2.8"/><circle cx="531.5" cy="255.7" r="2.8"/><circle cx="531.8" cy="251.4" r="2.8"/><circle cx="532.1" cy="252" r="2.8"/><circle cx="532.5" cy="243.4" r="2.8"/><circle cx="532.8" cy="240.9" r="2.8"/><circle cx="533.1" cy="240.7" r="2.8"/><circle cx="533.5" cy="245.5" r="2.8"/><circle cx="533.8" cy="242" r="2.8"/><circle cx="534.2" cy="240.3" r="2.8"/><circle cx="534.5" cy="245.4" r="2.8"/><circle cx="534.8" cy="246.1" r="2.8"/><circle cx="535.2" cy="246" r="2.8"/><circle cx="535.5" cy="243.8" r="2.8"/><circle cx="535.8" cy="241.2" r="2.8"/><circle cx="536.2" cy="250.6" r="2.8"/><circle cx="536.5" cy="244" r="2.8"/><circle cx="536.9" cy="250.8" r="2.8"/><circle cx="537.2" cy="253.4" r="2.8"/><circle cx="537.5" cy="255.9" r="2.8"/><circle cx="537.9" cy="253.9" r="2.8"/><circle cx="538.2" cy="251.9" r="2.8"/><circle cx="538.5" cy="251.4" r="2.8"/><circle cx="538.9" cy="254.6" r="2.8"/><circle cx="539.2" cy="254.4" r="2.8"/><circle cx="539.5" cy="249.3" r="2.8"/><circle cx="539.9" cy="251.5" r="2.8"/><circle cx="540.2" cy="253" r="2.8"/><circle cx="540.6" cy="253.9" r="2.8"/><circle cx="540.9" cy="253.4" r="2.8"/><circle cx="541.2" cy="255.2" r="2.8"/><circle cx="541.6" cy="251.2" r="2.8"/><circle cx="541.9" cy="254.2" r="2.8"/><circle cx="542.2" cy="254.5" r="2.8"/><circle cx="542.6" cy="255.5" r="2.8"/><circle cx="542.9" cy="253.2" r="2.8"/><circle cx="543.3" cy="256.4" r="2.8"/><circle cx="543.6" cy="261.6" r="2.8"/><circle cx="543.9" cy="266" r="2.8"/><circle cx="544.3" cy="266.5" r="2.8"/><circle cx="544.6" cy="265.4" r="2.8"/><circle cx="544.9" cy="265.5" r="2.8"/><circle cx="545.3" cy="274.5" r="2.8"/><circle cx="545.6" cy="273.1" r="2.8"/><circle cx="545.9" cy="266.8" r="2.8"/><circle cx="546.3" cy="270.1" r="2.8"/><circle cx="546.6" cy="260.2" r="2.8"/><circle cx="547" cy="261.7" r="2.8"/><circle cx="547.3" cy="259.7" r="2.8"/><circle cx="547.6" cy="256.8" r="2.8"/><circle cx="548" cy="251.2" r="2.8"/><circle cx="548.3" cy="258.8" r="2.8"/><circle cx="548.6" cy="263.1" r="2.8"/><circle cx="549" cy="252.7" r="2.8"/><circle cx="549.3" cy="254.9" r="2.8"/><circle cx="549.7" cy="257.4" r="2.8"/><circle cx="550" cy="261.5" r="2.8"/><circle cx="550.3" cy="260.7" r="2.8"/><circle cx="550.7" cy="249.7" r="2.8"/><circle cx="551" cy="251.4" r="2.8"/><circle cx="551.3" cy="262" r="2.8"/><circle cx="551.7" cy="259" r="2.8"/><circle cx="552" cy="256.7" r="2.8"/><circle cx="552.3" cy="261.5" r="2.8"/><circle cx="552.7" cy="244.3" r="2.8"/><circle cx="553" cy="242.8" r="2.8"/><circle cx="553.4" cy="250" r="2.8"/><circle cx="553.7" cy="252.5" r="2.8"/><circle cx="554" cy="245.9" r="2.8"/><circle cx="554.4" cy="252.7" r="2.8"/><circle cx="554.7" cy="252.1" r="2.8"/><circle cx="555" cy="253.5" r="2.8"/><circle cx="555.4" cy="247.4" r="2.8"/><circle cx="555.7" cy="246.2" r="2.8"/><circle cx="556.1" cy="244.7" r="2.8"/><circle cx="556.4" cy="248.4" r="2.8"/><circle cx="556.7" cy="248.3" r="2.8"/><circle cx="557.1" cy="259" r="2.8"/><circle cx="557.4" cy="258.9" r="2.8"/><circle cx="557.7" cy="248.4" r="2.8"/><circle cx="558.1" cy="253.5" r="2.8"/><circle cx="558.4" cy="260.8" r="2.8"/><circle cx="558.7" cy="258.8" r="2.8"/><circle cx="559.1" cy="260.4" r="2.8"/><circle cx="559.4" cy="259.5" r="2.8"/><circle cx="559.8" cy="261.5" r="2.8"/><circle cx="560.1" cy="253.9" r="2.8"/><circle cx="560.4" cy="256" r="2.8"/><circle cx="560.8" cy="253.1" r="2.8"/><circle cx="561.1" cy="260.2" r="2.8"/><circle cx="561.4" cy="253.4" r="2.8"/><circle cx="561.8" cy="252" r="2.8"/><circle cx="562.1" cy="256.2" r="2.8"/><circle cx="562.5" cy="257.1" r="2.8"/><circle cx="562.8" cy="258.6" r="2.8"/><circle cx="563.1" cy="260.8" r="2.8"/><circle cx="563.5" cy="262" r="2.8"/><circle cx="563.8" cy="254.7" r="2.8"/><circle cx="564.1" cy="260.3" r="2.8"/><circle cx="564.5" cy="261.7" r="2.8"/><circle cx="564.8" cy="264.2" r="2.8"/><circle cx="565.1" cy="266.6" r="2.8"/><circle cx="565.5" cy="262.8" r="2.8"/><circle cx="565.8" cy="262.5" r="2.8"/><circle cx="566.2" cy="266.4" r="2.8"/><circle cx="566.5" cy="266" r="2.8"/><circle cx="566.8" cy="261.5" r="2.8"/><circle cx="567.2" cy="265.5" r="2.8"/><circle cx="567.5" cy="281.2" r="2.8"/><circle cx="567.8" cy="279" r="2.8"/><circle cx="568.2" cy="288.8" r="2.8"/><circle cx="568.5" cy="279.8" r="2.8"/><circle cx="568.9" cy="292.1" r="2.8"/><circle cx="569.2" cy="282.3" r="2.8"/><circle cx="569.5" cy="273.6" r="2.8"/><circle cx="569.9" cy="283.6" r="2.8"/><circle cx="570.2" cy="286.3" r="2.8"/><circle cx="570.5" cy="297.7" r="2.8"/><circle cx="570.9" cy="277.5" r="2.8"/><circle cx="571.2" cy="285.5" r="2.8"/><circle cx="571.5" cy="293" r="2.8"/><circle cx="571.9" cy="292" r="2.8"/><circle cx="572.2" cy="285.8" r="2.8"/><circle cx="572.6" cy="279.9" r="2.8"/><circle cx="572.9" cy="278.8" r="2.8"/><circle cx="573.2" cy="282.7" r="2.8"/><circle cx="573.6" cy="284" r="2.8"/><circle cx="573.9" cy="286.6" r="2.8"/><circle cx="574.2" cy="288.7" r="2.8"/><circle cx="574.6" cy="277.9" r="2.8"/><circle cx="574.9" cy="274.5" r="2.8"/><circle cx="575.3" cy="273.5" r="2.8"/><circle cx="575.6" cy="272.6" r="2.8"/><circle cx="575.9" cy="274.9" r="2.8"/><circle cx="576.3" cy="282.4" r="2.8"/><circle cx="576.6" cy="293.8" r="2.8"/><circle cx="576.9" cy="292.4" r="2.8"/><circle cx="577.3" cy="289.1" r="2.8"/><circle cx="577.6" cy="293.6" r="2.8"/><circle cx="577.9" cy="283.3" r="2.8"/><circle cx="578.3" cy="287.1" r="2.8"/><circle cx="578.6" cy="291.1" r="2.8"/><circle cx="579" cy="292.8" r="2.8"/><circle cx="579.3" cy="290.8" r="2.8"/><circle cx="579.6" cy="284.6" r="2.8"/><circle cx="580" cy="277.1" r="2.8"/><circle cx="580.3" cy="280.6" r="2.8"/><circle cx="580.6" cy="283.2" r="2.8"/><circle cx="581" cy="289.2" r="2.8"/><circle cx="581.3" cy="287.6" r="2.8"/><circle cx="581.7" cy="293.5" r="2.8"/><circle cx="582" cy="281.2" r="2.8"/><circle cx="582.3" cy="293.6" r="2.8"/><circle cx="582.7" cy="286" r="2.8"/><circle cx="583" cy="284" r="2.8"/><circle cx="583.3" cy="283.3" r="2.8"/><circle cx="583.7" cy="285.7" r="2.8"/><circle cx="584" cy="299.1" r="2.8"/><circle cx="584.3" cy="303.1" r="2.8"/><circle cx="584.7" cy="293" r="2.8"/><circle cx="585" cy="297.4" r="2.8"/><circle cx="585.4" cy="299.1" r="2.8"/><circle cx="585.7" cy="293" r="2.8"/><circle cx="586" cy="295.2" r="2.8"/><circle cx="586.4" cy="295.9" r="2.8"/><circle cx="586.7" cy="297.5" r="2.8"/><circle cx="587" cy="298.2" r="2.8"/><circle cx="587.4" cy="297.1" r="2.8"/><circle cx="587.7" cy="302" r="2.8"/><circle cx="588.1" cy="304.3" r="2.8"/><circle cx="588.4" cy="305.8" r="2.8"/><circle cx="588.7" cy="318" r="2.8"/><circle cx="589.1" cy="315.2" r="2.8"/><circle cx="589.4" cy="318.1" r="2.8"/><circle cx="589.7" cy="325.3" r="2.8"/><circle cx="590.1" cy="328" r="2.8"/><circle cx="590.4" cy="329.2" r="2.8"/><circle cx="590.7" cy="320.1" r="2.8"/><circle cx="591.1" cy="314.3" r="2.8"/><circle cx="591.4" cy="312.4" r="2.8"/><circle cx="591.8" cy="313.6" r="2.8"/><circle cx="592.1" cy="316.8" r="2.8"/><circle cx="592.4" cy="318.6" r="2.8"/><circle cx="592.8" cy="328.6" r="2.8"/><circle cx="593.1" cy="324.4" r="2.8"/><circle cx="593.4" cy="332.7" r="2.8"/><circle cx="593.8" cy="333.1" r="2.8"/><circle cx="594.1" cy="325" r="2.8"/><circle cx="594.5" cy="329.1" r="2.8"/><circle cx="594.8" cy="306.6" r="2.8"/><circle cx="595.1" cy="322.2" r="2.8"/><circle cx="595.5" cy="323.2" r="2.8"/><circle cx="595.8" cy="323.6" r="2.8"/><circle cx="596.1" cy="303.6" r="2.8"/><circle cx="596.5" cy="327.8" r="2.8"/><circle cx="596.8" cy="319.6" r="2.8"/><circle cx="597.1" cy="316.4" r="2.8"/><circle cx="597.5" cy="323.7" r="2.8"/><circle cx="597.8" cy="317.6" r="2.8"/><circle cx="598.2" cy="307.2" r="2.8"/><circle cx="598.5" cy="315.8" r="2.8"/><circle cx="598.8" cy="301.9" r="2.8"/><circle cx="599.2" cy="315.7" r="2.8"/><circle cx="599.5" cy="314.9" r="2.8"/><circle cx="599.8" cy="322.1" r="2.8"/><circle cx="600.2" cy="303.9" r="2.8"/><circle cx="600.5" cy="321.2" r="2.8"/><circle cx="600.9" cy="320.5" r="2.8"/><circle cx="601.2" cy="327.5" r="2.8"/><circle cx="601.5" cy="318.1" r="2.8"/><circle cx="601.9" cy="326.4" r="2.8"/><circle cx="602.2" cy="329.5" r="2.8"/><circle cx="602.5" cy="326.1" r="2.8"/><circle cx="602.9" cy="317.3" r="2.8"/><circle cx="603.2" cy="322.2" r="2.8"/><circle cx="603.5" cy="324.9" r="2.8"/><circle cx="603.9" cy="316.6" r="2.8"/><circle cx="604.2" cy="312" r="2.8"/><circle cx="604.6" cy="312.7" r="2.8"/><circle cx="604.9" cy="326.5" r="2.8"/><circle cx="605.2" cy="325.1" r="2.8"/><circle cx="605.6" cy="327.8" r="2.8"/><circle cx="605.9" cy="326.6" r="2.8"/><circle cx="606.2" cy="325.5" r="2.8"/><circle cx="606.6" cy="326.8" r="2.8"/><circle cx="606.9" cy="323.4" r="2.8"/><circle cx="607.3" cy="331.4" r="2.8"/><circle cx="607.6" cy="330.3" r="2.8"/><circle cx="607.9" cy="330.6" r="2.8"/><circle cx="608.3" cy="323.9" r="2.8"/><circle cx="608.6" cy="329" r="2.8"/><circle cx="608.9" cy="329.9" r="2.8"/><circle cx="609.3" cy="328.3" r="2.8"/><circle cx="609.6" cy="336.4" r="2.8"/><circle cx="609.9" cy="330.5" r="2.8"/><circle cx="610.3" cy="330.8" r="2.8"/><circle cx="610.6" cy="335" r="2.8"/><circle cx="611" cy="338.4" r="2.8"/><circle cx="611.3" cy="332.6" r="2.8"/><circle cx="611.6" cy="333" r="2.8"/><circle cx="612" cy="329" r="2.8"/><circle cx="612.3" cy="324" r="2.8"/><circle cx="612.6" cy="321.1" r="2.8"/><circle cx="613" cy="319.5" r="2.8"/><circle cx="613.3" cy="320.9" r="2.8"/><circle cx="613.7" cy="322.8" r="2.8"/><circle cx="614" cy="319" r="2.8"/><circle cx="614.3" cy="316.9" r="2.8"/><circle cx="614.7" cy="316.6" r="2.8"/><circle cx="615" cy="317.5" r="2.8"/><circle cx="615.3" cy="317.9" r="2.8"/><circle cx="615.7" cy="325" r="2.8"/><circle cx="616" cy="320.3" r="2.8"/><circle cx="616.3" cy="319.6" r="2.8"/><circle cx="616.7" cy="314.7" r="2.8"/><circle cx="617" cy="313.3" r="2.8"/><circle cx="617.4" cy="311.3" r="2.8"/><circle cx="617.7" cy="310.7" r="2.8"/><circle cx="618" cy="309.6" r="2.8"/><circle cx="618.4" cy="312.2" r="2.8"/><circle cx="618.7" cy="311.9" r="2.8"/><circle cx="619" cy="307.1" r="2.8"/><circle cx="619.4" cy="315.3" r="2.8"/><circle cx="619.7" cy="304.8" r="2.8"/><circle cx="620.1" cy="307.2" r="2.8"/><circle cx="620.4" cy="310.3" r="2.8"/><circle cx="620.7" cy="303.3" r="2.8"/><circle cx="621.1" cy="308.2" r="2.8"/><circle cx="621.4" cy="308.3" r="2.8"/><circle cx="621.7" cy="306" r="2.8"/><circle cx="622.1" cy="294.6" r="2.8"/><circle cx="622.4" cy="305.5" r="2.8"/><circle cx="622.7" cy="304.2" r="2.8"/><circle cx="623.1" cy="303" r="2.8"/><circle cx="623.4" cy="308" r="2.8"/><circle cx="623.8" cy="301.4" r="2.8"/><circle cx="624.1" cy="306.8" r="2.8"/><circle cx="624.4" cy="301.1" r="2.8"/><circle cx="624.8" cy="305" r="2.8"/><circle cx="625.1" cy="298" r="2.8"/><circle cx="625.4" cy="297.9" r="2.8"/><circle cx="625.8" cy="296.7" r="2.8"/><circle cx="626.1" cy="295.7" r="2.8"/><circle cx="626.5" cy="298.7" r="2.8"/><circle cx="626.8" cy="299.2" r="2.8"/><circle cx="627.1" cy="304.3" r="2.8"/><circle cx="627.5" cy="306.9" r="2.8"/><circle cx="627.8" cy="303.3" r="2.8"/><circle cx="628.1" cy="295.1" r="2.8"/><circle cx="628.5" cy="296.7" r="2.8"/><circle cx="628.8" cy="299.6" r="2.8"/><circle cx="629.1" cy="304.7" r="2.8"/><circle cx="629.5" cy="307.8" r="2.8"/><circle cx="629.8" cy="307.1" r="2.8"/><circle cx="630.2" cy="304.8" r="2.8"/><circle cx="630.5" cy="305.2" r="2.8"/><circle cx="630.8" cy="297.6" r="2.8"/><circle cx="631.2" cy="305.2" r="2.8"/><circle cx="631.5" cy="305.7" r="2.8"/><circle cx="631.8" cy="305" r="2.8"/><circle cx="632.2" cy="302.3" r="2.8"/><circle cx="632.5" cy="301.5" r="2.8"/><circle cx="632.9" cy="299.6" r="2.8"/><circle cx="633.2" cy="300.4" r="2.8"/><circle cx="633.5" cy="298.7" r="2.8"/><circle cx="633.9" cy="302.4" r="2.8"/><circle cx="634.2" cy="303.4" r="2.8"/><circle cx="634.5" cy="303.3" r="2.8"/><circle cx="634.9" cy="301.9" r="2.8"/><circle cx="635.2" cy="297.3" r="2.8"/><circle cx="635.5" cy="296.8" r="2.8"/><circle cx="635.9" cy="293.8" r="2.8"/><circle cx="636.2" cy="292.2" r="2.8"/><circle cx="636.6" cy="287.8" r="2.8"/><circle cx="636.9" cy="287.3" r="2.8"/><circle cx="637.2" cy="288.3" r="2.8"/><circle cx="637.6" cy="291.9" r="2.8"/><circle cx="637.9" cy="288.5" r="2.8"/><circle cx="638.2" cy="287.3" r="2.8"/><circle cx="638.6" cy="289" r="2.8"/><circle cx="638.9" cy="292.6" r="2.8"/><circle cx="639.3" cy="293.5" r="2.8"/><circle cx="639.6" cy="297.1" r="2.8"/><circle cx="639.9" cy="299.4" r="2.8"/><circle cx="640.3" cy="300.4" r="2.8"/><circle cx="640.6" cy="297.3" r="2.8"/><circle cx="640.9" cy="296.2" r="2.8"/><circle cx="641.3" cy="293.4" r="2.8"/><circle cx="641.6" cy="293.8" r="2.8"/><circle cx="641.9" cy="295.1" r="2.8"/><circle cx="642.3" cy="296.3" r="2.8"/><circle cx="642.6" cy="304.2" r="2.8"/><circle cx="643" cy="307.1" r="2.8"/><circle cx="643.3" cy="304" r="2.8"/><circle cx="643.6" cy="306.5" r="2.8"/><circle cx="644" cy="300.4" r="2.8"/><circle cx="644.3" cy="298.2" r="2.8"/><circle cx="644.6" cy="300.7" r="2.8"/><circle cx="645" cy="303" r="2.8"/><circle cx="645.3" cy="302.2" r="2.8"/><circle cx="645.7" cy="301.5" r="2.8"/><circle cx="646" cy="311.6" r="2.8"/><circle cx="646.3" cy="310.1" r="2.8"/><circle cx="646.7" cy="308.4" r="2.8"/><circle cx="647" cy="309.7" r="2.8"/><circle cx="647.3" cy="307.7" r="2.8"/><circle cx="647.7" cy="305.3" r="2.8"/><circle cx="648" cy="303.2" r="2.8"/><circle cx="648.3" cy="300.5" r="2.8"/><circle cx="648.7" cy="305.8" r="2.8"/><circle cx="649" cy="303.1" r="2.8"/><circle cx="649.4" cy="303.8" r="2.8"/><circle cx="649.7" cy="300" r="2.8"/><circle cx="650" cy="299.6" r="2.8"/><circle cx="650.4" cy="308.2" r="2.8"/><circle cx="650.7" cy="309.1" r="2.8"/><circle cx="651" cy="309.9" r="2.8"/><circle cx="651.4" cy="310.4" r="2.8"/><circle cx="651.7" cy="310.9" r="2.8"/><circle cx="652.1" cy="311.3" r="2.8"/><circle cx="652.4" cy="304.7" r="2.8"/><circle cx="652.7" cy="305.5" r="2.8"/><circle cx="653.1" cy="302.7" r="2.8"/><circle cx="653.4" cy="306.1" r="2.8"/><circle cx="653.7" cy="303.3" r="2.8"/><circle cx="654.1" cy="311.4" r="2.8"/><circle cx="654.4" cy="311.8" r="2.8"/><circle cx="654.7" cy="308.5" r="2.8"/><circle cx="655.1" cy="300.6" r="2.8"/><circle cx="655.4" cy="305.7" r="2.8"/><circle cx="655.8" cy="307.5" r="2.8"/><circle cx="656.1" cy="306.5" r="2.8"/><circle cx="656.4" cy="300.6" r="2.8"/><circle cx="656.8" cy="304.2" r="2.8"/><circle cx="657.1" cy="309.3" r="2.8"/><circle cx="657.4" cy="298.3" r="2.8"/><circle cx="657.8" cy="304" r="2.8"/><circle cx="658.1" cy="298.9" r="2.8"/><circle cx="658.5" cy="302.3" r="2.8"/><circle cx="658.8" cy="310.1" r="2.8"/><circle cx="659.1" cy="308.3" r="2.8"/><circle cx="659.5" cy="309.4" r="2.8"/><circle cx="659.8" cy="308" r="2.8"/><circle cx="660.1" cy="309.9" r="2.8"/><circle cx="660.5" cy="313.6" r="2.8"/><circle cx="660.8" cy="314.1" r="2.8"/><circle cx="661.1" cy="312.5" r="2.8"/><circle cx="661.5" cy="310" r="2.8"/><circle cx="661.8" cy="310.1" r="2.8"/><circle cx="662.2" cy="313.2" r="2.8"/><circle cx="662.5" cy="316.4" r="2.8"/><circle cx="662.8" cy="317.9" r="2.8"/><circle cx="663.2" cy="314.6" r="2.8"/><circle cx="663.5" cy="310.2" r="2.8"/><circle cx="663.8" cy="320.6" r="2.8"/><circle cx="664.2" cy="315.8" r="2.8"/><circle cx="664.5" cy="312.8" r="2.8"/><circle cx="664.9" cy="313.1" r="2.8"/><circle cx="665.2" cy="313.9" r="2.8"/><circle cx="665.5" cy="315" r="2.8"/><circle cx="665.9" cy="313.7" r="2.8"/><circle cx="666.2" cy="319.2" r="2.8"/><circle cx="666.5" cy="319.8" r="2.8"/><circle cx="666.9" cy="322.3" r="2.8"/><circle cx="667.2" cy="320.4" r="2.8"/><circle cx="667.5" cy="321.4" r="2.8"/><circle cx="667.9" cy="321.2" r="2.8"/><circle cx="668.2" cy="323" r="2.8"/><circle cx="668.6" cy="322.8" r="2.8"/><circle cx="668.9" cy="323.1" r="2.8"/><circle cx="669.2" cy="319.7" r="2.8"/><circle cx="669.6" cy="317.1" r="2.8"/><circle cx="669.9" cy="316.6" r="2.8"/><circle cx="670.2" cy="316.3" r="2.8"/><circle cx="670.6" cy="316.3" r="2.8"/><circle cx="670.9" cy="315.5" r="2.8"/><circle cx="671.3" cy="318.9" r="2.8"/><circle cx="671.6" cy="318.9" r="2.8"/><circle cx="671.9" cy="314.4" r="2.8"/><circle cx="672.3" cy="314.5" r="2.8"/><circle cx="672.6" cy="314" r="2.8"/><circle cx="672.9" cy="316.2" r="2.8"/><circle cx="673.3" cy="318.7" r="2.8"/><circle cx="673.6" cy="317.2" r="2.8"/><circle cx="673.9" cy="319.7" r="2.8"/><circle cx="674.3" cy="318.9" r="2.8"/><circle cx="674.6" cy="320.4" r="2.8"/><circle cx="675" cy="321" r="2.8"/><circle cx="675.3" cy="320.8" r="2.8"/><circle cx="675.6" cy="321.5" r="2.8"/><circle cx="676" cy="316.6" r="2.8"/><circle cx="676.3" cy="319.9" r="2.8"/><circle cx="676.6" cy="318" r="2.8"/><circle cx="677" cy="320.4" r="2.8"/><circle cx="677.3" cy="321" r="2.8"/><circle cx="677.7" cy="321" r="2.8"/><circle cx="678" cy="322.5" r="2.8"/><circle cx="678.3" cy="321.6" r="2.8"/><circle cx="678.7" cy="320.7" r="2.8"/><circle cx="679" cy="322.2" r="2.8"/><circle cx="679.3" cy="325" r="2.8"/><circle cx="679.7" cy="324.7" r="2.8"/><circle cx="680" cy="327.6" r="2.8"/><circle cx="680.3" cy="324" r="2.8"/><circle cx="680.7" cy="322.2" r="2.8"/><circle cx="681" cy="324.5" r="2.8"/><circle cx="681.4" cy="327.2" r="2.8"/><circle cx="681.7" cy="324" r="2.8"/><circle cx="682" cy="326.3" r="2.8"/><circle cx="682.4" cy="328.1" r="2.8"/><circle cx="682.7" cy="328" r="2.8"/><circle cx="683" cy="326.5" r="2.8"/><circle cx="683.4" cy="326.1" r="2.8"/><circle cx="683.7" cy="324" r="2.8"/><circle cx="684.1" cy="324.3" r="2.8"/><circle cx="684.4" cy="326.2" r="2.8"/><circle cx="684.7" cy="328.5" r="2.8"/><circle cx="685.1" cy="324.8" r="2.8"/><circle cx="685.4" cy="324.8" r="2.8"/><circle cx="685.7" cy="328.6" r="2.8"/><circle cx="686.1" cy="327.4" r="2.8"/><circle cx="686.4" cy="324.5" r="2.8"/><circle cx="686.7" cy="323.4" r="2.8"/><circle cx="687.1" cy="328.5" r="2.8"/><circle cx="687.4" cy="328.4" r="2.8"/><circle cx="687.8" cy="325.5" r="2.8"/><circle cx="688.1" cy="325.2" r="2.8"/><circle cx="688.4" cy="329.5" r="2.8"/><circle cx="688.8" cy="327.8" r="2.8"/><circle cx="689.1" cy="326" r="2.8"/><circle cx="689.4" cy="325.7" r="2.8"/><circle cx="689.8" cy="326.6" r="2.8"/><circle cx="690.1" cy="326" r="2.8"/><circle cx="690.5" cy="327.6" r="2.8"/><circle cx="690.8" cy="327" r="2.8"/><circle cx="691.1" cy="326.1" r="2.8"/><circle cx="691.5" cy="327.6" r="2.8"/><circle cx="691.8" cy="322.8" r="2.8"/><circle cx="692.1" cy="327" r="2.8"/><circle cx="692.5" cy="325.1" r="2.8"/><circle cx="692.8" cy="325.4" r="2.8"/><circle cx="693.1" cy="325.2" r="2.8"/><circle cx="693.5" cy="323.7" r="2.8"/><circle cx="693.8" cy="325.3" r="2.8"/><circle cx="694.2" cy="326.7" r="2.8"/><circle cx="694.5" cy="326.8" r="2.8"/><circle cx="694.8" cy="327.1" r="2.8"/><circle cx="695.2" cy="326.5" r="2.8"/><circle cx="695.5" cy="326.5" r="2.8"/><circle cx="695.8" cy="324.9" r="2.8"/><circle cx="696.2" cy="326" r="2.8"/><circle cx="696.5" cy="325.2" r="2.8"/><circle cx="696.9" cy="324.6" r="2.8"/><circle cx="697.2" cy="322.4" r="2.8"/><circle cx="697.5" cy="323.6" r="2.8"/><circle cx="697.9" cy="322.1" r="2.8"/><circle cx="698.2" cy="322.8" r="2.8"/><circle cx="698.5" cy="320.6" r="2.8"/><circle cx="698.9" cy="318.6" r="2.8"/><circle cx="699.2" cy="316.3" r="2.8"/><circle cx="699.5" cy="316.7" r="2.8"/><circle cx="699.9" cy="317.2" r="2.8"/><circle cx="700.2" cy="314" r="2.8"/><circle cx="700.6" cy="313.9" r="2.8"/><circle cx="700.9" cy="309.7" r="2.8"/><circle cx="701.2" cy="314.3" r="2.8"/><circle cx="701.6" cy="317.7" r="2.8"/><circle cx="701.9" cy="314.8" r="2.8"/><circle cx="702.2" cy="314.1" r="2.8"/><circle cx="702.6" cy="316.7" r="2.8"/><circle cx="702.9" cy="315.1" r="2.8"/><circle cx="703.3" cy="320.7" r="2.8"/><circle cx="703.6" cy="318.3" r="2.8"/><circle cx="703.9" cy="319.9" r="2.8"/><circle cx="704.3" cy="315.2" r="2.8"/><circle cx="704.6" cy="317" r="2.8"/><circle cx="704.9" cy="317" r="2.8"/><circle cx="705.3" cy="318.1" r="2.8"/><circle cx="705.6" cy="313.6" r="2.8"/><circle cx="705.9" cy="310.7" r="2.8"/><circle cx="706.3" cy="311.9" r="2.8"/><circle cx="706.6" cy="313.2" r="2.8"/><circle cx="707" cy="314.9" r="2.8"/><circle cx="707.3" cy="317.7" r="2.8"/><circle cx="707.6" cy="316.3" r="2.8"/><circle cx="708" cy="315.1" r="2.8"/><circle cx="708.3" cy="314" r="2.8"/><circle cx="708.6" cy="313.9" r="2.8"/><circle cx="709" cy="312.7" r="2.8"/><circle cx="709.3" cy="313.5" r="2.8"/><circle cx="709.7" cy="313" r="2.8"/><circle cx="710" cy="312.3" r="2.8"/><circle cx="710.3" cy="311.7" r="2.8"/><circle cx="710.7" cy="305.9" r="2.8"/><circle cx="711" cy="307.4" r="2.8"/><circle cx="711.3" cy="306.7" r="2.8"/><circle cx="711.7" cy="301.3" r="2.8"/><circle cx="712" cy="301.6" r="2.8"/><circle cx="712.3" cy="302.6" r="2.8"/><circle cx="712.7" cy="302.6" r="2.8"/><circle cx="713" cy="305.5" r="2.8"/><circle cx="713.4" cy="304" r="2.8"/><circle cx="713.7" cy="306.9" r="2.8"/><circle cx="714" cy="309.2" r="2.8"/><circle cx="714.4" cy="310.9" r="2.8"/><circle cx="714.7" cy="309.2" r="2.8"/><circle cx="715" cy="309.4" r="2.8"/><circle cx="715.4" cy="309.3" r="2.8"/><circle cx="715.7" cy="312.8" r="2.8"/><circle cx="716.1" cy="314.4" r="2.8"/><circle cx="716.4" cy="317.2" r="2.8"/><circle cx="716.7" cy="313.6" r="2.8"/><circle cx="717.1" cy="317.4" r="2.8"/><circle cx="717.4" cy="314.1" r="2.8"/><circle cx="717.7" cy="313.8" r="2.8"/><circle cx="718.1" cy="311.1" r="2.8"/><circle cx="718.4" cy="315.5" r="2.8"/><circle cx="718.7" cy="315.3" r="2.8"/><circle cx="719.1" cy="317.6" r="2.8"/><circle cx="719.4" cy="320" r="2.8"/><circle cx="719.8" cy="319.1" r="2.8"/><circle cx="720.1" cy="320.1" r="2.8"/><circle cx="720.4" cy="320.1" r="2.8"/><circle cx="720.8" cy="318.9" r="2.8"/><circle cx="721.1" cy="316.1" r="2.8"/><circle cx="721.4" cy="316.8" r="2.8"/><circle cx="721.8" cy="319.5" r="2.8"/><circle cx="722.1" cy="319.9" r="2.8"/><circle cx="722.5" cy="321.4" r="2.8"/><circle cx="722.8" cy="317.6" r="2.8"/><circle cx="723.1" cy="318.1" r="2.8"/><circle cx="723.5" cy="320.1" r="2.8"/><circle cx="723.8" cy="315.1" r="2.8"/><circle cx="724.1" cy="317.5" r="2.8"/><circle cx="724.5" cy="316.3" r="2.8"/><circle cx="724.8" cy="316.9" r="2.8"/><circle cx="725.1" cy="319.8" r="2.8"/><circle cx="725.5" cy="318.9" r="2.8"/><circle cx="725.8" cy="316.2" r="2.8"/><circle cx="726.2" cy="317.9" r="2.8"/><circle cx="726.5" cy="318.1" r="2.8"/><circle cx="726.8" cy="317" r="2.8"/><circle cx="727.2" cy="316.6" r="2.8"/><circle cx="727.5" cy="317.2" r="2.8"/><circle cx="727.8" cy="316.5" r="2.8"/><circle cx="728.2" cy="315.9" r="2.8"/><circle cx="728.5" cy="320.5" r="2.8"/><circle cx="728.9" cy="317.2" r="2.8"/><circle cx="729.2" cy="318.1" r="2.8"/><circle cx="729.5" cy="318.3" r="2.8"/><circle cx="729.9" cy="317.6" r="2.8"/><circle cx="730.2" cy="321" r="2.8"/><circle cx="730.5" cy="323.2" r="2.8"/><circle cx="730.9" cy="324" r="2.8"/><circle cx="731.2" cy="324.9" r="2.8"/><circle cx="731.5" cy="320.1" r="2.8"/><circle cx="731.9" cy="322.5" r="2.8"/><circle cx="732.2" cy="316.3" r="2.8"/><circle cx="732.6" cy="321.8" r="2.8"/><circle cx="732.9" cy="322.6" r="2.8"/><circle cx="733.2" cy="323.5" r="2.8"/><circle cx="733.6" cy="326.4" r="2.8"/><circle cx="733.9" cy="324.9" r="2.8"/><circle cx="734.2" cy="331.5" r="2.8"/><circle cx="734.6" cy="331.7" r="2.8"/><circle cx="734.9" cy="333.5" r="2.8"/><circle cx="735.3" cy="333.1" r="2.8"/><circle cx="735.6" cy="333.5" r="2.8"/><circle cx="735.9" cy="331" r="2.8"/><circle cx="736.3" cy="336.6" r="2.8"/><circle cx="736.6" cy="334.1" r="2.8"/><circle cx="736.9" cy="336.7" r="2.8"/><circle cx="737.3" cy="337.1" r="2.8"/><circle cx="737.6" cy="337.2" r="2.8"/><circle cx="737.9" cy="337.4" r="2.8"/><circle cx="738.3" cy="335.8" r="2.8"/><circle cx="738.6" cy="340" r="2.8"/><circle cx="739" cy="339.7" r="2.8"/><circle cx="739.3" cy="337.5" r="2.8"/><circle cx="739.6" cy="340.7" r="2.8"/><circle cx="740" cy="333.1" r="2.8"/><circle cx="740.3" cy="329.8" r="2.8"/><circle cx="740.6" cy="331.7" r="2.8"/><circle cx="741" cy="329.7" r="2.8"/><circle cx="741.3" cy="337.7" r="2.8"/><circle cx="741.7" cy="334.5" r="2.8"/><circle cx="742" cy="335" r="2.8"/><circle cx="742.3" cy="334.2" r="2.8"/><circle cx="742.7" cy="334.1" r="2.8"/><circle cx="743" cy="332.5" r="2.8"/><circle cx="743.3" cy="333" r="2.8"/><circle cx="743.7" cy="328.9" r="2.8"/><circle cx="744" cy="326" r="2.8"/><circle cx="744.3" cy="325.9" r="2.8"/><circle cx="744.7" cy="323" r="2.8"/><circle cx="745" cy="328" r="2.8"/><circle cx="745.4" cy="331" r="2.8"/><circle cx="745.7" cy="325.5" r="2.8"/><circle cx="746" cy="324.5" r="2.8"/><circle cx="746.4" cy="321.8" r="2.8"/><circle cx="746.7" cy="321.2" r="2.8"/><circle cx="747" cy="320.6" r="2.8"/><circle cx="747.4" cy="323.9" r="2.8"/><circle cx="747.7" cy="323" r="2.8"/><circle cx="748.1" cy="316.5" r="2.8"/><circle cx="748.4" cy="319.7" r="2.8"/><circle cx="748.7" cy="322" r="2.8"/><circle cx="749.1" cy="318.9" r="2.8"/><circle cx="749.4" cy="319" r="2.8"/><circle cx="749.7" cy="319.6" r="2.8"/><circle cx="750.1" cy="322.4" r="2.8"/><circle cx="750.4" cy="321.1" r="2.8"/><circle cx="750.7" cy="316" r="2.8"/><circle cx="751.1" cy="320.6" r="2.8"/><circle cx="751.4" cy="321.6" r="2.8"/><circle cx="751.8" cy="321" r="2.8"/><circle cx="752.1" cy="322.1" r="2.8"/><circle cx="752.4" cy="320.7" r="2.8"/><circle cx="752.8" cy="316.3" r="2.8"/><circle cx="753.1" cy="316" r="2.8"/><circle cx="753.4" cy="316" r="2.8"/><circle cx="753.8" cy="316.4" r="2.8"/><circle cx="754.1" cy="318.7" r="2.8"/><circle cx="754.5" cy="319.3" r="2.8"/><circle cx="754.8" cy="319.3" r="2.8"/><circle cx="755.1" cy="318.1" r="2.8"/><circle cx="755.5" cy="318.9" r="2.8"/><circle cx="755.8" cy="315.6" r="2.8"/><circle cx="756.1" cy="314.1" r="2.8"/><circle cx="756.5" cy="317.1" r="2.8"/><circle cx="756.8" cy="316.2" r="2.8"/><circle cx="757.1" cy="318.5" r="2.8"/><circle cx="757.5" cy="318.6" r="2.8"/><circle cx="757.8" cy="317.5" r="2.8"/><circle cx="758.2" cy="319.9" r="2.8"/><circle cx="758.5" cy="321.4" r="2.8"/><circle cx="758.8" cy="321.3" r="2.8"/><circle cx="759.2" cy="317.6" r="2.8"/><circle cx="759.5" cy="319.1" r="2.8"/><circle cx="759.8" cy="322.8" r="2.8"/><circle cx="760.2" cy="323.2" r="2.8"/><circle cx="760.5" cy="323.5" r="2.8"/><circle cx="760.9" cy="323.9" r="2.8"/><circle cx="761.2" cy="324.1" r="2.8"/><circle cx="761.5" cy="328.2" r="2.8"/><circle cx="761.9" cy="328.4" r="2.8"/><circle cx="762.2" cy="330.5" r="2.8"/><circle cx="762.5" cy="335.4" r="2.8"/><circle cx="762.9" cy="333.5" r="2.8"/><circle cx="763.2" cy="331.6" r="2.8"/><circle cx="763.5" cy="335.1" r="2.8"/><circle cx="763.9" cy="334.6" r="2.8"/><circle cx="764.2" cy="329.4" r="2.8"/><circle cx="764.6" cy="328.1" r="2.8"/><circle cx="764.9" cy="326.6" r="2.8"/><circle cx="765.2" cy="329.5" r="2.8"/><circle cx="765.6" cy="331.7" r="2.8"/><circle cx="765.9" cy="322.4" r="2.8"/><circle cx="766.2" cy="327.7" r="2.8"/><circle cx="766.6" cy="325.7" r="2.8"/><circle cx="766.9" cy="319.7" r="2.8"/><circle cx="767.3" cy="324.8" r="2.8"/><circle cx="767.6" cy="319.5" r="2.8"/><circle cx="767.9" cy="315.7" r="2.8"/><circle cx="768.3" cy="321.5" r="2.8"/><circle cx="768.6" cy="325" r="2.8"/><circle cx="768.9" cy="320.5" r="2.8"/><circle cx="769.3" cy="324.7" r="2.8"/><circle cx="769.6" cy="325.6" r="2.8"/><circle cx="769.9" cy="321.1" r="2.8"/><circle cx="770.3" cy="326.3" r="2.8"/><circle cx="770.6" cy="323.6" r="2.8"/><circle cx="771" cy="323.3" r="2.8"/><circle cx="771.3" cy="315.3" r="2.8"/><circle cx="771.6" cy="319" r="2.8"/><circle cx="772" cy="317.9" r="2.8"/><circle cx="772.3" cy="321" r="2.8"/><circle cx="772.6" cy="316" r="2.8"/><circle cx="773" cy="322.2" r="2.8"/><circle cx="773.3" cy="328.2" r="2.8"/><circle cx="773.7" cy="323.7" r="2.8"/><circle cx="774" cy="315.7" r="2.8"/><circle cx="774.3" cy="320.5" r="2.8"/><circle cx="774.7" cy="324" r="2.8"/><circle cx="775" cy="314.9" r="2.8"/><circle cx="775.3" cy="314.5" r="2.8"/><circle cx="775.7" cy="317.2" r="2.8"/><circle cx="776" cy="324.4" r="2.8"/><circle cx="776.3" cy="316.5" r="2.8"/><circle cx="776.7" cy="314.6" r="2.8"/><circle cx="777" cy="312" r="2.8"/><circle cx="777.4" cy="311.7" r="2.8"/><circle cx="777.7" cy="305.8" r="2.8"/><circle cx="778" cy="306.1" r="2.8"/><circle cx="778.4" cy="308.8" r="2.8"/><circle cx="778.7" cy="299.3" r="2.8"/><circle cx="779" cy="305.1" r="2.8"/><circle cx="779.4" cy="297.9" r="2.8"/><circle cx="779.7" cy="295.2" r="2.8"/><circle cx="780.1" cy="301.1" r="2.8"/><circle cx="780.4" cy="299.1" r="2.8"/><circle cx="780.7" cy="298.8" r="2.8"/><circle cx="781.1" cy="298.5" r="2.8"/><circle cx="781.4" cy="297.4" r="2.8"/><circle cx="781.7" cy="292.1" r="2.8"/><circle cx="782.1" cy="288.1" r="2.8"/><circle cx="782.4" cy="289.7" r="2.8"/><circle cx="782.7" cy="292.9" r="2.8"/><circle cx="783.1" cy="290" r="2.8"/><circle cx="783.4" cy="285.8" r="2.8"/><circle cx="783.8" cy="289.3" r="2.8"/><circle cx="784.1" cy="287.3" r="2.8"/><circle cx="784.4" cy="274.6" r="2.8"/><circle cx="784.8" cy="277.5" r="2.8"/><circle cx="785.1" cy="281.7" r="2.8"/><circle cx="785.4" cy="285.9" r="2.8"/><circle cx="785.8" cy="275.4" r="2.8"/><circle cx="786.1" cy="272.6" r="2.8"/><circle cx="786.5" cy="279.5" r="2.8"/><circle cx="786.8" cy="276.5" r="2.8"/><circle cx="787.1" cy="278.4" r="2.8"/><circle cx="787.5" cy="288.1" r="2.8"/><circle cx="787.8" cy="289.1" r="2.8"/><circle cx="788.1" cy="294.2" r="2.8"/><circle cx="788.5" cy="293" r="2.8"/><circle cx="788.8" cy="294.7" r="2.8"/><circle cx="789.1" cy="294.6" r="2.8"/><circle cx="789.5" cy="294.9" r="2.8"/><circle cx="789.8" cy="294.9" r="2.8"/><circle cx="790.2" cy="291.5" r="2.8"/><circle cx="790.5" cy="295.8" r="2.8"/><circle cx="790.8" cy="290.6" r="2.8"/><circle cx="791.2" cy="287.2" r="2.8"/><circle cx="791.5" cy="288.8" r="2.8"/><circle cx="791.8" cy="290.3" r="2.8"/><circle cx="792.2" cy="284.2" r="2.8"/><circle cx="792.5" cy="287.8" r="2.8"/><circle cx="792.9" cy="288.6" r="2.8"/><circle cx="793.2" cy="289.1" r="2.8"/><circle cx="793.5" cy="290.2" r="2.8"/><circle cx="793.9" cy="289.8" r="2.8"/><circle cx="794.2" cy="293" r="2.8"/><circle cx="794.5" cy="290.9" r="2.8"/><circle cx="794.9" cy="289" r="2.8"/><circle cx="795.2" cy="287.1" r="2.8"/><circle cx="795.5" cy="288.8" r="2.8"/><circle cx="795.9" cy="288" r="2.8"/><circle cx="796.2" cy="288" r="2.8"/><circle cx="796.6" cy="281.7" r="2.8"/><circle cx="796.9" cy="284.6" r="2.8"/><circle cx="797.2" cy="289.5" r="2.8"/><circle cx="797.6" cy="280.4" r="2.8"/><circle cx="797.9" cy="283" r="2.8"/><circle cx="798.2" cy="282.2" r="2.8"/><circle cx="798.6" cy="278.1" r="2.8"/><circle cx="798.9" cy="269.5" r="2.8"/><circle cx="799.3" cy="274.1" r="2.8"/><circle cx="799.6" cy="268.9" r="2.8"/><circle cx="799.9" cy="263.9" r="2.8"/><circle cx="800.3" cy="256.8" r="2.8"/><circle cx="800.6" cy="264.4" r="2.8"/><circle cx="800.9" cy="261.6" r="2.8"/><circle cx="801.3" cy="262.5" r="2.8"/><circle cx="801.6" cy="267" r="2.8"/><circle cx="801.9" cy="268.7" r="2.8"/><circle cx="802.3" cy="273.8" r="2.8"/><circle cx="802.6" cy="271.6" r="2.8"/><circle cx="803" cy="274.1" r="2.8"/><circle cx="803.3" cy="266.7" r="2.8"/><circle cx="803.6" cy="277.1" r="2.8"/><circle cx="804" cy="279.1" r="2.8"/><circle cx="804.3" cy="282.3" r="2.8"/><circle cx="804.6" cy="288.9" r="2.8"/><circle cx="805" cy="283.6" r="2.8"/><circle cx="805.3" cy="281.1" r="2.8"/><circle cx="805.7" cy="290.4" r="2.8"/><circle cx="806" cy="290.3" r="2.8"/><circle cx="806.3" cy="289.6" r="2.8"/><circle cx="806.7" cy="292.8" r="2.8"/><circle cx="807" cy="300.5" r="2.8"/><circle cx="807.3" cy="297" r="2.8"/><circle cx="807.7" cy="304.6" r="2.8"/><circle cx="808" cy="315" r="2.8"/><circle cx="808.3" cy="311.9" r="2.8"/><circle cx="808.7" cy="312.5" r="2.8"/><circle cx="809" cy="312" r="2.8"/><circle cx="809.4" cy="305.4" r="2.8"/><circle cx="809.7" cy="307.8" r="2.8"/><circle cx="810" cy="307.3" r="2.8"/><circle cx="810.4" cy="303.9" r="2.8"/><circle cx="810.7" cy="302.4" r="2.8"/><circle cx="811" cy="315.6" r="2.8"/><circle cx="811.4" cy="315.5" r="2.8"/><circle cx="811.7" cy="309.8" r="2.8"/><circle cx="812.1" cy="311.4" r="2.8"/><circle cx="812.4" cy="321.7" r="2.8"/><circle cx="812.7" cy="325.8" r="2.8"/><circle cx="813.1" cy="321.8" r="2.8"/><circle cx="813.4" cy="323.3" r="2.8"/><circle cx="813.7" cy="328.4" r="2.8"/><circle cx="814.1" cy="324.8" r="2.8"/><circle cx="814.4" cy="318.5" r="2.8"/><circle cx="814.7" cy="320" r="2.8"/><circle cx="815.1" cy="321.3" r="2.8"/><circle cx="815.4" cy="321.5" r="2.8"/><circle cx="815.8" cy="319.4" r="2.8"/><circle cx="816.1" cy="322.1" r="2.8"/><circle cx="816.4" cy="328.6" r="2.8"/><circle cx="816.8" cy="330" r="2.8"/><circle cx="817.1" cy="328" r="2.8"/><circle cx="817.4" cy="331.9" r="2.8"/><circle cx="817.8" cy="326.2" r="2.8"/><circle cx="818.1" cy="326.4" r="2.8"/><circle cx="818.5" cy="320.4" r="2.8"/><circle cx="818.8" cy="326.1" r="2.8"/><circle cx="819.1" cy="324.1" r="2.8"/><circle cx="819.5" cy="319.2" r="2.8"/><circle cx="819.8" cy="322.3" r="2.8"/><circle cx="820.1" cy="326.8" r="2.8"/><circle cx="820.5" cy="327.4" r="2.8"/><circle cx="820.8" cy="325.1" r="2.8"/><circle cx="821.1" cy="326.4" r="2.8"/><circle cx="821.5" cy="319.8" r="2.8"/><circle cx="821.8" cy="318.6" r="2.8"/><circle cx="822.2" cy="318.8" r="2.8"/><circle cx="822.5" cy="317.3" r="2.8"/><circle cx="822.8" cy="320.2" r="2.8"/><circle cx="823.2" cy="322.3" r="2.8"/><circle cx="823.5" cy="326" r="2.8"/><circle cx="823.8" cy="326.9" r="2.8"/><circle cx="824.2" cy="326.9" r="2.8"/><circle cx="824.5" cy="324.4" r="2.8"/><circle cx="824.9" cy="323.4" r="2.8"/><circle cx="825.2" cy="324.2" r="2.8"/><circle cx="825.5" cy="320.2" r="2.8"/><circle cx="825.9" cy="320.3" r="2.8"/><circle cx="826.2" cy="322.6" r="2.8"/><circle cx="826.5" cy="319" r="2.8"/><circle cx="826.9" cy="320.7" r="2.8"/><circle cx="827.2" cy="322.4" r="2.8"/><circle cx="827.5" cy="317.3" r="2.8"/><circle cx="827.9" cy="314.3" r="2.8"/><circle cx="828.2" cy="315.3" r="2.8"/><circle cx="828.6" cy="313.6" r="2.8"/><circle cx="828.9" cy="317.3" r="2.8"/><circle cx="829.2" cy="315.9" r="2.8"/><circle cx="829.6" cy="318.5" r="2.8"/><circle cx="829.9" cy="320.2" r="2.8"/><circle cx="830.2" cy="320.2" r="2.8"/><circle cx="830.6" cy="317.5" r="2.8"/><circle cx="830.9" cy="312" r="2.8"/><circle cx="831.3" cy="309.6" r="2.8"/><circle cx="831.6" cy="308.5" r="2.8"/><circle cx="831.9" cy="308.2" r="2.8"/><circle cx="832.3" cy="309.4" r="2.8"/><circle cx="832.6" cy="309.5" r="2.8"/><circle cx="832.9" cy="308.1" r="2.8"/><circle cx="833.3" cy="305.3" r="2.8"/><circle cx="833.6" cy="305.3" r="2.8"/><circle cx="833.9" cy="304.4" r="2.8"/><circle cx="834.3" cy="307.6" r="2.8"/><circle cx="834.6" cy="304.1" r="2.8"/><circle cx="835" cy="305.4" r="2.8"/><circle cx="835.3" cy="305.4" r="2.8"/><circle cx="835.6" cy="308.4" r="2.8"/><circle cx="836" cy="309.2" r="2.8"/><circle cx="836.3" cy="311.1" r="2.8"/><circle cx="836.6" cy="312.9" r="2.8"/><circle cx="837" cy="308.4" r="2.8"/><circle cx="837.3" cy="304.3" r="2.8"/><circle cx="837.7" cy="304.3" r="2.8"/><circle cx="838" cy="304.1" r="2.8"/><circle cx="838.3" cy="307.4" r="2.8"/><circle cx="838.7" cy="310.6" r="2.8"/><circle cx="839" cy="306.8" r="2.8"/><circle cx="839.3" cy="307.2" r="2.8"/><circle cx="839.7" cy="305.5" r="2.8"/><circle cx="840" cy="309.1" r="2.8"/><circle cx="840.3" cy="301.6" r="2.8"/><circle cx="840.7" cy="303.9" r="2.8"/><circle cx="841" cy="306" r="2.8"/><circle cx="841.4" cy="304.1" r="2.8"/><circle cx="841.7" cy="303.5" r="2.8"/><circle cx="842" cy="306.8" r="2.8"/><circle cx="842.4" cy="305.3" r="2.8"/><circle cx="842.7" cy="300.1" r="2.8"/><circle cx="843" cy="301.2" r="2.8"/><circle cx="843.4" cy="305.3" r="2.8"/><circle cx="843.7" cy="302.6" r="2.8"/><circle cx="844.1" cy="306" r="2.8"/><circle cx="844.4" cy="308" r="2.8"/><circle cx="844.7" cy="305.3" r="2.8"/><circle cx="845.1" cy="306.2" r="2.8"/><circle cx="845.4" cy="301.7" r="2.8"/><circle cx="845.7" cy="301.4" r="2.8"/><circle cx="846.1" cy="300.1" r="2.8"/><circle cx="846.4" cy="303.5" r="2.8"/><circle cx="846.7" cy="299.6" r="2.8"/><circle cx="847.1" cy="301.1" r="2.8"/><circle cx="847.4" cy="301.9" r="2.8"/><circle cx="847.8" cy="303.5" r="2.8"/><circle cx="848.1" cy="298.2" r="2.8"/><circle cx="848.4" cy="297.5" r="2.8"/><circle cx="848.8" cy="297.4" r="2.8"/><circle cx="849.1" cy="298.4" r="2.8"/><circle cx="849.4" cy="299.5" r="2.8"/><circle cx="849.8" cy="300.4" r="2.8"/><circle cx="850.1" cy="303.6" r="2.8"/><circle cx="850.5" cy="302.9" r="2.8"/><circle cx="850.8" cy="302" r="2.8"/><circle cx="851.1" cy="298.2" r="2.8"/><circle cx="851.5" cy="301" r="2.8"/><circle cx="851.8" cy="301.2" r="2.8"/><circle cx="852.1" cy="300.5" r="2.8"/><circle cx="852.5" cy="300.6" r="2.8"/><circle cx="852.8" cy="300.4" r="2.8"/><circle cx="853.1" cy="303.3" r="2.8"/><circle cx="853.5" cy="299.7" r="2.8"/><circle cx="853.8" cy="296.2" r="2.8"/><circle cx="854.2" cy="300.2" r="2.8"/><circle cx="854.5" cy="302.8" r="2.8"/><circle cx="854.8" cy="301" r="2.8"/><circle cx="855.2" cy="299.4" r="2.8"/><circle cx="855.5" cy="304.8" r="2.8"/><circle cx="855.8" cy="303.8" r="2.8"/><circle cx="856.2" cy="300.4" r="2.8"/><circle cx="856.5" cy="300.3" r="2.8"/><circle cx="856.9" cy="302.6" r="2.8"/><circle cx="857.2" cy="301.1" r="2.8"/><circle cx="857.5" cy="301.2" r="2.8"/><circle cx="857.9" cy="303.8" r="2.8"/><circle cx="858.2" cy="301.4" r="2.8"/><circle cx="858.5" cy="303.4" r="2.8"/><circle cx="858.9" cy="303.3" r="2.8"/><circle cx="859.2" cy="300.4" r="2.8"/><circle cx="859.5" cy="302" r="2.8"/><circle cx="859.9" cy="301.4" r="2.8"/><circle cx="860.2" cy="306.2" r="2.8"/><circle cx="860.6" cy="303.9" r="2.8"/><circle cx="860.9" cy="306" r="2.8"/><circle cx="861.2" cy="304.7" r="2.8"/><circle cx="861.6" cy="306.3" r="2.8"/><circle cx="861.9" cy="307.4" r="2.8"/><circle cx="862.2" cy="314" r="2.8"/><circle cx="862.6" cy="316.9" r="2.8"/><circle cx="862.9" cy="321.8" r="2.8"/><circle cx="863.3" cy="314" r="2.8"/><circle cx="863.6" cy="316" r="2.8"/><circle cx="863.9" cy="320.9" r="2.8"/><circle cx="864.3" cy="321.8" r="2.8"/><circle cx="864.6" cy="330.8" r="2.8"/><circle cx="864.9" cy="327.9" r="2.8"/><circle cx="865.3" cy="328.9" r="2.8"/><circle cx="865.6" cy="330.2" r="2.8"/><circle cx="865.9" cy="329.7" r="2.8"/><circle cx="866.3" cy="332.2" r="2.8"/><circle cx="866.6" cy="325.8" r="2.8"/><circle cx="867" cy="329.9" r="2.8"/><circle cx="867.3" cy="333" r="2.8"/><circle cx="867.6" cy="329.5" r="2.8"/><circle cx="868" cy="329.8" r="2.8"/><circle cx="868.3" cy="327.8" r="2.8"/><circle cx="868.6" cy="328.3" r="2.8"/><circle cx="869" cy="328.9" r="2.8"/><circle cx="869.3" cy="326.5" r="2.8"/><circle cx="869.7" cy="321.7" r="2.8"/><circle cx="870" cy="322.6" r="2.8"/><circle cx="870.3" cy="322.3" r="2.8"/><circle cx="870.7" cy="323.2" r="2.8"/><circle cx="871" cy="323.3" r="2.8"/><circle cx="871.3" cy="325.3" r="2.8"/><circle cx="871.7" cy="320.1" r="2.8"/><circle cx="872" cy="318.9" r="2.8"/><circle cx="872.3" cy="319.4" r="2.8"/><circle cx="872.7" cy="313.3" r="2.8"/><circle cx="873" cy="313.4" r="2.8"/><circle cx="873.4" cy="314.8" r="2.8"/><circle cx="873.7" cy="305.1" r="2.8"/><circle cx="874" cy="306.4" r="2.8"/><circle cx="874.4" cy="316.3" r="2.8"/><circle cx="874.7" cy="310.7" r="2.8"/><circle cx="875" cy="295.6" r="2.8"/><circle cx="875.4" cy="303.1" r="2.8"/><circle cx="875.7" cy="293.4" r="2.8"/><circle cx="876" cy="294.7" r="2.8"/><circle cx="876.4" cy="296" r="2.8"/><circle cx="876.7" cy="292.1" r="2.8"/><circle cx="877.1" cy="288.1" r="2.8"/><circle cx="877.4" cy="286.6" r="2.8"/><circle cx="877.7" cy="287.5" r="2.8"/><circle cx="878.1" cy="282.6" r="2.8"/><circle cx="878.4" cy="281.2" r="2.8"/><circle cx="878.7" cy="285.7" r="2.8"/><circle cx="879.1" cy="282.9" r="2.8"/><circle cx="879.4" cy="278.1" r="2.8"/><circle cx="879.8" cy="275.1" r="2.8"/><circle cx="880.1" cy="276.9" r="2.8"/><circle cx="880.4" cy="277.3" r="2.8"/><circle cx="880.8" cy="275.6" r="2.8"/><circle cx="881.1" cy="267.9" r="2.8"/><circle cx="881.4" cy="268" r="2.8"/><circle cx="881.8" cy="265.3" r="2.8"/><circle cx="882.1" cy="267.9" r="2.8"/><circle cx="882.4" cy="277.6" r="2.8"/><circle cx="882.8" cy="280.5" r="2.8"/><circle cx="883.1" cy="279.4" r="2.8"/><circle cx="883.5" cy="278" r="2.8"/><circle cx="883.8" cy="275.7" r="2.8"/><circle cx="884.1" cy="277.3" r="2.8"/><circle cx="884.5" cy="274.8" r="2.8"/><circle cx="884.8" cy="275.2" r="2.8"/><circle cx="885.1" cy="274.1" r="2.8"/><circle cx="885.5" cy="275.3" r="2.8"/><circle cx="885.8" cy="275.7" r="2.8"/><circle cx="886.2" cy="283.4" r="2.8"/><circle cx="886.5" cy="283.3" r="2.8"/><circle cx="886.8" cy="277.5" r="2.8"/><circle cx="887.2" cy="280.3" r="2.8"/><circle cx="887.5" cy="274.8" r="2.8"/><circle cx="887.8" cy="280.9" r="2.8"/><circle cx="888.2" cy="280.4" r="2.8"/><circle cx="888.5" cy="282.8" r="2.8"/><circle cx="888.8" cy="275.9" r="2.8"/><circle cx="889.2" cy="273.2" r="2.8"/><circle cx="889.5" cy="270.2" r="2.8"/><circle cx="889.9" cy="273.3" r="2.8"/><circle cx="890.2" cy="277.6" r="2.8"/><circle cx="890.5" cy="265.9" r="2.8"/><circle cx="890.9" cy="263.3" r="2.8"/><circle cx="891.2" cy="268.9" r="2.8"/><circle cx="891.5" cy="277.2" r="2.8"/><circle cx="891.9" cy="266" r="2.8"/><circle cx="892.2" cy="266.3" r="2.8"/><circle cx="892.6" cy="274.4" r="2.8"/><circle cx="892.9" cy="277.4" r="2.8"/><circle cx="893.2" cy="279.5" r="2.8"/><circle cx="893.6" cy="272.5" r="2.8"/><circle cx="893.9" cy="273.3" r="2.8"/><circle cx="894.2" cy="273.3" r="2.8"/><circle cx="894.6" cy="274.6" r="2.8"/><circle cx="894.9" cy="271.8" r="2.8"/><circle cx="895.2" cy="270.9" r="2.8"/><circle cx="895.6" cy="273.4" r="2.8"/><circle cx="895.9" cy="267.4" r="2.8"/><circle cx="896.3" cy="263.6" r="2.8"/><circle cx="896.6" cy="261.1" r="2.8"/><circle cx="896.9" cy="259.7" r="2.8"/><circle cx="897.3" cy="261.5" r="2.8"/><circle cx="897.6" cy="260.4" r="2.8"/><circle cx="897.9" cy="258.4" r="2.8"/><circle cx="898.3" cy="265" r="2.8"/><circle cx="898.6" cy="263.9" r="2.8"/><circle cx="899" cy="259" r="2.8"/><circle cx="899.3" cy="263.1" r="2.8"/><circle cx="899.6" cy="257.7" r="2.8"/><circle cx="900" cy="255.4" r="2.8"/><circle cx="900.3" cy="255.7" r="2.8"/><circle cx="900.6" cy="249.9" r="2.8"/><circle cx="901" cy="250.8" r="2.8"/><circle cx="901.3" cy="251.8" r="2.8"/><circle cx="901.6" cy="247.4" r="2.8"/><circle cx="902" cy="246.8" r="2.8"/><circle cx="902.3" cy="249.1" r="2.8"/><circle cx="902.7" cy="250.7" r="2.8"/><circle cx="903" cy="253.8" r="2.8"/><circle cx="903.3" cy="259.1" r="2.8"/><circle cx="903.7" cy="260.5" r="2.8"/><circle cx="904" cy="258.3" r="2.8"/><circle cx="904.3" cy="256" r="2.8"/><circle cx="904.7" cy="257.5" r="2.8"/><circle cx="905" cy="264" r="2.8"/><circle cx="905.4" cy="259.2" r="2.8"/><circle cx="905.7" cy="268.4" r="2.8"/><circle cx="906" cy="260.9" r="2.8"/><circle cx="906.4" cy="267.7" r="2.8"/><circle cx="906.7" cy="271.5" r="2.8"/><circle cx="907" cy="264.3" r="2.8"/><circle cx="907.4" cy="271.8" r="2.8"/><circle cx="907.7" cy="275.4" r="2.8"/><circle cx="908" cy="272" r="2.8"/><circle cx="908.4" cy="280.9" r="2.8"/><circle cx="908.7" cy="285.9" r="2.8"/><circle cx="909.1" cy="274.4" r="2.8"/><circle cx="909.4" cy="275.6" r="2.8"/><circle cx="909.7" cy="274.9" r="2.8"/><circle cx="910.1" cy="278.8" r="2.8"/><circle cx="910.4" cy="280.8" r="2.8"/><circle cx="910.7" cy="277.7" r="2.8"/><circle cx="911.1" cy="278" r="2.8"/><circle cx="911.4" cy="279.3" r="2.8"/><circle cx="911.8" cy="276.9" r="2.8"/><circle cx="912.1" cy="278.8" r="2.8"/><circle cx="912.4" cy="280.1" r="2.8"/><circle cx="912.8" cy="283" r="2.8"/><circle cx="913.1" cy="284.5" r="2.8"/><circle cx="913.4" cy="283.7" r="2.8"/><circle cx="913.8" cy="279.5" r="2.8"/><circle cx="914.1" cy="280.5" r="2.8"/><circle cx="914.4" cy="285.2" r="2.8"/><circle cx="914.8" cy="282.3" r="2.8"/><circle cx="915.1" cy="283.8" r="2.8"/><circle cx="915.5" cy="283.4" r="2.8"/><circle cx="915.8" cy="280.6" r="2.8"/><circle cx="916.1" cy="279.7" r="2.8"/><circle cx="916.5" cy="281.5" r="2.8"/><circle cx="916.8" cy="281.5" r="2.8"/><circle cx="917.1" cy="285.2" r="2.8"/><circle cx="917.5" cy="282.6" r="2.8"/><circle cx="917.8" cy="281.4" r="2.8"/><circle cx="918.2" cy="286" r="2.8"/><circle cx="918.5" cy="281.2" r="2.8"/><circle cx="918.8" cy="281.5" r="2.8"/><circle cx="919.2" cy="279.3" r="2.8"/><circle cx="919.5" cy="279.5" r="2.8"/><circle cx="919.8" cy="283.2" r="2.8"/><circle cx="920.2" cy="284.6" r="2.8"/><circle cx="920.5" cy="282.8" r="2.8"/><circle cx="920.8" cy="278.4" r="2.8"/><circle cx="921.2" cy="280.4" r="2.8"/><circle cx="921.5" cy="284.9" r="2.8"/><circle cx="921.9" cy="286.3" r="2.8"/><circle cx="922.2" cy="290" r="2.8"/><circle cx="922.5" cy="287.1" r="2.8"/><circle cx="922.9" cy="278.3" r="2.8"/><circle cx="923.2" cy="280.8" r="2.8"/><circle cx="923.5" cy="282.4" r="2.8"/><circle cx="923.9" cy="284.3" r="2.8"/><circle cx="924.2" cy="281.1" r="2.8"/><circle cx="924.6" cy="284.4" r="2.8"/><circle cx="924.9" cy="284.9" r="2.8"/><circle cx="925.2" cy="283" r="2.8"/><circle cx="925.6" cy="286.5" r="2.8"/><circle cx="925.9" cy="281.8" r="2.8"/><circle cx="926.2" cy="282.5" r="2.8"/><circle cx="926.6" cy="283.2" r="2.8"/><circle cx="926.9" cy="283.5" r="2.8"/><circle cx="927.2" cy="282" r="2.8"/><circle cx="927.6" cy="282.8" r="2.8"/><circle cx="927.9" cy="282" r="2.8"/><circle cx="865.5" cy="342" r="2.8"/><circle cx="865.5" cy="349.5" r="2.8"/><circle cx="550.5" cy="233.5" r="2.8"/><circle cx="552.5" cy="233.3" r="2.8"/><circle cx="555.5" cy="233.5" r="2.8"/><circle cx="538.5" cy="234" r="2.8"/><circle cx="918.3" cy="269.2" r="2.8"/><circle cx="375.2" cy="269.4" r="2.8"/><circle cx="375.2" cy="275" r="2.8"/><circle cx="379.4" cy="282" r="2.8"/><circle cx="375.6" cy="288" r="2.8"/><circle cx="379.4" cy="288.8" r="2.8"/><circle cx="376.9" cy="290.6" r="2.8"/><circle cx="376.9" cy="305" r="2.8"/><circle cx="378.8" cy="307" r="2.8"/><circle cx="378.8" cy="312" r="2.8"/><circle cx="377.5" cy="317" r="2.8"/><circle cx="378" cy="318.5" r="2.8"/><circle cx="377.4" cy="320.5" r="2.8"/><circle cx="172" cy="294" r="2.8"/><circle cx="172" cy="242" r="2.8"/><circle cx="175" cy="244" r="2.8"/><circle cx="173" cy="257.5" r="2.8"/><circle cx="172.5" cy="263" r="2.8"/><circle cx="198" cy="243.5" r="2.8"/><circle cx="198" cy="251" r="2.8"/><circle cx="215" cy="234.4" r="2.8"/><circle cx="208" cy="236" r="2.8"/><circle cx="237.5" cy="274" r="2.8"/><circle cx="237.5" cy="278.5" r="2.8"/><circle cx="236.2" cy="284" r="2.8"/><circle cx="257.5" cy="280" r="2.8"/><circle cx="257.3" cy="284" r="2.8"/><circle cx="258" cy="286" r="2.8"/><circle cx="459.4" cy="125" r="2.8"/><circle cx="457.5" cy="130" r="2.8"/><circle cx="464.4" cy="141.2" r="2.8"/><circle cx="461.9" cy="147.5" r="2.8"/><circle cx="460" cy="152" r="2.8"/><circle cx="461.9" cy="155.6" r="2.8"/><circle cx="477" cy="119.4" r="2.8"/><circle cx="475.6" cy="123.8" r="2.8"/><circle cx="478.8" cy="124.4" r="2.8"/><circle cx="477.5" cy="127" r="2.8"/><circle cx="475.6" cy="137" r="2.8"/><circle cx="480.6" cy="138.8" r="2.8"/><circle cx="481.2" cy="144.4" r="2.8"/><circle cx="483" cy="152" r="2.8"/><circle cx="482.5" cy="158" r="2.8"/><circle cx="482.5" cy="160.5" r="2.8"/><circle cx="218.4" cy="139" r="2.8"/><circle cx="218.4" cy="150" r="2.8"/><circle cx="276.4" cy="180.4" r="2.8"/><circle cx="181.4" cy="117.4" r="2.8"/><circle cx="181.3" cy="127.5" r="2.8"/><circle cx="182.5" cy="126.5" r="2.8"/><circle cx="183.8" cy="126.2" r="2.8"/><circle cx="184.2" cy="135" r="2.8"/><circle cx="184" cy="137.5" r="2.8"/><circle cx="187.5" cy="138.8" r="2.8"/><circle cx="187" cy="138" r="2.8"/><circle cx="188" cy="144" r="2.8"/><circle cx="191.2" cy="143" r="2.8"/><circle cx="185" cy="144.5" r="2.8"/><circle cx="186" cy="145" r="2.8"/><circle cx="191.2" cy="145.5" r="2.8"/><circle cx="183" cy="153" r="2.8"/><circle cx="189" cy="154.5" r="2.8"/><circle cx="189" cy="156" r="2.8"/><circle cx="191" cy="160" r="2.8"/><circle cx="190" cy="164.5" r="2.8"/><circle cx="190" cy="169" r="2.8"/><circle cx="192" cy="177.5" r="2.8"/><circle cx="189.4" cy="180.5" r="2.8"/><circle cx="190" cy="181" r="2.8"/><circle cx="192" cy="184" r="2.8"/><circle cx="193.8" cy="187" r="2.8"/><circle cx="194.4" cy="191" r="2.8"/><circle cx="195.6" cy="194" r="2.8"/><circle cx="189.4" cy="197.5" r="2.8"/><circle cx="189" cy="199" r="2.8"/><circle cx="380.5" cy="193.3" r="2.8"/><circle cx="380.5" cy="218.5" r="2.8"/><circle cx="420.4" cy="407" r="2.8"/><circle cx="421" cy="414" r="2.8"/><circle cx="419.4" cy="418" r="2.8"/><circle cx="452.4" cy="39.4" r="2.8"/><circle cx="450.6" cy="46.4" r="2.8"/><circle cx="450.6" cy="53.6" r="2.8"/><circle cx="451.6" cy="60" r="2.8"/><circle cx="448.4" cy="72.4" r="2.8"/><circle cx="455" cy="76.4" r="2.8"/><circle cx="452.4" cy="79" r="2.8"/><circle cx="456" cy="84" r="2.8"/><circle cx="455.6" cy="89" r="2.8"/><circle cx="455" cy="93" r="2.8"/><circle cx="453.6" cy="97" r="2.8"/><circle cx="449" cy="102" r="2.8"/><circle cx="454" cy="103" r="2.8"/><circle cx="449" cy="108" r="2.8"/><circle cx="457.4" cy="114" r="2.8"/><circle cx="457.4" cy="118.4" r="2.8"/><circle cx="449.6" cy="127.4" r="2.8"/><circle cx="459" cy="126" r="2.8"/><circle cx="458" cy="131" r="2.8"/><circle cx="464" cy="130" r="2.8"/><circle cx="466" cy="134" r="2.8"/><circle cx="460" cy="139" r="2.8"/><circle cx="471.6" cy="64.4" r="2.8"/><circle cx="471.6" cy="71.6" r="2.8"/><circle cx="472.4" cy="75.6" r="2.8"/><circle cx="464.4" cy="87.4" r="2.8"/><circle cx="471" cy="90" r="2.8"/><circle cx="472.4" cy="95.6" r="2.8"/><circle cx="466.4" cy="100" r="2.8"/><circle cx="470" cy="102" r="2.8"/><circle cx="465" cy="105" r="2.8"/><circle cx="469" cy="107" r="2.8"/><circle cx="477.4" cy="108" r="2.8"/><circle cx="469" cy="113" r="2.8"/><circle cx="467" cy="116" r="2.8"/><circle cx="478" cy="116" r="2.8"/><circle cx="474" cy="120" r="2.8"/><circle cx="477" cy="124" r="2.8"/><circle cx="468" cy="126" r="2.8"/><circle cx="475" cy="128" r="2.8"/><circle cx="481" cy="135.4" r="2.8"/><circle cx="476" cy="138" r="2.8"/><circle cx="447.6" cy="198" r="2.8"/><circle cx="447" cy="204" r="2.8"/><circle cx="446" cy="208" r="2.8"/><circle cx="446.6" cy="222" r="2.8"/><circle cx="446.4" cy="225" r="2.8"/><circle cx="448.4" cy="155.4" r="2.8"/><circle cx="634.4" cy="238" r="2.8"/><circle cx="634.4" cy="252.4" r="2.8"/><circle cx="635.4" cy="267" r="2.8"/><circle cx="635.2" cy="274" r="2.8"/><circle cx="635.6" cy="281" r="2.8"/><circle cx="174.4" cy="227.6" r="2.8"/><circle cx="174.4" cy="181.4" r="2.8"/><circle cx="174.4" cy="120" r="2.8"/><circle cx="112.2" cy="440.4" r="2.8"/><circle cx="125.4" cy="463.6" r="2.8"/><circle cx="145" cy="358" r="2.8"/><circle cx="144" cy="361" r="2.8"/></g>
<polyline points="111.6,482.4 112.1,479.7 112.6,477.1 113.1,474.5 113.6,472 114.1,469.5 114.6,467.1 115.1,464.8 115.6,462.7 116.1,460.6 116.6,458.9 117.1,457.6 117.6,456.7 118.1,455.8 118.6,455.2 119.1,454.7 119.6,454.4 120.1,454 120.6,453.7 121.1,453.2 121.6,452.6 122.1,451.8 122.6,450.9 123.1,450 123.6,449 124.1,447.9 124.6,446.7 125.1,445.5 125.6,444.1 126.1,442.7 126.6,441.2 127.1,439.5 127.6,437.9 128.1,436.2 128.6,434.5 129.1,432.9 129.6,431.2 130.1,429.7 130.6,428.2 131.1,426.7 131.6,425.3 132.1,423.9 132.6,422.5 133.1,421.2 133.6,420 134.1,418.8 134.6,417.8 135.1,417.1 135.6,416.6 136.1,416.1 136.6,415.7 137.1,415.2 137.6,414.6 138.1,413.8 138.6,412.9 139.1,411.8 139.6,410.4 140.1,408.6 140.6,406.5 141.1,404.3 141.6,401.9 142.1,399.5 142.6,396.9 143.1,394.1 143.6,391.4 144.1,388.9 144.6,386.9 145.1,385.7 145.6,385.3 146.1,385.4 146.6,385.7 147.1,386.1 147.6,386.7 148.1,387.7 148.6,388.8 149.1,389.7 149.6,390.2 150.1,389.9 150.6,389.2 151.1,388.4 151.6,387.5 152.1,386.5 152.6,385.4 153.1,384.2 153.6,383 154.1,381.7 154.6,380.5 155.1,379.2 155.6,377.9 156.1,376.5 156.6,375.2 157.1,373.9 157.6,372.5 158.1,371.2 158.6,369.8 159.1,368.5 159.6,367.1 160.1,365.7 160.6,364.4 161.1,363.1 161.6,361.8 162.1,360.5 162.6,359.1 163.1,357.6 163.6,356.1 164.1,354.3 164.6,352.5 165.1,350.4 165.6,348 166.1,345.5 166.6,342.4 167.1,339 167.6,335.2 168.1,331.2 168.6,327.2 169.1,323.2 169.6,319.3 170.1,315.3 170.6,311.3 171.1,307.2 171.6,302.6 172.1,297.8 172.6,293.2 173.1,289.3 173.6,285.6 174.1,282.1 174.6,278.6 175.1,275.2 175.6,271.8 176.1,268.5 176.6,265.2 177.1,261.9 177.6,258.6 178.1,255.3 178.6,252.1 179.1,248.9 179.6,245.7 180.1,242.5 180.6,239.3 181.1,236 181.6,232.6 182.1,228.8 182.6,224.9 183.1,220.9 183.6,217.1 184.1,213.5 184.6,210 185.1,206.9 185.6,204 186.1,201.6 186.6,199.9 187.1,199.1 187.6,198.9 188.1,199 188.6,199.4 189.1,200.1 189.6,200.9 190.1,201.8 190.6,202.6 191.1,203.3 191.6,203.9 192.1,204.1 192.6,203.9 193.1,203.6 193.6,203.2 194.1,202.7 194.6,202.2 195.1,201.6 195.6,200.9 196.1,200.1 196.6,199.3 197.1,198.3 197.6,197.3 198.1,196.2 198.6,195.1 199.1,193.9 199.6,192.8 200.1,191.6 200.6,190.4 201.1,189.3 201.6,188.2 202.1,187.1 202.6,185.9 203.1,184.8 203.6,183.8 204.1,183 204.6,182.3 205.1,182 205.6,182.2 206.1,183.1 206.6,184.3 207.1,185.6 207.6,186.8 208.1,187.6 208.6,188.4 209.1,189.1 209.6,189.9 210.1,190.5 210.6,190.9 211.1,191 211.6,190.9 212.1,190.7 212.6,190.5 213.1,190.3 213.6,190.1 214.1,189.9 214.6,189.7 215.1,189.5 215.6,189.3 216.1,189.1 216.6,188.9 217.1,188.6 217.6,188.4 218.1,188.2 218.6,187.9 219.1,187.7 219.6,187.6 220.1,187.5 220.6,187.5 221.1,188 221.6,189.3 222.1,190.9 222.6,192.7 223.1,194.3 223.6,195.8 224.1,197.4 224.6,199.1 225.1,200.7 225.6,202.2 226.1,203.6 226.6,204.7 227.1,205.4 227.6,205.6 228.1,205.6 228.6,205.6 229.1,205.5 229.6,205 230.1,204.4 230.6,203.6 231.1,203.1 231.6,202.8 232.1,203.1 232.6,203.9 233.1,205.1 233.6,206.6 234.1,208.5 234.6,210.6 235.1,213 235.6,215.5 236.1,217.9 236.6,220.4 237.1,223 237.6,225.5 238.1,228.2 238.6,231 239.1,233.6 239.6,235.8 240.1,237.4 240.6,238.5 241.1,239.2 241.6,239.7 242.1,240 242.6,240.3 243.1,240.6 243.6,241.3 244.1,242.2 244.6,243.3 245.1,244.5 245.6,245.6 246.1,246.8 246.6,248 247.1,249.2 247.6,250.4 248.1,251.6 248.6,252.8 249.1,254 249.6,255.1 250.1,256.2 250.6,257.4 251.1,258.7 251.6,259.9 252.1,260.9 252.6,261.8 253.1,262.3 253.6,262.3 254.1,261.9 254.6,261 255.1,259.9 255.6,258.6 256.1,257.1 256.6,255.5 257.1,253.8 257.6,252.2 258.1,250.6 258.6,249.1 259.1,247.7 259.6,246.5 260.1,245.3 260.6,244.1 261.1,243 261.6,241.9 262.1,240.8 262.6,240.5 263.1,240.9 263.6,241.8 264.1,242.9 264.6,243.8 265.1,244.3 265.6,244 266.1,242.6 266.6,240.2 267.1,237.4 267.6,235 268.1,233 268.6,231.1 269.1,229.1 269.6,227.2 270.1,225.4 270.6,223.5 271.1,221.6 271.6,219.9 272.1,218.3 272.6,217.1 273.1,216.2 273.6,216 274.1,216.7 274.6,218 275.1,219.8 275.6,221.9 276.1,224.2 276.6,226.4 277.1,228.7 277.6,231 278.1,233.5 278.6,236.1 279.1,238.9 279.6,241.9 280.1,244.9 280.6,247.8 281.1,250.5 281.6,253 282.1,255.4 282.6,257.5 283.1,259.4 283.6,261.1 284.1,262.7 284.6,264 285.1,265.2 285.6,266 286.1,266.4 286.6,266.3 287.1,266 287.6,265.5 288.1,264.9 288.6,264.2 289.1,263.6 289.6,263.1 290.1,262.8 290.6,262.8 291.1,263.2 291.6,264 292.1,265.3 292.6,266.9 293.1,268.5 293.6,270.2 294.1,271.8 294.6,273.5 295.1,275.1 295.6,276.8 296.1,278.3 296.6,279.8 297.1,281.4 297.6,282.9 298.1,284.4 298.6,285.9 299.1,287.4 299.6,288.9 300.1,290.4 300.6,291.9 301.1,293.4 301.6,294.8 302.1,296.3 302.6,297.6 303.1,298.8 303.6,299.8 304.1,300.8 304.6,301.6 305.1,302.4 305.6,303.1 306.1,303.8 306.6,304.5 307.1,305.3 307.6,306 308.1,306.9 308.6,307.8 309.1,308.8 309.6,310 310.1,311.3 310.6,313.3 311.1,316 311.6,319 312.1,321.9 312.6,324.5 313.1,326.3 313.6,327.7 314.1,328.9 314.6,330 315.1,330.8 315.6,331.5 316.1,332.1 316.6,332.4 317.1,332.5 317.6,332.4 318.1,332.3 318.6,332.2 319.1,332.3 319.6,332.5 320.1,333.2 320.6,334.2 321.1,335.7 321.6,337.8 322.1,340.1 322.6,342.5 323.1,345.1 323.6,347.7 324.1,350.4 324.6,353 325.1,355.5 325.6,357.6 326.1,359.5 326.6,361 327.1,362.3 327.6,363.2 328.1,363.9 328.6,364.5 329.1,365.1 329.6,365.6 330.1,366 330.6,366.5 331.1,367.2 331.6,368 332.1,369 332.6,370.1 333.1,371.2 333.6,372.2 334.1,373.2 334.6,374.1 335.1,374.9 335.6,375.8 336.1,376.6 336.6,377.4 337.1,378.1 337.6,378.8 338.1,379.3 338.6,379.7 339.1,380.1 339.6,380.3 340.1,380.5 340.6,380.5 341.1,380.3 341.6,379.8 342.1,379.1 342.6,378.1 343.1,376.7 343.6,375.1 344.1,373.4 344.6,371.6 345.1,369.6 345.6,367.4 346.1,365.1 346.6,362.8 347.1,360.6 347.6,358.4 348.1,356.2 348.6,354.2 349.1,352.3 349.6,350.7 350.1,349.4 350.6,348.3 351.1,347.4 351.6,346.4 352.1,345.6 352.6,344.8 353.1,343.8 353.6,342.4 354.1,340.9 354.6,339.2 355.1,337.4 355.6,335.7 356.1,333.8 356.6,331.5 357.1,328.5 357.6,322.5 358.1,315.1 358.6,308.8 359.1,305.1 359.6,302.5 360.1,300.4 360.6,298.9 361.1,298.1 361.6,297.7 362.1,297.6 362.6,297.6 363.1,298.1 363.6,299.2 364.1,300.5 364.6,301.9 365.1,303.4 365.6,305 366.1,306.7 366.6,308.5 367.1,310.4 367.6,312.2 368.1,313.8 368.6,315.1 369.1,316 369.6,316.6 370.1,317 370.6,317.3 371.1,317.5 371.6,317.6 372.1,317.6 372.6,317.5 373.1,317.2 373.6,316.5 374.1,315.5 374.6,314.4 375.1,313.2 375.6,311.8 376.1,310.4 376.6,308.9 377.1,307.3 377.6,305.7 378.1,304 378.6,302.4 379.1,301 379.6,299.7 380.1,298.7 380.6,298.3 381.1,298.6 381.6,299.3 382.1,300.2 382.6,301.1 383.1,301.9 383.6,302.8 384.1,303.5 384.6,304.3 385.1,305.2 385.6,305.9 386.1,306.6 386.6,307.1 387.1,307.4 387.6,307.4 388.1,307.2 388.6,306.8 389.1,306.3 389.6,305.7 390.1,305.1 390.6,304.6 391.1,304.3 391.6,304.1 392.1,303.8 392.6,303.7 393.1,303.5 393.6,303.3 394.1,303.2 394.6,303 395.1,302.9 395.6,302.8 396.1,302.7 396.6,302.6 397.1,302.5 397.6,302.5 398.1,302.7 398.6,303.2 399.1,303.9 399.6,304.7 400.1,305.6 400.6,306.4 401.1,307 401.6,307.4 402.1,307.5 402.6,307.2 403.1,306.6 403.6,305.8 404.1,304.9 404.6,303.8 405.1,302.8 405.6,301.7 406.1,300.5 406.6,299.4 407.1,298.3 407.6,297 408.1,296.3 408.6,296.7 409.1,297.8 409.6,299.1 410.1,300.5 410.6,302 411.1,303.5 411.6,304.9 412.1,306.3 412.6,307.6 413.1,308.9 413.6,310.3 414.1,311.6 414.6,312.8 415.1,314.1 415.6,315.2 416.1,316.2 416.6,316.5 417.1,316.2 417.6,315.6 418.1,314.8 418.6,314.2 419.1,314 419.6,314.1 420.1,314.3 420.6,314.5 421.1,314.8 421.6,315.1 422.1,315.4 422.6,315.6 423.1,315.8 423.6,316 424.1,316 424.6,315.9 425.1,315.6 425.6,315.2 426.1,314.7 426.6,314.1 427.1,313.4 427.6,312.6 428.1,311.8 428.6,310.9 429.1,309.7 429.6,308 430.1,305.8 430.6,302.9 431.1,299.1 431.6,294 432.1,289.1 432.6,284.9 433.1,280.6 433.6,276.4 434.1,272.1 434.6,267.9 435.1,263.6 435.6,259.4 436.1,255.2 436.6,251.5 437.1,248.5 437.6,245.9 438.1,243.5 438.6,241.3 439.1,239 439.6,236.8 440.1,234.5 440.6,232.1 441.1,229.7 441.6,227.1 442.1,224.5 442.6,221.3 443.1,217.5 443.6,213 444.1,207.8 444.6,202.2 445.1,197 445.6,192.3 446.1,187.7 446.6,183.3 447.1,179.2 447.6,175.4 448.1,172 448.6,169 449.1,166.5 449.6,164.5 450.1,163 450.6,161.8 451.1,160.7 451.6,160.1 452.1,160.1 452.6,160.5 453.1,161.1 453.6,161.7 454.1,162.5 454.6,163.3 455.1,164 455.6,164.6 456.1,165.1 456.6,165.5 457.1,166 457.6,166.4 458.1,166.7 458.6,167 459.1,167.1 459.6,167.1 460.1,167 460.6,166.5 461.1,165.9 461.6,165.1 462.1,164.1 462.6,163.1 463.1,162 463.6,160.9 464.1,159.8 464.6,158.5 465.1,157.1 465.6,155.5 466.1,153.8 466.6,152.2 467.1,150.5 467.6,149 468.1,147.7 468.6,146.6 469.1,145.9 469.6,145.7 470.1,146.1 470.6,146.9 471.1,147.9 471.6,149.2 472.1,150.4 472.6,151.6 473.1,152.5 473.6,153 474.1,153 474.6,152.7 475.1,152.5 475.6,152.2 476.1,151.9 476.6,151.7 477.1,151.4 477.6,151.2 478.1,151 478.6,150.8 479.1,150.6 479.6,150.4 480.1,150.3 480.6,150.2 481.1,150.1 481.6,150 482.1,150 482.6,150.3 483.1,150.8 483.6,151.6 484.1,152.7 484.6,153.9 485.1,155.3 485.6,156.8 486.1,158.3 486.6,160.1 487.1,162.1 487.6,164.2 488.1,166.5 488.6,168.7 489.1,170.8 489.6,172.7 490.1,174.3 490.6,175.6 491.1,176.6 491.6,177.4 492.1,178.1 492.6,178.4 493.1,178.1 493.6,177.5 494.1,176.9 494.6,176.5 495.1,176.4 495.6,177 496.1,178.3 496.6,180.3 497.1,182.6 497.6,185.1 498.1,187.9 498.6,190.7 499.1,193.6 499.6,196.6 500.1,199.8 500.6,202.8 501.1,205.5 501.6,207.8 502.1,209.9 502.6,211.7 503.1,213.3 503.6,214.8 504.1,216.3 504.6,217.8 505.1,219.3 505.6,220.8 506.1,222.3 506.6,223.9 507.1,225.6 507.6,227.2 508.1,228.9 508.6,230.6 509.1,232.2 509.6,233.8 510.1,235.3 510.6,236.7 511.1,237.9 511.6,239.1 512.1,240.2 512.6,241.2 513.1,242.2 513.6,243.2 514.1,244.2 514.6,245.1 515.1,246 515.6,246.9 516.1,247.7 516.6,248.4 517.1,249.1 517.6,249.6 518.1,249.8 518.6,249.8 519.1,249.3 519.6,248.5 520.1,247.2 520.6,245.6 521.1,243.6 521.6,241.1 522.1,238.3 522.6,235.7 523.1,233.7 523.6,232.3 524.1,231.4 524.6,230.9 525.1,230.8 525.6,231.1 526.1,231.6 526.6,232.1 527.1,232.6 527.6,233.1 528.1,233.5 528.6,234 529.1,234.3 529.6,234.5 530.1,234.5 530.6,233.6 531.1,231.9 531.6,229.8 532.1,227.6 532.6,225.2 533.1,222.7 533.6,220.2 534.1,217.8 534.6,215.6 535.1,213.6 535.6,211.8 536.1,210.1 536.6,208.7 537.1,207.9 537.6,207.5 538.1,207.5 538.6,208 539.1,209.2 539.6,211 540.1,213.5 540.6,216.7 541.1,220.4 541.6,224.2 542.1,227.6 542.6,230.8 543.1,233.9 543.6,236.8 544.1,239.5 544.6,242.1 545.1,244.5 545.6,246.6 546.1,248.3 546.6,249.7 547.1,250.8 547.6,251.6 548.1,252.1 548.6,252.4 549.1,252.7 549.6,252.9 550.1,253.1 550.6,253.2 551.1,253.2 551.6,253.2 552.1,253.2 552.6,253 553.1,252.7 553.6,252.3 554.1,251.9 554.6,251.6 555.1,251.5 555.6,251.5 556.1,251.6 556.6,252 557.1,252.6 557.6,253.5 558.1,254.8 558.6,256.4 559.1,258.3 559.6,260.2 560.1,261.8 560.6,263.4 561.1,265.1 561.6,266.7 562.1,268.3 562.6,269.8 563.1,271.1 563.6,272.3 564.1,273.2 564.6,273.9 565.1,274.7 565.6,275.4 566.1,276 566.6,276.6 567.1,277.2 567.6,277.8 568.1,278.5 568.6,279.1 569.1,279.7 569.6,280.4 570.1,281.2 570.6,281.9 571.1,282.7 571.6,283.4 572.1,284.2 572.6,284.9 573.1,285.7 573.6,286.4 574.1,287.2 574.6,287.9 575.1,288.7 575.6,289.4 576.1,290.2 576.6,290.9 577.1,291.7 577.6,292.4 578.1,293.2 578.6,293.9 579.1,294.7 579.6,295.4 580.1,296.1 580.6,296.3 581.1,295.8 581.6,294.9 582.1,293.9 582.6,293 583.1,292.4 583.6,292.4 584.1,293.2 584.6,294.6 585.1,296.3 585.6,298.1 586.1,300.2 586.6,302.3 587.1,304.4 587.6,306.8 588.1,309.3 588.6,311.9 589.1,314.4 589.6,316.6 590.1,318.3 590.6,319.8 591.1,321.1 591.6,322.3 592.1,323.4 592.6,324.3 593.1,325.2 593.6,326 594.1,326.7 594.6,327.4 595.1,328.1 595.6,328.8 596.1,329.5 596.6,330.2 597.1,330.8 597.6,331.4 598.1,332 598.6,332.6 599.1,333.1 599.6,333.6 600.1,334.1 600.6,334.5 601.1,334.8 601.6,335.1 602.1,335.4 602.6,335.6 603.1,335.7 603.6,335.8 604.1,335.9 604.6,336 605.1,336 605.6,335.8 606.1,335.5 606.6,334.9 607.1,334.2 607.6,333.3 608.1,332.3 608.6,331 609.1,329.3 609.6,327.1 610.1,324.4 610.6,321.1 611.1,317.6 611.6,314.4 612.1,311.1 612.6,308.2 613.1,306.2 613.6,304.9 614.1,303.9 614.6,303.1 615.1,302.3 615.6,301.6 616.1,301 616.6,300.4 617.1,299.6 617.6,298.5 618.1,297.2 618.6,295.8 619.1,294.3 619.6,292.7 620.1,291.2 620.6,289.7 621.1,288 621.6,286 622.1,283.4 622.6,280.4 623.1,276.9 623.6,273.4 624.1,270.6 624.6,268.5 625.1,266.7 625.6,265.3 626.1,264.6 626.6,264.8 627.1,265.7 627.6,267.4 628.1,269.5 628.6,271.8 629.1,274.2 629.6,276.7 630.1,279.3 630.6,281.8 631.1,284.3 631.6,286.6 632.1,288.8 632.6,290.8 633.1,292.5 633.6,294.1 634.1,295.4 634.6,296.4 635.1,297.1 635.6,297.6 636.1,297.9 636.6,298 637.1,298 637.6,297.8 638.1,297.6 638.6,297.1 639.1,296.5 639.6,295.6 640.1,294.4 640.6,293 641.1,291.5 641.6,290.2 642.1,289.2 642.6,288.3 643.1,287.7 643.6,287.3 644.1,287.3 644.6,287.7 645.1,288.5 645.6,289.5 646.1,290.6 646.6,291.8 647.1,293 647.6,294.5 648.1,296.2 648.6,297.8 649.1,299.3 649.6,300.4 650.1,301.1 650.6,301.5 651.1,302 651.6,302.4 652.1,302.8 652.6,303.2 653.1,303.6 653.6,303.9 654.1,304.3 654.6,304.7 655.1,305.1 655.6,305.4 656.1,305.8 656.6,306.2 657.1,306.5 657.6,306.9 658.1,307.2 658.6,307.6 659.1,308 659.6,308.4 660.1,308.8 660.6,309.6 661.1,310.6 661.6,311.7 662.1,313 662.6,314.2 663.1,315.2 663.6,316.2 664.1,317.1 664.6,318 665.1,318.9 665.6,319.7 666.1,320.4 666.6,320.9 667.1,321.1 667.6,320.9 668.1,320.5 668.6,320.1 669.1,319.6 669.6,318.8 670.1,317.7 670.6,316.6 671.1,315.7 671.6,315.1 672.1,315.1 672.6,315.9 673.1,317.4 673.6,319.3 674.1,321.6 674.6,324.2 675.1,326.8 675.6,329.4 676.1,331.8 676.6,334.1 677.1,336.3 677.6,338.1 678.1,339.1 678.6,339.8 679.1,340.3 679.6,340.8 680.1,341.2 680.6,341.6 681.1,342 681.6,342.5 682.1,343.1 682.6,343.7 683.1,344.4 683.6,345 684.1,345.6 684.6,346.3 685.1,346.9 685.6,347.5 686.1,348.1 686.6,348.7 687.1,349.2 687.6,349.8 688.1,350.3 688.6,350.7 689.1,351.2 689.6,351.7 690.1,352.1 690.6,352.4 691.1,352.4 691.6,352.4 692.1,352.2 692.6,351.9 693.1,351.5 693.6,351.1 694.1,350.6 694.6,349.9 695.1,348.8 695.6,347.4 696.1,345.6 696.6,343.6 697.1,341.6 697.6,339.6 698.1,337.6 698.6,335.6 699.1,333.6 699.6,331.6 700.1,329.6 700.6,327.6 701.1,325.6 701.6,323.6 702.1,321.6 702.6,320.1 703.1,319.1 703.6,318.4 704.1,317.9 704.6,317.3 705.1,316.6 705.6,315.4 706.1,313.6 706.6,311.5 707.1,309.2 707.6,306.9 708.1,304.5 708.6,302 709.1,299.5 709.6,296.9 710.1,294.2 710.6,291.5 711.1,288.7 711.6,286.1 712.1,283.5 712.6,281.2 713.1,279.4 713.6,278.4 714.1,278.5 714.6,279.4 715.1,280.7 715.6,282.4 716.1,284.3 716.6,286.3 717.1,288.4 717.6,290.7 718.1,293.2 718.6,295.7 719.1,298.2 719.6,300.4 720.1,302.4 720.6,304 721.1,305.4 721.6,306.5 722.1,307.4 722.6,308 723.1,308.3 723.6,308.2 724.1,307.9 724.6,307.4 725.1,306.9 725.6,306.3 726.1,305.7 726.6,305 727.1,304.3 727.6,303.6 728.1,302.8 728.6,302 729.1,301 729.6,299.9 730.1,298.9 730.6,297.9 731.1,297 731.6,296.4 732.1,295.9 732.6,296 733.1,296.4 733.6,297.2 734.1,298.2 734.6,299.2 735.1,300.2 735.6,301.3 736.1,302.7 736.6,304.1 737.1,305.5 737.6,306.8 738.1,307.9 738.6,308.7 739.1,309 739.6,309.3 740.1,309.5 740.6,309.7 741.1,309.9 741.6,310.1 742.1,310.2 742.6,310.4 743.1,310.6 743.6,310.8 744.1,311 744.6,311.2 745.1,311.4 745.6,311.7 746.1,311.9 746.6,312.1 747.1,312.3 747.6,312.5 748.1,312.7 748.6,312.9 749.1,313.1 749.6,313.3 750.1,313.6 750.6,314.2 751.1,315.2 751.6,316.6 752.1,317.9 752.6,319.2 753.1,320.2 753.6,321 754.1,321.7 754.6,322.1 755.1,321.9 755.6,321.3 756.1,320.6 756.6,319.7 757.1,318.8 757.6,317.8 758.1,316.6 758.6,315.6 759.1,314.9 759.6,315 760.1,315.8 760.6,317.2 761.1,318.8 761.6,320.6 762.1,322.3 762.6,324.3 763.1,326.6 763.6,329.1 764.1,331.5 764.6,333.8 765.1,335.8 765.6,337.3 766.1,338.1 766.6,338.7 767.1,339.2 767.6,339.7 768.1,340.2 768.6,340.6 769.1,341 769.6,341.4 770.1,341.7 770.6,342.1 771.1,342.4 771.6,342.7 772.1,343.1 772.6,343.4 773.1,343.7 773.6,344 774.1,344.3 774.6,344.7 775.1,344.9 775.6,345.2 776.1,345.5 776.6,345.8 777.1,346 777.6,346.2 778.1,346.3 778.6,346.3 779.1,346.2 779.6,345.8 780.1,345.4 780.6,344.7 781.1,343.8 781.6,342.6 782.1,341.2 782.6,339.5 783.1,337.6 783.6,335.6 784.1,333.6 784.6,331.4 785.1,329.1 785.6,326.7 786.1,324.3 786.6,321.9 787.1,319.7 787.6,317.5 788.1,315.6 788.6,314 789.1,312.5 789.6,311.2 790.1,310 790.6,308.9 791.1,307.8 791.6,307.2 792.1,307.2 792.6,307.1 793.1,306.8 793.6,305.7 794.1,303.5 794.6,300.8 795.1,298.1 795.6,295.5 796.1,292.8 796.6,290.1 797.1,287.5 797.6,284.8 798.1,282.1 798.6,279.5 799.1,276.8 799.6,274.1 800.1,271.5 800.6,268.8 801.1,266.5 801.6,264.9 802.1,264.2 802.6,264.8 803.1,266.1 803.6,267.9 804.1,270 804.6,272.2 805.1,274.4 805.6,276.8 806.1,279.3 806.6,281.8 807.1,284.2 807.6,286.5 808.1,288.3 808.6,289.8 809.1,291 809.6,291.8 810.1,292.4 810.6,292.7 811.1,292.9 811.6,293 812.1,293 812.6,292.9 813.1,292.8 813.6,292.6 814.1,292.2 814.6,291.6 815.1,290.8 815.6,289.8 816.1,288.6 816.6,287.3 817.1,286 817.6,284.8 818.1,283.8 818.6,282.8 819.1,281.8 819.6,281.1 820.1,280.8 820.6,281.2 821.1,282 821.6,282.9 822.1,284 822.6,285.1 823.1,286.2 823.6,287.4 824.1,288.8 824.6,290.1 825.1,291.3 825.6,292.4 826.1,293.1 826.6,293.7 827.1,294 827.6,294.3 828.1,294.5 828.6,294.7 829.1,294.8 829.6,294.9 830.1,295 830.6,295.2 831.1,295.2 831.6,295.3 832.1,295.4 832.6,295.5 833.1,295.5 833.6,295.6 834.1,295.7 834.6,295.9 835.1,296 835.6,296.3 836.1,296.7 836.6,297.2 837.1,297.7 837.6,298.3 838.1,298.9 838.6,299.5 839.1,300.1 839.6,301 840.1,302.2 840.6,303.5 841.1,304.8 841.6,306 842.1,306.8 842.6,307.1 843.1,306.9 843.6,306.4 844.1,305.6 844.6,304.7 845.1,303.8 845.6,302.7 846.1,301.5 846.6,300.3 847.1,299.3 847.6,298.8 848.1,298.8 848.6,299.6 849.1,301.4 849.6,303.6 850.1,305.9 850.6,308.2 851.1,310.5 851.6,312.8 852.1,315.1 852.6,317.5 853.1,319.7 853.6,321.5 854.1,322.7 854.6,323.3 855.1,323.6 855.6,323.9 856.1,324 856.6,324.1 857.1,324.2 857.6,324.3 858.1,324.7 858.6,325.2 859.1,325.6 859.6,326.1 860.1,326.6 860.6,327.1 861.1,327.6 861.6,328.1 862.1,328.5 862.6,329 863.1,329.5 863.6,329.9 864.1,330.4 864.6,330.7 865.1,330.8 865.6,330.8 866.1,330.8 866.6,330.7 867.1,330.6 867.6,330.5 868.1,330.2 868.6,329.9 869.1,329.4 869.6,328.9 870.1,328.2 870.6,327.3 871.1,326.3 871.6,324.9 872.1,323.2 872.6,321.1 873.1,318.4 873.6,315.5 874.1,312.4 874.6,309.4 875.1,306.4 875.6,303.4 876.1,300.4 876.6,297.7 877.1,295.7 877.6,294.3 878.1,293.4 878.6,292.6 879.1,291.8 879.6,291 880.1,290.2 880.6,289.4 881.1,288.6 881.6,287.9 882.1,287.3 882.6,286.9 883.1,286.3 883.6,285.4 884.1,283.3 884.6,279.4 885.1,275.2 885.6,271.2 886.1,267.2 886.6,263.3 887.1,259.6 887.6,256.2 888.1,253.2 888.6,251.3 889.1,250.1 889.6,249.1 890.1,248.7 890.6,249 891.1,249.5 891.6,250.3 892.1,252.1 892.6,254.4 893.1,256.9 893.6,259.3 894.1,261.6 894.6,263.9 895.1,266.1 895.6,268.3 896.1,270.4 896.6,272.3 897.1,273.9 897.6,275.1 898.1,276 898.6,276.8 899.1,277.4 899.6,277.9 900.1,278.1 900.6,278.2 901.1,278.1 901.6,277.8 902.1,277.4 902.6,276.8 903.1,276.1 903.6,275.3 904.1,274.2 904.6,273 905.1,271.7 905.6,270.3 906.1,269.1 906.6,268 907.1,267 907.6,266.1 908.1,265.4 908.6,265.1 909.1,265 909.6,265.5 910.1,266.2 910.6,267.3 911.1,268.4 911.6,269.7 912.1,271.3 912.6,273 913.1,274.5 913.6,275.7 914.1,276.5 914.6,277.2 915.1,277.7 915.6,278.2 916.1,278.6 916.6,279 917.1,279.2 917.6,279.4 918.1,279.6 918.6,279.7 919.1,279.8 919.6,279.9 920.1,280 920.6,280.1 921.1,280.1 921.6,280.3 922.1,280.4 922.6,280.6 923.1,280.9 923.6,281.1 924.1,281.4 924.6,281.8 925.1,282.2 925.6,282.8 926.1,283.5 926.6,284.4 927.1,285.3 927.6,286.3 928.1,287.4 928.6,288.4" fill="none" stroke="#0072B2" stroke-width="2.08" stroke-linejoin="round" stroke-linecap="butt"/>
<polygon points="929,258 932,257 934,253 935.5,251 937.5,253 938.5,258 940,259 941,267 943,273 944.5,276 944.5,311 943.5,310 942,307 940,301 938,294 936,287 934,288 931,292 929,289" fill="#0072B2"/>
<g fill="#f00"><circle cx="930" cy="289" r="2.8"/><circle cx="930.5" cy="287.5" r="2.8"/><circle cx="931" cy="286" r="2.8"/><circle cx="931.6" cy="284.5" r="2.8"/><circle cx="932.2" cy="283" r="2.8"/><circle cx="932.8" cy="281.5" r="2.8"/><circle cx="933.4" cy="280" r="2.8"/><circle cx="934" cy="278.5" r="2.8"/><circle cx="934.5" cy="276.5" r="2.8"/><circle cx="935.2" cy="277.5" r="2.8"/><circle cx="936" cy="279" r="2.8"/><circle cx="937" cy="280.5" r="2.8"/></g>
</g>
<g stroke="#000" stroke-width="1.11"><line x1="138.5" x2="138.5" y1="542.5" y2="547.4"/><line x1="226.5" x2="226.5" y1="542.5" y2="547.4"/><line x1="314.5" x2="314.5" y1="542.5" y2="547.4"/><line x1="402.5" x2="402.5" y1="542.5" y2="547.4"/><line x1="490.5" x2="490.5" y1="542.5" y2="547.4"/><line x1="578.5" x2="578.5" y1="542.5" y2="547.4"/><line x1="666.5" x2="666.5" y1="542.5" y2="547.4"/><line x1="753.5" x2="753.5" y1="542.5" y2="547.4"/><line x1="842.5" x2="842.5" y1="542.5" y2="547.4"/><line x1="929.5" x2="929.5" y1="542.5" y2="547.4"/><line x1="66.6" x2="71.5" y1="456.5" y2="456.5"/><line x1="66.6" x2="71.5" y1="352.5" y2="352.5"/><line x1="66.6" x2="71.5" y1="248.5" y2="248.5"/><line x1="66.6" x2="71.5" y1="145.5" y2="145.5"/><line x1="66.6" x2="71.5" y1="41.5" y2="41.5"/></g>
<rect x="71.5" y="15.5" width="914.0" height="527.0" fill="none" stroke="#000" stroke-width="1.11"/>
<text x="137.7" y="561.9" text-anchor="middle">2017</text><text x="225.7" y="561.9" text-anchor="middle">2018</text><text x="313.7" y="561.9" text-anchor="middle">2019</text><text x="401.7" y="561.9" text-anchor="middle">2020</text><text x="489.7" y="561.9" text-anchor="middle">2021</text><text x="577.7" y="561.9" text-anchor="middle">2022</text><text x="665.7" y="561.9" text-anchor="middle">2023</text><text x="752.7" y="561.9" text-anchor="middle">2024</text><text x="841.7" y="561.9" text-anchor="middle">2025</text><text x="928.7" y="561.9" text-anchor="middle">2026</text><text x="59.0" y="460.7" text-anchor="end" letter-spacing="-0.8">50</text><text x="59.4" y="356.7" text-anchor="end" letter-spacing="-0.9">100</text><text x="59.75" y="253.7" text-anchor="end" letter-spacing="-0.45">150</text><text x="60.9" y="149.7" text-anchor="end" letter-spacing="-0.1">200</text><text x="60.9" y="46.7" text-anchor="end" letter-spacing="-0.1">250</text>
<text x="528.9" y="581.7" text-anchor="middle">ds</text>
<text transform="translate(24.5,279) rotate(-90)" text-anchor="middle">y</text>
</svg>
</body></html>
